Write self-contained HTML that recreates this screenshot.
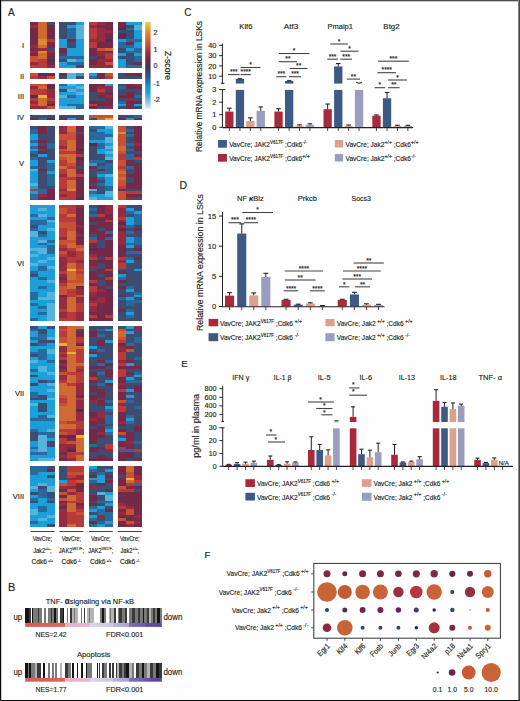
<!DOCTYPE html>
<html><head><meta charset="utf-8"><style>
html,body{margin:0;padding:0;background:#fff;}
body{width:520px;height:701px;overflow:hidden;}
svg{display:block;font-family:"Liberation Sans", sans-serif;}
text{fill:#231f20;stroke:#231f20;stroke-width:0.15px;}
</style></head><body>
<svg width="520" height="701" viewBox="0 0 520 701">
<rect width="520" height="701" fill="#fefefe"/>
<g shape-rendering="crispEdges">
<rect x="30.40" y="21.90" width="8.12" height="2.91" fill="#722a48" />
<rect x="30.40" y="24.76" width="8.12" height="2.91" fill="#962a3e" />
<rect x="30.40" y="27.62" width="8.12" height="2.91" fill="#722a48" />
<rect x="30.40" y="30.49" width="8.12" height="2.91" fill="#722a48" />
<rect x="30.40" y="33.35" width="8.12" height="2.91" fill="#722a48" />
<rect x="30.40" y="36.21" width="8.12" height="2.91" fill="#722a48" />
<rect x="30.40" y="39.08" width="8.12" height="2.91" fill="#722a48" />
<rect x="30.40" y="41.94" width="8.12" height="2.91" fill="#722a48" />
<rect x="30.40" y="44.80" width="8.12" height="2.91" fill="#962a3e" />
<rect x="30.40" y="47.66" width="8.12" height="2.91" fill="#722a48" />
<rect x="30.40" y="50.53" width="8.12" height="2.91" fill="#962a3e" />
<rect x="30.40" y="53.39" width="8.12" height="2.91" fill="#722a48" />
<rect x="30.40" y="56.25" width="8.12" height="2.91" fill="#c95033" />
<rect x="30.40" y="59.11" width="8.12" height="2.91" fill="#c95033" />
<rect x="30.40" y="61.98" width="8.12" height="2.91" fill="#962a3e" />
<rect x="30.40" y="64.84" width="8.12" height="2.91" fill="#b83a3a" />
<rect x="38.47" y="21.90" width="8.12" height="2.91" fill="#cf6a33" />
<rect x="38.47" y="24.76" width="8.12" height="2.91" fill="#cf6a33" />
<rect x="38.47" y="27.62" width="8.12" height="2.91" fill="#cf6a33" />
<rect x="38.47" y="30.49" width="8.12" height="2.91" fill="#cf6a33" />
<rect x="38.47" y="33.35" width="8.12" height="2.91" fill="#cf6a33" />
<rect x="38.47" y="36.21" width="8.12" height="2.91" fill="#cf6a33" />
<rect x="38.47" y="39.08" width="8.12" height="2.91" fill="#dc8a32" />
<rect x="38.47" y="41.94" width="8.12" height="2.91" fill="#dc8a32" />
<rect x="38.47" y="44.80" width="8.12" height="2.91" fill="#cf6a33" />
<rect x="38.47" y="47.66" width="8.12" height="2.91" fill="#962a3e" />
<rect x="38.47" y="50.53" width="8.12" height="2.91" fill="#dc8a32" />
<rect x="38.47" y="53.39" width="8.12" height="2.91" fill="#cf6a33" />
<rect x="38.47" y="56.25" width="8.12" height="2.91" fill="#cf6a33" />
<rect x="38.47" y="59.11" width="8.12" height="2.91" fill="#b83a3a" />
<rect x="38.47" y="61.98" width="8.12" height="2.91" fill="#b83a3a" />
<rect x="38.47" y="64.84" width="8.12" height="2.91" fill="#b83a3a" />
<rect x="46.53" y="21.90" width="8.12" height="2.91" fill="#3f4c72" />
<rect x="46.53" y="24.76" width="8.12" height="2.91" fill="#722a48" />
<rect x="46.53" y="27.62" width="8.12" height="2.91" fill="#722a48" />
<rect x="46.53" y="30.49" width="8.12" height="2.91" fill="#722a48" />
<rect x="46.53" y="33.35" width="8.12" height="2.91" fill="#722a48" />
<rect x="46.53" y="36.21" width="8.12" height="2.91" fill="#722a48" />
<rect x="46.53" y="39.08" width="8.12" height="2.91" fill="#b83a3a" />
<rect x="46.53" y="41.94" width="8.12" height="2.91" fill="#722a48" />
<rect x="46.53" y="44.80" width="8.12" height="2.91" fill="#722a48" />
<rect x="46.53" y="47.66" width="8.12" height="2.91" fill="#3f4c72" />
<rect x="46.53" y="50.53" width="8.12" height="2.91" fill="#962a3e" />
<rect x="46.53" y="53.39" width="8.12" height="2.91" fill="#722a48" />
<rect x="46.53" y="56.25" width="8.12" height="2.91" fill="#722a48" />
<rect x="46.53" y="59.11" width="8.12" height="2.91" fill="#552d50" />
<rect x="46.53" y="61.98" width="8.12" height="2.91" fill="#722a48" />
<rect x="46.53" y="64.84" width="8.12" height="2.91" fill="#962a3e" />
<rect x="59.40" y="21.90" width="8.12" height="2.91" fill="#3f4c72" />
<rect x="59.40" y="24.76" width="8.12" height="2.91" fill="#3f4c72" />
<rect x="59.40" y="27.62" width="8.12" height="2.91" fill="#3f4c72" />
<rect x="59.40" y="30.49" width="8.12" height="2.91" fill="#3f4c72" />
<rect x="59.40" y="33.35" width="8.12" height="2.91" fill="#3f4c72" />
<rect x="59.40" y="36.21" width="8.12" height="2.91" fill="#3f4c72" />
<rect x="59.40" y="39.08" width="8.12" height="2.91" fill="#1c9ed8" />
<rect x="59.40" y="41.94" width="8.12" height="2.91" fill="#1c9ed8" />
<rect x="59.40" y="44.80" width="8.12" height="2.91" fill="#1c9ed8" />
<rect x="59.40" y="47.66" width="8.12" height="2.91" fill="#722a48" />
<rect x="59.40" y="50.53" width="8.12" height="2.91" fill="#722a48" />
<rect x="59.40" y="53.39" width="8.12" height="2.91" fill="#3f4c72" />
<rect x="59.40" y="56.25" width="8.12" height="2.91" fill="#286a9e" />
<rect x="59.40" y="59.11" width="8.12" height="2.91" fill="#3f4c72" />
<rect x="59.40" y="61.98" width="8.12" height="2.91" fill="#1c9ed8" />
<rect x="59.40" y="64.84" width="8.12" height="2.91" fill="#1c9ed8" />
<rect x="67.47" y="21.90" width="8.12" height="2.91" fill="#3f4c72" />
<rect x="67.47" y="24.76" width="8.12" height="2.91" fill="#1c9ed8" />
<rect x="67.47" y="27.62" width="8.12" height="2.91" fill="#286a9e" />
<rect x="67.47" y="30.49" width="8.12" height="2.91" fill="#286a9e" />
<rect x="67.47" y="33.35" width="8.12" height="2.91" fill="#286a9e" />
<rect x="67.47" y="36.21" width="8.12" height="2.91" fill="#286a9e" />
<rect x="67.47" y="39.08" width="8.12" height="2.91" fill="#722a48" />
<rect x="67.47" y="41.94" width="8.12" height="2.91" fill="#3f4c72" />
<rect x="67.47" y="44.80" width="8.12" height="2.91" fill="#3f4c72" />
<rect x="67.47" y="47.66" width="8.12" height="2.91" fill="#1c9ed8" />
<rect x="67.47" y="50.53" width="8.12" height="2.91" fill="#1c9ed8" />
<rect x="67.47" y="53.39" width="8.12" height="2.91" fill="#1c9ed8" />
<rect x="67.47" y="56.25" width="8.12" height="2.91" fill="#286a9e" />
<rect x="67.47" y="59.11" width="8.12" height="2.91" fill="#58b3dc" />
<rect x="67.47" y="61.98" width="8.12" height="2.91" fill="#286a9e" />
<rect x="67.47" y="64.84" width="8.12" height="2.91" fill="#1c9ed8" />
<rect x="75.53" y="21.90" width="8.12" height="2.91" fill="#1c9ed8" />
<rect x="75.53" y="24.76" width="8.12" height="2.91" fill="#58b3dc" />
<rect x="75.53" y="27.62" width="8.12" height="2.91" fill="#58b3dc" />
<rect x="75.53" y="30.49" width="8.12" height="2.91" fill="#58b3dc" />
<rect x="75.53" y="33.35" width="8.12" height="2.91" fill="#58b3dc" />
<rect x="75.53" y="36.21" width="8.12" height="2.91" fill="#58b3dc" />
<rect x="75.53" y="39.08" width="8.12" height="2.91" fill="#1c9ed8" />
<rect x="75.53" y="41.94" width="8.12" height="2.91" fill="#1c9ed8" />
<rect x="75.53" y="44.80" width="8.12" height="2.91" fill="#1c9ed8" />
<rect x="75.53" y="47.66" width="8.12" height="2.91" fill="#1c9ed8" />
<rect x="75.53" y="50.53" width="8.12" height="2.91" fill="#1c9ed8" />
<rect x="75.53" y="53.39" width="8.12" height="2.91" fill="#1c9ed8" />
<rect x="75.53" y="56.25" width="8.12" height="2.91" fill="#286a9e" />
<rect x="75.53" y="59.11" width="8.12" height="2.91" fill="#1c9ed8" />
<rect x="75.53" y="61.98" width="8.12" height="2.91" fill="#286a9e" />
<rect x="75.53" y="64.84" width="8.12" height="2.91" fill="#3f4c72" />
<rect x="88.80" y="21.90" width="8.12" height="2.91" fill="#b83a3a" />
<rect x="88.80" y="24.76" width="8.12" height="2.91" fill="#962a3e" />
<rect x="88.80" y="27.62" width="8.12" height="2.91" fill="#b83a3a" />
<rect x="88.80" y="30.49" width="8.12" height="2.91" fill="#b83a3a" />
<rect x="88.80" y="33.35" width="8.12" height="2.91" fill="#b83a3a" />
<rect x="88.80" y="36.21" width="8.12" height="2.91" fill="#b83a3a" />
<rect x="88.80" y="39.08" width="8.12" height="2.91" fill="#962a3e" />
<rect x="88.80" y="41.94" width="8.12" height="2.91" fill="#b83a3a" />
<rect x="88.80" y="44.80" width="8.12" height="2.91" fill="#b83a3a" />
<rect x="88.80" y="47.66" width="8.12" height="2.91" fill="#722a48" />
<rect x="88.80" y="50.53" width="8.12" height="2.91" fill="#722a48" />
<rect x="88.80" y="53.39" width="8.12" height="2.91" fill="#722a48" />
<rect x="88.80" y="56.25" width="8.12" height="2.91" fill="#3f4c72" />
<rect x="88.80" y="59.11" width="8.12" height="2.91" fill="#722a48" />
<rect x="88.80" y="61.98" width="8.12" height="2.91" fill="#722a48" />
<rect x="88.80" y="64.84" width="8.12" height="2.91" fill="#962a3e" />
<rect x="96.87" y="21.90" width="8.12" height="2.91" fill="#962a3e" />
<rect x="96.87" y="24.76" width="8.12" height="2.91" fill="#722a48" />
<rect x="96.87" y="27.62" width="8.12" height="2.91" fill="#962a3e" />
<rect x="96.87" y="30.49" width="8.12" height="2.91" fill="#962a3e" />
<rect x="96.87" y="33.35" width="8.12" height="2.91" fill="#962a3e" />
<rect x="96.87" y="36.21" width="8.12" height="2.91" fill="#962a3e" />
<rect x="96.87" y="39.08" width="8.12" height="2.91" fill="#962a3e" />
<rect x="96.87" y="41.94" width="8.12" height="2.91" fill="#722a48" />
<rect x="96.87" y="44.80" width="8.12" height="2.91" fill="#722a48" />
<rect x="96.87" y="47.66" width="8.12" height="2.91" fill="#c95033" />
<rect x="96.87" y="50.53" width="8.12" height="2.91" fill="#962a3e" />
<rect x="96.87" y="53.39" width="8.12" height="2.91" fill="#962a3e" />
<rect x="96.87" y="56.25" width="8.12" height="2.91" fill="#722a48" />
<rect x="96.87" y="59.11" width="8.12" height="2.91" fill="#962a3e" />
<rect x="96.87" y="61.98" width="8.12" height="2.91" fill="#962a3e" />
<rect x="96.87" y="64.84" width="8.12" height="2.91" fill="#962a3e" />
<rect x="104.93" y="21.90" width="8.12" height="2.91" fill="#722a48" />
<rect x="104.93" y="24.76" width="8.12" height="2.91" fill="#722a48" />
<rect x="104.93" y="27.62" width="8.12" height="2.91" fill="#722a48" />
<rect x="104.93" y="30.49" width="8.12" height="2.91" fill="#962a3e" />
<rect x="104.93" y="33.35" width="8.12" height="2.91" fill="#722a48" />
<rect x="104.93" y="36.21" width="8.12" height="2.91" fill="#722a48" />
<rect x="104.93" y="39.08" width="8.12" height="2.91" fill="#552d50" />
<rect x="104.93" y="41.94" width="8.12" height="2.91" fill="#722a48" />
<rect x="104.93" y="44.80" width="8.12" height="2.91" fill="#722a48" />
<rect x="104.93" y="47.66" width="8.12" height="2.91" fill="#cf6a33" />
<rect x="104.93" y="50.53" width="8.12" height="2.91" fill="#722a48" />
<rect x="104.93" y="53.39" width="8.12" height="2.91" fill="#b83a3a" />
<rect x="104.93" y="56.25" width="8.12" height="2.91" fill="#b83a3a" />
<rect x="104.93" y="59.11" width="8.12" height="2.91" fill="#962a3e" />
<rect x="104.93" y="61.98" width="8.12" height="2.91" fill="#c95033" />
<rect x="104.93" y="64.84" width="8.12" height="2.91" fill="#962a3e" />
<rect x="117.80" y="21.90" width="8.12" height="2.91" fill="#722a48" />
<rect x="117.80" y="24.76" width="8.12" height="2.91" fill="#722a48" />
<rect x="117.80" y="27.62" width="8.12" height="2.91" fill="#552d50" />
<rect x="117.80" y="30.49" width="8.12" height="2.91" fill="#3f4c72" />
<rect x="117.80" y="33.35" width="8.12" height="2.91" fill="#552d50" />
<rect x="117.80" y="36.21" width="8.12" height="2.91" fill="#552d50" />
<rect x="117.80" y="39.08" width="8.12" height="2.91" fill="#1c9ed8" />
<rect x="117.80" y="41.94" width="8.12" height="2.91" fill="#286a9e" />
<rect x="117.80" y="44.80" width="8.12" height="2.91" fill="#286a9e" />
<rect x="117.80" y="47.66" width="8.12" height="2.91" fill="#3f4c72" />
<rect x="117.80" y="50.53" width="8.12" height="2.91" fill="#3f4c72" />
<rect x="117.80" y="53.39" width="8.12" height="2.91" fill="#1c9ed8" />
<rect x="117.80" y="56.25" width="8.12" height="2.91" fill="#3f4c72" />
<rect x="117.80" y="59.11" width="8.12" height="2.91" fill="#1c9ed8" />
<rect x="117.80" y="61.98" width="8.12" height="2.91" fill="#1c9ed8" />
<rect x="117.80" y="64.84" width="8.12" height="2.91" fill="#1c9ed8" />
<rect x="125.87" y="21.90" width="8.12" height="2.91" fill="#1c9ed8" />
<rect x="125.87" y="24.76" width="8.12" height="2.91" fill="#3f4c72" />
<rect x="125.87" y="27.62" width="8.12" height="2.91" fill="#286a9e" />
<rect x="125.87" y="30.49" width="8.12" height="2.91" fill="#3f4c72" />
<rect x="125.87" y="33.35" width="8.12" height="2.91" fill="#3f4c72" />
<rect x="125.87" y="36.21" width="8.12" height="2.91" fill="#3f4c72" />
<rect x="125.87" y="39.08" width="8.12" height="2.91" fill="#286a9e" />
<rect x="125.87" y="41.94" width="8.12" height="2.91" fill="#722a48" />
<rect x="125.87" y="44.80" width="8.12" height="2.91" fill="#286a9e" />
<rect x="125.87" y="47.66" width="8.12" height="2.91" fill="#1c9ed8" />
<rect x="125.87" y="50.53" width="8.12" height="2.91" fill="#286a9e" />
<rect x="125.87" y="53.39" width="8.12" height="2.91" fill="#3f4c72" />
<rect x="125.87" y="56.25" width="8.12" height="2.91" fill="#3f4c72" />
<rect x="125.87" y="59.11" width="8.12" height="2.91" fill="#3f4c72" />
<rect x="125.87" y="61.98" width="8.12" height="2.91" fill="#3f4c72" />
<rect x="125.87" y="64.84" width="8.12" height="2.91" fill="#286a9e" />
<rect x="133.93" y="21.90" width="8.12" height="2.91" fill="#1c9ed8" />
<rect x="133.93" y="24.76" width="8.12" height="2.91" fill="#58b3dc" />
<rect x="133.93" y="27.62" width="8.12" height="2.91" fill="#58b3dc" />
<rect x="133.93" y="30.49" width="8.12" height="2.91" fill="#1c9ed8" />
<rect x="133.93" y="33.35" width="8.12" height="2.91" fill="#1c9ed8" />
<rect x="133.93" y="36.21" width="8.12" height="2.91" fill="#1c9ed8" />
<rect x="133.93" y="39.08" width="8.12" height="2.91" fill="#286a9e" />
<rect x="133.93" y="41.94" width="8.12" height="2.91" fill="#1c9ed8" />
<rect x="133.93" y="44.80" width="8.12" height="2.91" fill="#1c9ed8" />
<rect x="133.93" y="47.66" width="8.12" height="2.91" fill="#286a9e" />
<rect x="133.93" y="50.53" width="8.12" height="2.91" fill="#286a9e" />
<rect x="133.93" y="53.39" width="8.12" height="2.91" fill="#1c9ed8" />
<rect x="133.93" y="56.25" width="8.12" height="2.91" fill="#286a9e" />
<rect x="133.93" y="59.11" width="8.12" height="2.91" fill="#286a9e" />
<rect x="133.93" y="61.98" width="8.12" height="2.91" fill="#722a48" />
<rect x="133.93" y="64.84" width="8.12" height="2.91" fill="#286a9e" />
<rect x="30.40" y="73.20" width="8.12" height="2.70" fill="#c95033" />
<rect x="30.40" y="75.85" width="8.12" height="2.70" fill="#b83a3a" />
<rect x="38.47" y="73.20" width="8.12" height="2.70" fill="#552d50" />
<rect x="38.47" y="75.85" width="8.12" height="2.70" fill="#962a3e" />
<rect x="46.53" y="73.20" width="8.12" height="2.70" fill="#722a48" />
<rect x="46.53" y="75.85" width="8.12" height="2.70" fill="#c95033" />
<rect x="59.40" y="73.20" width="8.12" height="2.70" fill="#722a48" />
<rect x="59.40" y="75.85" width="8.12" height="2.70" fill="#3f4c72" />
<rect x="67.47" y="73.20" width="8.12" height="2.70" fill="#58b3dc" />
<rect x="67.47" y="75.85" width="8.12" height="2.70" fill="#58b3dc" />
<rect x="75.53" y="73.20" width="8.12" height="2.70" fill="#1c9ed8" />
<rect x="75.53" y="75.85" width="8.12" height="2.70" fill="#3f4c72" />
<rect x="88.80" y="73.20" width="8.12" height="2.70" fill="#1c9ed8" />
<rect x="88.80" y="75.85" width="8.12" height="2.70" fill="#286a9e" />
<rect x="96.87" y="73.20" width="8.12" height="2.70" fill="#722a48" />
<rect x="96.87" y="75.85" width="8.12" height="2.70" fill="#722a48" />
<rect x="104.93" y="73.20" width="8.12" height="2.70" fill="#c95033" />
<rect x="104.93" y="75.85" width="8.12" height="2.70" fill="#b83a3a" />
<rect x="117.80" y="73.20" width="8.12" height="2.70" fill="#3f4c72" />
<rect x="117.80" y="75.85" width="8.12" height="2.70" fill="#3f4c72" />
<rect x="125.87" y="73.20" width="8.12" height="2.70" fill="#722a48" />
<rect x="125.87" y="75.85" width="8.12" height="2.70" fill="#3f4c72" />
<rect x="133.93" y="73.20" width="8.12" height="2.70" fill="#722a48" />
<rect x="133.93" y="75.85" width="8.12" height="2.70" fill="#3f4c72" />
<rect x="30.40" y="83.60" width="8.12" height="2.91" fill="#c95033" />
<rect x="30.40" y="86.46" width="8.12" height="2.91" fill="#962a3e" />
<rect x="30.40" y="89.31" width="8.12" height="2.91" fill="#b83a3a" />
<rect x="30.40" y="92.17" width="8.12" height="2.91" fill="#b83a3a" />
<rect x="30.40" y="95.02" width="8.12" height="2.91" fill="#552d50" />
<rect x="30.40" y="97.88" width="8.12" height="2.91" fill="#b83a3a" />
<rect x="30.40" y="100.73" width="8.12" height="2.91" fill="#962a3e" />
<rect x="30.40" y="103.59" width="8.12" height="2.91" fill="#b83a3a" />
<rect x="30.40" y="106.44" width="8.12" height="2.91" fill="#962a3e" />
<rect x="38.47" y="83.60" width="8.12" height="2.91" fill="#c95033" />
<rect x="38.47" y="86.46" width="8.12" height="2.91" fill="#cf6a33" />
<rect x="38.47" y="89.31" width="8.12" height="2.91" fill="#b83a3a" />
<rect x="38.47" y="92.17" width="8.12" height="2.91" fill="#b83a3a" />
<rect x="38.47" y="95.02" width="8.12" height="2.91" fill="#e9b034" />
<rect x="38.47" y="97.88" width="8.12" height="2.91" fill="#cf6a33" />
<rect x="38.47" y="100.73" width="8.12" height="2.91" fill="#cf6a33" />
<rect x="38.47" y="103.59" width="8.12" height="2.91" fill="#cf6a33" />
<rect x="38.47" y="106.44" width="8.12" height="2.91" fill="#962a3e" />
<rect x="46.53" y="83.60" width="8.12" height="2.91" fill="#722a48" />
<rect x="46.53" y="86.46" width="8.12" height="2.91" fill="#552d50" />
<rect x="46.53" y="89.31" width="8.12" height="2.91" fill="#962a3e" />
<rect x="46.53" y="92.17" width="8.12" height="2.91" fill="#962a3e" />
<rect x="46.53" y="95.02" width="8.12" height="2.91" fill="#962a3e" />
<rect x="46.53" y="97.88" width="8.12" height="2.91" fill="#b83a3a" />
<rect x="46.53" y="100.73" width="8.12" height="2.91" fill="#962a3e" />
<rect x="46.53" y="103.59" width="8.12" height="2.91" fill="#552d50" />
<rect x="46.53" y="106.44" width="8.12" height="2.91" fill="#c95033" />
<rect x="59.40" y="83.60" width="8.12" height="2.91" fill="#286a9e" />
<rect x="59.40" y="86.46" width="8.12" height="2.91" fill="#1c9ed8" />
<rect x="59.40" y="89.31" width="8.12" height="2.91" fill="#3f4c72" />
<rect x="59.40" y="92.17" width="8.12" height="2.91" fill="#1c9ed8" />
<rect x="59.40" y="95.02" width="8.12" height="2.91" fill="#58b3dc" />
<rect x="59.40" y="97.88" width="8.12" height="2.91" fill="#1c9ed8" />
<rect x="59.40" y="100.73" width="8.12" height="2.91" fill="#1c9ed8" />
<rect x="59.40" y="103.59" width="8.12" height="2.91" fill="#1c9ed8" />
<rect x="59.40" y="106.44" width="8.12" height="2.91" fill="#58b3dc" />
<rect x="67.47" y="83.60" width="8.12" height="2.91" fill="#58b3dc" />
<rect x="67.47" y="86.46" width="8.12" height="2.91" fill="#1c9ed8" />
<rect x="67.47" y="89.31" width="8.12" height="2.91" fill="#58b3dc" />
<rect x="67.47" y="92.17" width="8.12" height="2.91" fill="#1c9ed8" />
<rect x="67.47" y="95.02" width="8.12" height="2.91" fill="#286a9e" />
<rect x="67.47" y="97.88" width="8.12" height="2.91" fill="#1c9ed8" />
<rect x="67.47" y="100.73" width="8.12" height="2.91" fill="#1c9ed8" />
<rect x="67.47" y="103.59" width="8.12" height="2.91" fill="#286a9e" />
<rect x="67.47" y="106.44" width="8.12" height="2.91" fill="#58b3dc" />
<rect x="75.53" y="83.60" width="8.12" height="2.91" fill="#1c9ed8" />
<rect x="75.53" y="86.46" width="8.12" height="2.91" fill="#58b3dc" />
<rect x="75.53" y="89.31" width="8.12" height="2.91" fill="#1c9ed8" />
<rect x="75.53" y="92.17" width="8.12" height="2.91" fill="#58b3dc" />
<rect x="75.53" y="95.02" width="8.12" height="2.91" fill="#1c9ed8" />
<rect x="75.53" y="97.88" width="8.12" height="2.91" fill="#1c9ed8" />
<rect x="75.53" y="100.73" width="8.12" height="2.91" fill="#1c9ed8" />
<rect x="75.53" y="103.59" width="8.12" height="2.91" fill="#286a9e" />
<rect x="75.53" y="106.44" width="8.12" height="2.91" fill="#286a9e" />
<rect x="88.80" y="83.60" width="8.12" height="2.91" fill="#722a48" />
<rect x="88.80" y="86.46" width="8.12" height="2.91" fill="#722a48" />
<rect x="88.80" y="89.31" width="8.12" height="2.91" fill="#722a48" />
<rect x="88.80" y="92.17" width="8.12" height="2.91" fill="#3f4c72" />
<rect x="88.80" y="95.02" width="8.12" height="2.91" fill="#3f4c72" />
<rect x="88.80" y="97.88" width="8.12" height="2.91" fill="#3f4c72" />
<rect x="88.80" y="100.73" width="8.12" height="2.91" fill="#722a48" />
<rect x="88.80" y="103.59" width="8.12" height="2.91" fill="#b83a3a" />
<rect x="88.80" y="106.44" width="8.12" height="2.91" fill="#722a48" />
<rect x="96.87" y="83.60" width="8.12" height="2.91" fill="#722a48" />
<rect x="96.87" y="86.46" width="8.12" height="2.91" fill="#962a3e" />
<rect x="96.87" y="89.31" width="8.12" height="2.91" fill="#b83a3a" />
<rect x="96.87" y="92.17" width="8.12" height="2.91" fill="#962a3e" />
<rect x="96.87" y="95.02" width="8.12" height="2.91" fill="#722a48" />
<rect x="96.87" y="97.88" width="8.12" height="2.91" fill="#3f4c72" />
<rect x="96.87" y="100.73" width="8.12" height="2.91" fill="#722a48" />
<rect x="96.87" y="103.59" width="8.12" height="2.91" fill="#722a48" />
<rect x="96.87" y="106.44" width="8.12" height="2.91" fill="#3f4c72" />
<rect x="104.93" y="83.60" width="8.12" height="2.91" fill="#1c9ed8" />
<rect x="104.93" y="86.46" width="8.12" height="2.91" fill="#962a3e" />
<rect x="104.93" y="89.31" width="8.12" height="2.91" fill="#3f4c72" />
<rect x="104.93" y="92.17" width="8.12" height="2.91" fill="#722a48" />
<rect x="104.93" y="95.02" width="8.12" height="2.91" fill="#962a3e" />
<rect x="104.93" y="97.88" width="8.12" height="2.91" fill="#722a48" />
<rect x="104.93" y="100.73" width="8.12" height="2.91" fill="#722a48" />
<rect x="104.93" y="103.59" width="8.12" height="2.91" fill="#722a48" />
<rect x="104.93" y="106.44" width="8.12" height="2.91" fill="#962a3e" />
<rect x="117.80" y="83.60" width="8.12" height="2.91" fill="#3f4c72" />
<rect x="117.80" y="86.46" width="8.12" height="2.91" fill="#286a9e" />
<rect x="117.80" y="89.31" width="8.12" height="2.91" fill="#3f4c72" />
<rect x="117.80" y="92.17" width="8.12" height="2.91" fill="#3f4c72" />
<rect x="117.80" y="95.02" width="8.12" height="2.91" fill="#722a48" />
<rect x="117.80" y="97.88" width="8.12" height="2.91" fill="#3f4c72" />
<rect x="117.80" y="100.73" width="8.12" height="2.91" fill="#286a9e" />
<rect x="117.80" y="103.59" width="8.12" height="2.91" fill="#1c9ed8" />
<rect x="117.80" y="106.44" width="8.12" height="2.91" fill="#3f4c72" />
<rect x="125.87" y="83.60" width="8.12" height="2.91" fill="#722a48" />
<rect x="125.87" y="86.46" width="8.12" height="2.91" fill="#722a48" />
<rect x="125.87" y="89.31" width="8.12" height="2.91" fill="#3f4c72" />
<rect x="125.87" y="92.17" width="8.12" height="2.91" fill="#722a48" />
<rect x="125.87" y="95.02" width="8.12" height="2.91" fill="#722a48" />
<rect x="125.87" y="97.88" width="8.12" height="2.91" fill="#962a3e" />
<rect x="125.87" y="100.73" width="8.12" height="2.91" fill="#722a48" />
<rect x="125.87" y="103.59" width="8.12" height="2.91" fill="#722a48" />
<rect x="125.87" y="106.44" width="8.12" height="2.91" fill="#722a48" />
<rect x="133.93" y="83.60" width="8.12" height="2.91" fill="#962a3e" />
<rect x="133.93" y="86.46" width="8.12" height="2.91" fill="#722a48" />
<rect x="133.93" y="89.31" width="8.12" height="2.91" fill="#3f4c72" />
<rect x="133.93" y="92.17" width="8.12" height="2.91" fill="#3f4c72" />
<rect x="133.93" y="95.02" width="8.12" height="2.91" fill="#286a9e" />
<rect x="133.93" y="97.88" width="8.12" height="2.91" fill="#3f4c72" />
<rect x="133.93" y="100.73" width="8.12" height="2.91" fill="#722a48" />
<rect x="133.93" y="103.59" width="8.12" height="2.91" fill="#1c9ed8" />
<rect x="133.93" y="106.44" width="8.12" height="2.91" fill="#3f4c72" />
<rect x="30.40" y="114.80" width="8.12" height="2.85" fill="#3f4c72" />
<rect x="30.40" y="117.60" width="8.12" height="2.85" fill="#722a48" />
<rect x="38.47" y="114.80" width="8.12" height="2.85" fill="#3f4c72" />
<rect x="38.47" y="117.60" width="8.12" height="2.85" fill="#286a9e" />
<rect x="46.53" y="114.80" width="8.12" height="2.85" fill="#3f4c72" />
<rect x="46.53" y="117.60" width="8.12" height="2.85" fill="#552d50" />
<rect x="59.40" y="114.80" width="8.12" height="2.85" fill="#3f4c72" />
<rect x="59.40" y="117.60" width="8.12" height="2.85" fill="#722a48" />
<rect x="67.47" y="114.80" width="8.12" height="2.85" fill="#3f4c72" />
<rect x="67.47" y="117.60" width="8.12" height="2.85" fill="#1c9ed8" />
<rect x="75.53" y="114.80" width="8.12" height="2.85" fill="#3f4c72" />
<rect x="75.53" y="117.60" width="8.12" height="2.85" fill="#3f4c72" />
<rect x="88.80" y="114.80" width="8.12" height="2.85" fill="#c95033" />
<rect x="88.80" y="117.60" width="8.12" height="2.85" fill="#3f4c72" />
<rect x="96.87" y="114.80" width="8.12" height="2.85" fill="#c95033" />
<rect x="96.87" y="117.60" width="8.12" height="2.85" fill="#cf6a33" />
<rect x="104.93" y="114.80" width="8.12" height="2.85" fill="#c95033" />
<rect x="104.93" y="117.60" width="8.12" height="2.85" fill="#e9b034" />
<rect x="117.80" y="114.80" width="8.12" height="2.85" fill="#3f4c72" />
<rect x="117.80" y="117.60" width="8.12" height="2.85" fill="#722a48" />
<rect x="125.87" y="114.80" width="8.12" height="2.85" fill="#3f4c72" />
<rect x="125.87" y="117.60" width="8.12" height="2.85" fill="#1c9ed8" />
<rect x="133.93" y="114.80" width="8.12" height="2.85" fill="#286a9e" />
<rect x="133.93" y="117.60" width="8.12" height="2.85" fill="#722a48" />
<rect x="30.40" y="125.80" width="8.12" height="2.90" fill="#3f4c72" />
<rect x="30.40" y="128.65" width="8.12" height="2.90" fill="#286a9e" />
<rect x="30.40" y="131.50" width="8.12" height="2.90" fill="#286a9e" />
<rect x="30.40" y="134.35" width="8.12" height="2.90" fill="#1c9ed8" />
<rect x="30.40" y="137.20" width="8.12" height="2.90" fill="#1c9ed8" />
<rect x="30.40" y="140.05" width="8.12" height="2.90" fill="#286a9e" />
<rect x="30.40" y="142.90" width="8.12" height="2.90" fill="#1c9ed8" />
<rect x="30.40" y="145.75" width="8.12" height="2.90" fill="#286a9e" />
<rect x="30.40" y="148.60" width="8.12" height="2.90" fill="#1c9ed8" />
<rect x="30.40" y="151.45" width="8.12" height="2.90" fill="#286a9e" />
<rect x="30.40" y="154.30" width="8.12" height="2.90" fill="#3f4c72" />
<rect x="30.40" y="157.15" width="8.12" height="2.90" fill="#286a9e" />
<rect x="30.40" y="160.00" width="8.12" height="2.90" fill="#1c9ed8" />
<rect x="30.40" y="162.85" width="8.12" height="2.90" fill="#1c9ed8" />
<rect x="30.40" y="165.70" width="8.12" height="2.90" fill="#286a9e" />
<rect x="30.40" y="168.55" width="8.12" height="2.90" fill="#58b3dc" />
<rect x="30.40" y="171.40" width="8.12" height="2.90" fill="#1c9ed8" />
<rect x="30.40" y="174.25" width="8.12" height="2.90" fill="#1c9ed8" />
<rect x="30.40" y="177.10" width="8.12" height="2.90" fill="#1c9ed8" />
<rect x="30.40" y="179.95" width="8.12" height="2.90" fill="#1c9ed8" />
<rect x="30.40" y="182.80" width="8.12" height="2.90" fill="#58b3dc" />
<rect x="30.40" y="185.65" width="8.12" height="2.90" fill="#1c9ed8" />
<rect x="30.40" y="188.50" width="8.12" height="2.90" fill="#b83a3a" />
<rect x="30.40" y="191.35" width="8.12" height="2.90" fill="#1c9ed8" />
<rect x="30.40" y="194.20" width="8.12" height="2.90" fill="#286a9e" />
<rect x="30.40" y="197.05" width="8.12" height="2.90" fill="#286a9e" />
<rect x="38.47" y="125.80" width="8.12" height="2.90" fill="#722a48" />
<rect x="38.47" y="128.65" width="8.12" height="2.90" fill="#722a48" />
<rect x="38.47" y="131.50" width="8.12" height="2.90" fill="#722a48" />
<rect x="38.47" y="134.35" width="8.12" height="2.90" fill="#3f4c72" />
<rect x="38.47" y="137.20" width="8.12" height="2.90" fill="#3f4c72" />
<rect x="38.47" y="140.05" width="8.12" height="2.90" fill="#722a48" />
<rect x="38.47" y="142.90" width="8.12" height="2.90" fill="#3f4c72" />
<rect x="38.47" y="145.75" width="8.12" height="2.90" fill="#722a48" />
<rect x="38.47" y="148.60" width="8.12" height="2.90" fill="#3f4c72" />
<rect x="38.47" y="151.45" width="8.12" height="2.90" fill="#722a48" />
<rect x="38.47" y="154.30" width="8.12" height="2.90" fill="#1c9ed8" />
<rect x="38.47" y="157.15" width="8.12" height="2.90" fill="#3f4c72" />
<rect x="38.47" y="160.00" width="8.12" height="2.90" fill="#3f4c72" />
<rect x="38.47" y="162.85" width="8.12" height="2.90" fill="#3f4c72" />
<rect x="38.47" y="165.70" width="8.12" height="2.90" fill="#3f4c72" />
<rect x="38.47" y="168.55" width="8.12" height="2.90" fill="#722a48" />
<rect x="38.47" y="171.40" width="8.12" height="2.90" fill="#3f4c72" />
<rect x="38.47" y="174.25" width="8.12" height="2.90" fill="#3f4c72" />
<rect x="38.47" y="177.10" width="8.12" height="2.90" fill="#3f4c72" />
<rect x="38.47" y="179.95" width="8.12" height="2.90" fill="#3f4c72" />
<rect x="38.47" y="182.80" width="8.12" height="2.90" fill="#3f4c72" />
<rect x="38.47" y="185.65" width="8.12" height="2.90" fill="#3f4c72" />
<rect x="38.47" y="188.50" width="8.12" height="2.90" fill="#286a9e" />
<rect x="38.47" y="191.35" width="8.12" height="2.90" fill="#286a9e" />
<rect x="38.47" y="194.20" width="8.12" height="2.90" fill="#962a3e" />
<rect x="38.47" y="197.05" width="8.12" height="2.90" fill="#722a48" />
<rect x="46.53" y="125.80" width="8.12" height="2.90" fill="#3f4c72" />
<rect x="46.53" y="128.65" width="8.12" height="2.90" fill="#3f4c72" />
<rect x="46.53" y="131.50" width="8.12" height="2.90" fill="#3f4c72" />
<rect x="46.53" y="134.35" width="8.12" height="2.90" fill="#3f4c72" />
<rect x="46.53" y="137.20" width="8.12" height="2.90" fill="#3f4c72" />
<rect x="46.53" y="140.05" width="8.12" height="2.90" fill="#3f4c72" />
<rect x="46.53" y="142.90" width="8.12" height="2.90" fill="#286a9e" />
<rect x="46.53" y="145.75" width="8.12" height="2.90" fill="#286a9e" />
<rect x="46.53" y="148.60" width="8.12" height="2.90" fill="#3f4c72" />
<rect x="46.53" y="151.45" width="8.12" height="2.90" fill="#3f4c72" />
<rect x="46.53" y="154.30" width="8.12" height="2.90" fill="#3f4c72" />
<rect x="46.53" y="157.15" width="8.12" height="2.90" fill="#3f4c72" />
<rect x="46.53" y="160.00" width="8.12" height="2.90" fill="#1c9ed8" />
<rect x="46.53" y="162.85" width="8.12" height="2.90" fill="#286a9e" />
<rect x="46.53" y="165.70" width="8.12" height="2.90" fill="#286a9e" />
<rect x="46.53" y="168.55" width="8.12" height="2.90" fill="#286a9e" />
<rect x="46.53" y="171.40" width="8.12" height="2.90" fill="#1c9ed8" />
<rect x="46.53" y="174.25" width="8.12" height="2.90" fill="#286a9e" />
<rect x="46.53" y="177.10" width="8.12" height="2.90" fill="#286a9e" />
<rect x="46.53" y="179.95" width="8.12" height="2.90" fill="#286a9e" />
<rect x="46.53" y="182.80" width="8.12" height="2.90" fill="#286a9e" />
<rect x="46.53" y="185.65" width="8.12" height="2.90" fill="#3f4c72" />
<rect x="46.53" y="188.50" width="8.12" height="2.90" fill="#722a48" />
<rect x="46.53" y="191.35" width="8.12" height="2.90" fill="#722a48" />
<rect x="46.53" y="194.20" width="8.12" height="2.90" fill="#722a48" />
<rect x="46.53" y="197.05" width="8.12" height="2.90" fill="#722a48" />
<rect x="59.40" y="125.80" width="8.12" height="2.90" fill="#962a3e" />
<rect x="59.40" y="128.65" width="8.12" height="2.90" fill="#962a3e" />
<rect x="59.40" y="131.50" width="8.12" height="2.90" fill="#962a3e" />
<rect x="59.40" y="134.35" width="8.12" height="2.90" fill="#c95033" />
<rect x="59.40" y="137.20" width="8.12" height="2.90" fill="#c95033" />
<rect x="59.40" y="140.05" width="8.12" height="2.90" fill="#b83a3a" />
<rect x="59.40" y="142.90" width="8.12" height="2.90" fill="#b83a3a" />
<rect x="59.40" y="145.75" width="8.12" height="2.90" fill="#962a3e" />
<rect x="59.40" y="148.60" width="8.12" height="2.90" fill="#c95033" />
<rect x="59.40" y="151.45" width="8.12" height="2.90" fill="#b83a3a" />
<rect x="59.40" y="154.30" width="8.12" height="2.90" fill="#cf6a33" />
<rect x="59.40" y="157.15" width="8.12" height="2.90" fill="#c95033" />
<rect x="59.40" y="160.00" width="8.12" height="2.90" fill="#b83a3a" />
<rect x="59.40" y="162.85" width="8.12" height="2.90" fill="#b83a3a" />
<rect x="59.40" y="165.70" width="8.12" height="2.90" fill="#cf6a33" />
<rect x="59.40" y="168.55" width="8.12" height="2.90" fill="#b83a3a" />
<rect x="59.40" y="171.40" width="8.12" height="2.90" fill="#b83a3a" />
<rect x="59.40" y="174.25" width="8.12" height="2.90" fill="#962a3e" />
<rect x="59.40" y="177.10" width="8.12" height="2.90" fill="#b83a3a" />
<rect x="59.40" y="179.95" width="8.12" height="2.90" fill="#b83a3a" />
<rect x="59.40" y="182.80" width="8.12" height="2.90" fill="#b83a3a" />
<rect x="59.40" y="185.65" width="8.12" height="2.90" fill="#b83a3a" />
<rect x="59.40" y="188.50" width="8.12" height="2.90" fill="#962a3e" />
<rect x="59.40" y="191.35" width="8.12" height="2.90" fill="#b83a3a" />
<rect x="59.40" y="194.20" width="8.12" height="2.90" fill="#962a3e" />
<rect x="59.40" y="197.05" width="8.12" height="2.90" fill="#b83a3a" />
<rect x="67.47" y="125.80" width="8.12" height="2.90" fill="#cf6a33" />
<rect x="67.47" y="128.65" width="8.12" height="2.90" fill="#cf6a33" />
<rect x="67.47" y="131.50" width="8.12" height="2.90" fill="#c95033" />
<rect x="67.47" y="134.35" width="8.12" height="2.90" fill="#c95033" />
<rect x="67.47" y="137.20" width="8.12" height="2.90" fill="#c95033" />
<rect x="67.47" y="140.05" width="8.12" height="2.90" fill="#cf6a33" />
<rect x="67.47" y="142.90" width="8.12" height="2.90" fill="#cf6a33" />
<rect x="67.47" y="145.75" width="8.12" height="2.90" fill="#cf6a33" />
<rect x="67.47" y="148.60" width="8.12" height="2.90" fill="#cf6a33" />
<rect x="67.47" y="151.45" width="8.12" height="2.90" fill="#b83a3a" />
<rect x="67.47" y="154.30" width="8.12" height="2.90" fill="#cf6a33" />
<rect x="67.47" y="157.15" width="8.12" height="2.90" fill="#cf6a33" />
<rect x="67.47" y="160.00" width="8.12" height="2.90" fill="#cf6a33" />
<rect x="67.47" y="162.85" width="8.12" height="2.90" fill="#c95033" />
<rect x="67.47" y="165.70" width="8.12" height="2.90" fill="#b83a3a" />
<rect x="67.47" y="168.55" width="8.12" height="2.90" fill="#cf6a33" />
<rect x="67.47" y="171.40" width="8.12" height="2.90" fill="#cf6a33" />
<rect x="67.47" y="174.25" width="8.12" height="2.90" fill="#cf6a33" />
<rect x="67.47" y="177.10" width="8.12" height="2.90" fill="#b83a3a" />
<rect x="67.47" y="179.95" width="8.12" height="2.90" fill="#cf6a33" />
<rect x="67.47" y="182.80" width="8.12" height="2.90" fill="#cf6a33" />
<rect x="67.47" y="185.65" width="8.12" height="2.90" fill="#cf6a33" />
<rect x="67.47" y="188.50" width="8.12" height="2.90" fill="#dc8a32" />
<rect x="67.47" y="191.35" width="8.12" height="2.90" fill="#b83a3a" />
<rect x="67.47" y="194.20" width="8.12" height="2.90" fill="#b83a3a" />
<rect x="67.47" y="197.05" width="8.12" height="2.90" fill="#b83a3a" />
<rect x="75.53" y="125.80" width="8.12" height="2.90" fill="#722a48" />
<rect x="75.53" y="128.65" width="8.12" height="2.90" fill="#722a48" />
<rect x="75.53" y="131.50" width="8.12" height="2.90" fill="#3f4c72" />
<rect x="75.53" y="134.35" width="8.12" height="2.90" fill="#722a48" />
<rect x="75.53" y="137.20" width="8.12" height="2.90" fill="#722a48" />
<rect x="75.53" y="140.05" width="8.12" height="2.90" fill="#722a48" />
<rect x="75.53" y="142.90" width="8.12" height="2.90" fill="#722a48" />
<rect x="75.53" y="145.75" width="8.12" height="2.90" fill="#722a48" />
<rect x="75.53" y="148.60" width="8.12" height="2.90" fill="#552d50" />
<rect x="75.53" y="151.45" width="8.12" height="2.90" fill="#722a48" />
<rect x="75.53" y="154.30" width="8.12" height="2.90" fill="#b83a3a" />
<rect x="75.53" y="157.15" width="8.12" height="2.90" fill="#552d50" />
<rect x="75.53" y="160.00" width="8.12" height="2.90" fill="#722a48" />
<rect x="75.53" y="162.85" width="8.12" height="2.90" fill="#722a48" />
<rect x="75.53" y="165.70" width="8.12" height="2.90" fill="#3f4c72" />
<rect x="75.53" y="168.55" width="8.12" height="2.90" fill="#722a48" />
<rect x="75.53" y="171.40" width="8.12" height="2.90" fill="#722a48" />
<rect x="75.53" y="174.25" width="8.12" height="2.90" fill="#b83a3a" />
<rect x="75.53" y="177.10" width="8.12" height="2.90" fill="#722a48" />
<rect x="75.53" y="179.95" width="8.12" height="2.90" fill="#722a48" />
<rect x="75.53" y="182.80" width="8.12" height="2.90" fill="#722a48" />
<rect x="75.53" y="185.65" width="8.12" height="2.90" fill="#722a48" />
<rect x="75.53" y="188.50" width="8.12" height="2.90" fill="#722a48" />
<rect x="75.53" y="191.35" width="8.12" height="2.90" fill="#722a48" />
<rect x="75.53" y="194.20" width="8.12" height="2.90" fill="#722a48" />
<rect x="75.53" y="197.05" width="8.12" height="2.90" fill="#552d50" />
<rect x="88.80" y="125.80" width="8.12" height="2.90" fill="#286a9e" />
<rect x="88.80" y="128.65" width="8.12" height="2.90" fill="#3f4c72" />
<rect x="88.80" y="131.50" width="8.12" height="2.90" fill="#286a9e" />
<rect x="88.80" y="134.35" width="8.12" height="2.90" fill="#286a9e" />
<rect x="88.80" y="137.20" width="8.12" height="2.90" fill="#286a9e" />
<rect x="88.80" y="140.05" width="8.12" height="2.90" fill="#1c9ed8" />
<rect x="88.80" y="142.90" width="8.12" height="2.90" fill="#552d50" />
<rect x="88.80" y="145.75" width="8.12" height="2.90" fill="#3f4c72" />
<rect x="88.80" y="148.60" width="8.12" height="2.90" fill="#3f4c72" />
<rect x="88.80" y="151.45" width="8.12" height="2.90" fill="#3f4c72" />
<rect x="88.80" y="154.30" width="8.12" height="2.90" fill="#3f4c72" />
<rect x="88.80" y="157.15" width="8.12" height="2.90" fill="#3f4c72" />
<rect x="88.80" y="160.00" width="8.12" height="2.90" fill="#286a9e" />
<rect x="88.80" y="162.85" width="8.12" height="2.90" fill="#1c9ed8" />
<rect x="88.80" y="165.70" width="8.12" height="2.90" fill="#722a48" />
<rect x="88.80" y="168.55" width="8.12" height="2.90" fill="#3f4c72" />
<rect x="88.80" y="171.40" width="8.12" height="2.90" fill="#3f4c72" />
<rect x="88.80" y="174.25" width="8.12" height="2.90" fill="#3f4c72" />
<rect x="88.80" y="177.10" width="8.12" height="2.90" fill="#722a48" />
<rect x="88.80" y="179.95" width="8.12" height="2.90" fill="#722a48" />
<rect x="88.80" y="182.80" width="8.12" height="2.90" fill="#3f4c72" />
<rect x="88.80" y="185.65" width="8.12" height="2.90" fill="#722a48" />
<rect x="88.80" y="188.50" width="8.12" height="2.90" fill="#58b3dc" />
<rect x="88.80" y="191.35" width="8.12" height="2.90" fill="#286a9e" />
<rect x="88.80" y="194.20" width="8.12" height="2.90" fill="#1c9ed8" />
<rect x="88.80" y="197.05" width="8.12" height="2.90" fill="#58b3dc" />
<rect x="96.87" y="125.80" width="8.12" height="2.90" fill="#286a9e" />
<rect x="96.87" y="128.65" width="8.12" height="2.90" fill="#1c9ed8" />
<rect x="96.87" y="131.50" width="8.12" height="2.90" fill="#286a9e" />
<rect x="96.87" y="134.35" width="8.12" height="2.90" fill="#286a9e" />
<rect x="96.87" y="137.20" width="8.12" height="2.90" fill="#286a9e" />
<rect x="96.87" y="140.05" width="8.12" height="2.90" fill="#1c9ed8" />
<rect x="96.87" y="142.90" width="8.12" height="2.90" fill="#286a9e" />
<rect x="96.87" y="145.75" width="8.12" height="2.90" fill="#286a9e" />
<rect x="96.87" y="148.60" width="8.12" height="2.90" fill="#1c9ed8" />
<rect x="96.87" y="151.45" width="8.12" height="2.90" fill="#1c9ed8" />
<rect x="96.87" y="154.30" width="8.12" height="2.90" fill="#3f4c72" />
<rect x="96.87" y="157.15" width="8.12" height="2.90" fill="#3f4c72" />
<rect x="96.87" y="160.00" width="8.12" height="2.90" fill="#286a9e" />
<rect x="96.87" y="162.85" width="8.12" height="2.90" fill="#3f4c72" />
<rect x="96.87" y="165.70" width="8.12" height="2.90" fill="#286a9e" />
<rect x="96.87" y="168.55" width="8.12" height="2.90" fill="#722a48" />
<rect x="96.87" y="171.40" width="8.12" height="2.90" fill="#286a9e" />
<rect x="96.87" y="174.25" width="8.12" height="2.90" fill="#1c9ed8" />
<rect x="96.87" y="177.10" width="8.12" height="2.90" fill="#286a9e" />
<rect x="96.87" y="179.95" width="8.12" height="2.90" fill="#3f4c72" />
<rect x="96.87" y="182.80" width="8.12" height="2.90" fill="#286a9e" />
<rect x="96.87" y="185.65" width="8.12" height="2.90" fill="#3f4c72" />
<rect x="96.87" y="188.50" width="8.12" height="2.90" fill="#3f4c72" />
<rect x="96.87" y="191.35" width="8.12" height="2.90" fill="#3f4c72" />
<rect x="96.87" y="194.20" width="8.12" height="2.90" fill="#1c9ed8" />
<rect x="96.87" y="197.05" width="8.12" height="2.90" fill="#1c9ed8" />
<rect x="104.93" y="125.80" width="8.12" height="2.90" fill="#58b3dc" />
<rect x="104.93" y="128.65" width="8.12" height="2.90" fill="#1c9ed8" />
<rect x="104.93" y="131.50" width="8.12" height="2.90" fill="#1c9ed8" />
<rect x="104.93" y="134.35" width="8.12" height="2.90" fill="#286a9e" />
<rect x="104.93" y="137.20" width="8.12" height="2.90" fill="#58b3dc" />
<rect x="104.93" y="140.05" width="8.12" height="2.90" fill="#58b3dc" />
<rect x="104.93" y="142.90" width="8.12" height="2.90" fill="#1c9ed8" />
<rect x="104.93" y="145.75" width="8.12" height="2.90" fill="#58b3dc" />
<rect x="104.93" y="148.60" width="8.12" height="2.90" fill="#1c9ed8" />
<rect x="104.93" y="151.45" width="8.12" height="2.90" fill="#58b3dc" />
<rect x="104.93" y="154.30" width="8.12" height="2.90" fill="#1c9ed8" />
<rect x="104.93" y="157.15" width="8.12" height="2.90" fill="#58b3dc" />
<rect x="104.93" y="160.00" width="8.12" height="2.90" fill="#3f4c72" />
<rect x="104.93" y="162.85" width="8.12" height="2.90" fill="#286a9e" />
<rect x="104.93" y="165.70" width="8.12" height="2.90" fill="#286a9e" />
<rect x="104.93" y="168.55" width="8.12" height="2.90" fill="#286a9e" />
<rect x="104.93" y="171.40" width="8.12" height="2.90" fill="#286a9e" />
<rect x="104.93" y="174.25" width="8.12" height="2.90" fill="#58b3dc" />
<rect x="104.93" y="177.10" width="8.12" height="2.90" fill="#1c9ed8" />
<rect x="104.93" y="179.95" width="8.12" height="2.90" fill="#1c9ed8" />
<rect x="104.93" y="182.80" width="8.12" height="2.90" fill="#1c9ed8" />
<rect x="104.93" y="185.65" width="8.12" height="2.90" fill="#286a9e" />
<rect x="104.93" y="188.50" width="8.12" height="2.90" fill="#286a9e" />
<rect x="104.93" y="191.35" width="8.12" height="2.90" fill="#58b3dc" />
<rect x="104.93" y="194.20" width="8.12" height="2.90" fill="#58b3dc" />
<rect x="104.93" y="197.05" width="8.12" height="2.90" fill="#1c9ed8" />
<rect x="117.80" y="125.80" width="8.12" height="2.90" fill="#c95033" />
<rect x="117.80" y="128.65" width="8.12" height="2.90" fill="#c95033" />
<rect x="117.80" y="131.50" width="8.12" height="2.90" fill="#dc8a32" />
<rect x="117.80" y="134.35" width="8.12" height="2.90" fill="#c95033" />
<rect x="117.80" y="137.20" width="8.12" height="2.90" fill="#c95033" />
<rect x="117.80" y="140.05" width="8.12" height="2.90" fill="#c95033" />
<rect x="117.80" y="142.90" width="8.12" height="2.90" fill="#c95033" />
<rect x="117.80" y="145.75" width="8.12" height="2.90" fill="#cf6a33" />
<rect x="117.80" y="148.60" width="8.12" height="2.90" fill="#cf6a33" />
<rect x="117.80" y="151.45" width="8.12" height="2.90" fill="#c95033" />
<rect x="117.80" y="154.30" width="8.12" height="2.90" fill="#b83a3a" />
<rect x="117.80" y="157.15" width="8.12" height="2.90" fill="#b83a3a" />
<rect x="117.80" y="160.00" width="8.12" height="2.90" fill="#c95033" />
<rect x="117.80" y="162.85" width="8.12" height="2.90" fill="#c95033" />
<rect x="117.80" y="165.70" width="8.12" height="2.90" fill="#b83a3a" />
<rect x="117.80" y="168.55" width="8.12" height="2.90" fill="#c95033" />
<rect x="117.80" y="171.40" width="8.12" height="2.90" fill="#cf6a33" />
<rect x="117.80" y="174.25" width="8.12" height="2.90" fill="#c95033" />
<rect x="117.80" y="177.10" width="8.12" height="2.90" fill="#cf6a33" />
<rect x="117.80" y="179.95" width="8.12" height="2.90" fill="#c95033" />
<rect x="117.80" y="182.80" width="8.12" height="2.90" fill="#c95033" />
<rect x="117.80" y="185.65" width="8.12" height="2.90" fill="#b83a3a" />
<rect x="117.80" y="188.50" width="8.12" height="2.90" fill="#722a48" />
<rect x="117.80" y="191.35" width="8.12" height="2.90" fill="#c95033" />
<rect x="117.80" y="194.20" width="8.12" height="2.90" fill="#c95033" />
<rect x="117.80" y="197.05" width="8.12" height="2.90" fill="#c95033" />
<rect x="125.87" y="125.80" width="8.12" height="2.90" fill="#3f4c72" />
<rect x="125.87" y="128.65" width="8.12" height="2.90" fill="#286a9e" />
<rect x="125.87" y="131.50" width="8.12" height="2.90" fill="#3f4c72" />
<rect x="125.87" y="134.35" width="8.12" height="2.90" fill="#286a9e" />
<rect x="125.87" y="137.20" width="8.12" height="2.90" fill="#3f4c72" />
<rect x="125.87" y="140.05" width="8.12" height="2.90" fill="#3f4c72" />
<rect x="125.87" y="142.90" width="8.12" height="2.90" fill="#286a9e" />
<rect x="125.87" y="145.75" width="8.12" height="2.90" fill="#3f4c72" />
<rect x="125.87" y="148.60" width="8.12" height="2.90" fill="#286a9e" />
<rect x="125.87" y="151.45" width="8.12" height="2.90" fill="#3f4c72" />
<rect x="125.87" y="154.30" width="8.12" height="2.90" fill="#286a9e" />
<rect x="125.87" y="157.15" width="8.12" height="2.90" fill="#286a9e" />
<rect x="125.87" y="160.00" width="8.12" height="2.90" fill="#722a48" />
<rect x="125.87" y="162.85" width="8.12" height="2.90" fill="#722a48" />
<rect x="125.87" y="165.70" width="8.12" height="2.90" fill="#286a9e" />
<rect x="125.87" y="168.55" width="8.12" height="2.90" fill="#3f4c72" />
<rect x="125.87" y="171.40" width="8.12" height="2.90" fill="#3f4c72" />
<rect x="125.87" y="174.25" width="8.12" height="2.90" fill="#722a48" />
<rect x="125.87" y="177.10" width="8.12" height="2.90" fill="#3f4c72" />
<rect x="125.87" y="179.95" width="8.12" height="2.90" fill="#3f4c72" />
<rect x="125.87" y="182.80" width="8.12" height="2.90" fill="#722a48" />
<rect x="125.87" y="185.65" width="8.12" height="2.90" fill="#722a48" />
<rect x="125.87" y="188.50" width="8.12" height="2.90" fill="#3f4c72" />
<rect x="125.87" y="191.35" width="8.12" height="2.90" fill="#b83a3a" />
<rect x="125.87" y="194.20" width="8.12" height="2.90" fill="#722a48" />
<rect x="125.87" y="197.05" width="8.12" height="2.90" fill="#962a3e" />
<rect x="133.93" y="125.80" width="8.12" height="2.90" fill="#722a48" />
<rect x="133.93" y="128.65" width="8.12" height="2.90" fill="#722a48" />
<rect x="133.93" y="131.50" width="8.12" height="2.90" fill="#722a48" />
<rect x="133.93" y="134.35" width="8.12" height="2.90" fill="#722a48" />
<rect x="133.93" y="137.20" width="8.12" height="2.90" fill="#722a48" />
<rect x="133.93" y="140.05" width="8.12" height="2.90" fill="#722a48" />
<rect x="133.93" y="142.90" width="8.12" height="2.90" fill="#962a3e" />
<rect x="133.93" y="145.75" width="8.12" height="2.90" fill="#722a48" />
<rect x="133.93" y="148.60" width="8.12" height="2.90" fill="#722a48" />
<rect x="133.93" y="151.45" width="8.12" height="2.90" fill="#3f4c72" />
<rect x="133.93" y="154.30" width="8.12" height="2.90" fill="#722a48" />
<rect x="133.93" y="157.15" width="8.12" height="2.90" fill="#b83a3a" />
<rect x="133.93" y="160.00" width="8.12" height="2.90" fill="#3f4c72" />
<rect x="133.93" y="162.85" width="8.12" height="2.90" fill="#722a48" />
<rect x="133.93" y="165.70" width="8.12" height="2.90" fill="#722a48" />
<rect x="133.93" y="168.55" width="8.12" height="2.90" fill="#722a48" />
<rect x="133.93" y="171.40" width="8.12" height="2.90" fill="#722a48" />
<rect x="133.93" y="174.25" width="8.12" height="2.90" fill="#722a48" />
<rect x="133.93" y="177.10" width="8.12" height="2.90" fill="#722a48" />
<rect x="133.93" y="179.95" width="8.12" height="2.90" fill="#722a48" />
<rect x="133.93" y="182.80" width="8.12" height="2.90" fill="#722a48" />
<rect x="133.93" y="185.65" width="8.12" height="2.90" fill="#722a48" />
<rect x="133.93" y="188.50" width="8.12" height="2.90" fill="#3f4c72" />
<rect x="133.93" y="191.35" width="8.12" height="2.90" fill="#b83a3a" />
<rect x="133.93" y="194.20" width="8.12" height="2.90" fill="#722a48" />
<rect x="133.93" y="197.05" width="8.12" height="2.90" fill="#3f4c72" />
<rect x="30.40" y="205.10" width="8.12" height="2.94" fill="#1c9ed8" />
<rect x="30.40" y="207.98" width="8.12" height="2.94" fill="#1c9ed8" />
<rect x="30.40" y="210.87" width="8.12" height="2.94" fill="#1c9ed8" />
<rect x="30.40" y="213.75" width="8.12" height="2.94" fill="#286a9e" />
<rect x="30.40" y="216.64" width="8.12" height="2.94" fill="#1c9ed8" />
<rect x="30.40" y="219.53" width="8.12" height="2.94" fill="#286a9e" />
<rect x="30.40" y="222.41" width="8.12" height="2.94" fill="#286a9e" />
<rect x="30.40" y="225.29" width="8.12" height="2.94" fill="#3f4c72" />
<rect x="30.40" y="228.18" width="8.12" height="2.94" fill="#286a9e" />
<rect x="30.40" y="231.06" width="8.12" height="2.94" fill="#58b3dc" />
<rect x="30.40" y="233.95" width="8.12" height="2.94" fill="#58b3dc" />
<rect x="30.40" y="236.84" width="8.12" height="2.94" fill="#1c9ed8" />
<rect x="30.40" y="239.72" width="8.12" height="2.94" fill="#1c9ed8" />
<rect x="30.40" y="242.60" width="8.12" height="2.94" fill="#1c9ed8" />
<rect x="30.40" y="245.49" width="8.12" height="2.94" fill="#1c9ed8" />
<rect x="30.40" y="248.38" width="8.12" height="2.94" fill="#58b3dc" />
<rect x="30.40" y="251.26" width="8.12" height="2.94" fill="#1c9ed8" />
<rect x="30.40" y="254.14" width="8.12" height="2.94" fill="#58b3dc" />
<rect x="30.40" y="257.03" width="8.12" height="2.94" fill="#1c9ed8" />
<rect x="30.40" y="259.92" width="8.12" height="2.94" fill="#1c9ed8" />
<rect x="30.40" y="262.80" width="8.12" height="2.94" fill="#58b3dc" />
<rect x="30.40" y="265.69" width="8.12" height="2.94" fill="#1c9ed8" />
<rect x="30.40" y="268.57" width="8.12" height="2.94" fill="#1c9ed8" />
<rect x="30.40" y="271.45" width="8.12" height="2.94" fill="#286a9e" />
<rect x="30.40" y="274.34" width="8.12" height="2.94" fill="#3f4c72" />
<rect x="30.40" y="277.23" width="8.12" height="2.94" fill="#1c9ed8" />
<rect x="30.40" y="280.11" width="8.12" height="2.94" fill="#1c9ed8" />
<rect x="30.40" y="283.00" width="8.12" height="2.94" fill="#1c9ed8" />
<rect x="30.40" y="285.88" width="8.12" height="2.94" fill="#1c9ed8" />
<rect x="30.40" y="288.76" width="8.12" height="2.94" fill="#1c9ed8" />
<rect x="30.40" y="291.65" width="8.12" height="2.94" fill="#286a9e" />
<rect x="30.40" y="294.53" width="8.12" height="2.94" fill="#286a9e" />
<rect x="30.40" y="297.42" width="8.12" height="2.94" fill="#286a9e" />
<rect x="30.40" y="300.31" width="8.12" height="2.94" fill="#1c9ed8" />
<rect x="30.40" y="303.19" width="8.12" height="2.94" fill="#286a9e" />
<rect x="30.40" y="306.07" width="8.12" height="2.94" fill="#1c9ed8" />
<rect x="30.40" y="308.96" width="8.12" height="2.94" fill="#1c9ed8" />
<rect x="30.40" y="311.85" width="8.12" height="2.94" fill="#1c9ed8" />
<rect x="30.40" y="314.73" width="8.12" height="2.94" fill="#1c9ed8" />
<rect x="30.40" y="317.62" width="8.12" height="2.94" fill="#286a9e" />
<rect x="38.47" y="205.10" width="8.12" height="2.94" fill="#1c9ed8" />
<rect x="38.47" y="207.98" width="8.12" height="2.94" fill="#58b3dc" />
<rect x="38.47" y="210.87" width="8.12" height="2.94" fill="#1c9ed8" />
<rect x="38.47" y="213.75" width="8.12" height="2.94" fill="#58b3dc" />
<rect x="38.47" y="216.64" width="8.12" height="2.94" fill="#1c9ed8" />
<rect x="38.47" y="219.53" width="8.12" height="2.94" fill="#286a9e" />
<rect x="38.47" y="222.41" width="8.12" height="2.94" fill="#286a9e" />
<rect x="38.47" y="225.29" width="8.12" height="2.94" fill="#1c9ed8" />
<rect x="38.47" y="228.18" width="8.12" height="2.94" fill="#1c9ed8" />
<rect x="38.47" y="231.06" width="8.12" height="2.94" fill="#3f4c72" />
<rect x="38.47" y="233.95" width="8.12" height="2.94" fill="#286a9e" />
<rect x="38.47" y="236.84" width="8.12" height="2.94" fill="#1c9ed8" />
<rect x="38.47" y="239.72" width="8.12" height="2.94" fill="#58b3dc" />
<rect x="38.47" y="242.60" width="8.12" height="2.94" fill="#286a9e" />
<rect x="38.47" y="245.49" width="8.12" height="2.94" fill="#1c9ed8" />
<rect x="38.47" y="248.38" width="8.12" height="2.94" fill="#58b3dc" />
<rect x="38.47" y="251.26" width="8.12" height="2.94" fill="#58b3dc" />
<rect x="38.47" y="254.14" width="8.12" height="2.94" fill="#1c9ed8" />
<rect x="38.47" y="257.03" width="8.12" height="2.94" fill="#1c9ed8" />
<rect x="38.47" y="259.92" width="8.12" height="2.94" fill="#58b3dc" />
<rect x="38.47" y="262.80" width="8.12" height="2.94" fill="#1c9ed8" />
<rect x="38.47" y="265.69" width="8.12" height="2.94" fill="#286a9e" />
<rect x="38.47" y="268.57" width="8.12" height="2.94" fill="#286a9e" />
<rect x="38.47" y="271.45" width="8.12" height="2.94" fill="#1c9ed8" />
<rect x="38.47" y="274.34" width="8.12" height="2.94" fill="#1c9ed8" />
<rect x="38.47" y="277.23" width="8.12" height="2.94" fill="#286a9e" />
<rect x="38.47" y="280.11" width="8.12" height="2.94" fill="#1c9ed8" />
<rect x="38.47" y="283.00" width="8.12" height="2.94" fill="#1c9ed8" />
<rect x="38.47" y="285.88" width="8.12" height="2.94" fill="#286a9e" />
<rect x="38.47" y="288.76" width="8.12" height="2.94" fill="#1c9ed8" />
<rect x="38.47" y="291.65" width="8.12" height="2.94" fill="#1c9ed8" />
<rect x="38.47" y="294.53" width="8.12" height="2.94" fill="#1c9ed8" />
<rect x="38.47" y="297.42" width="8.12" height="2.94" fill="#58b3dc" />
<rect x="38.47" y="300.31" width="8.12" height="2.94" fill="#1c9ed8" />
<rect x="38.47" y="303.19" width="8.12" height="2.94" fill="#1c9ed8" />
<rect x="38.47" y="306.07" width="8.12" height="2.94" fill="#286a9e" />
<rect x="38.47" y="308.96" width="8.12" height="2.94" fill="#1c9ed8" />
<rect x="38.47" y="311.85" width="8.12" height="2.94" fill="#286a9e" />
<rect x="38.47" y="314.73" width="8.12" height="2.94" fill="#1c9ed8" />
<rect x="38.47" y="317.62" width="8.12" height="2.94" fill="#1c9ed8" />
<rect x="46.53" y="205.10" width="8.12" height="2.94" fill="#1c9ed8" />
<rect x="46.53" y="207.98" width="8.12" height="2.94" fill="#1c9ed8" />
<rect x="46.53" y="210.87" width="8.12" height="2.94" fill="#1c9ed8" />
<rect x="46.53" y="213.75" width="8.12" height="2.94" fill="#1c9ed8" />
<rect x="46.53" y="216.64" width="8.12" height="2.94" fill="#286a9e" />
<rect x="46.53" y="219.53" width="8.12" height="2.94" fill="#58b3dc" />
<rect x="46.53" y="222.41" width="8.12" height="2.94" fill="#1c9ed8" />
<rect x="46.53" y="225.29" width="8.12" height="2.94" fill="#1c9ed8" />
<rect x="46.53" y="228.18" width="8.12" height="2.94" fill="#58b3dc" />
<rect x="46.53" y="231.06" width="8.12" height="2.94" fill="#1c9ed8" />
<rect x="46.53" y="233.95" width="8.12" height="2.94" fill="#1c9ed8" />
<rect x="46.53" y="236.84" width="8.12" height="2.94" fill="#1c9ed8" />
<rect x="46.53" y="239.72" width="8.12" height="2.94" fill="#286a9e" />
<rect x="46.53" y="242.60" width="8.12" height="2.94" fill="#1c9ed8" />
<rect x="46.53" y="245.49" width="8.12" height="2.94" fill="#286a9e" />
<rect x="46.53" y="248.38" width="8.12" height="2.94" fill="#286a9e" />
<rect x="46.53" y="251.26" width="8.12" height="2.94" fill="#286a9e" />
<rect x="46.53" y="254.14" width="8.12" height="2.94" fill="#1c9ed8" />
<rect x="46.53" y="257.03" width="8.12" height="2.94" fill="#58b3dc" />
<rect x="46.53" y="259.92" width="8.12" height="2.94" fill="#1c9ed8" />
<rect x="46.53" y="262.80" width="8.12" height="2.94" fill="#1c9ed8" />
<rect x="46.53" y="265.69" width="8.12" height="2.94" fill="#58b3dc" />
<rect x="46.53" y="268.57" width="8.12" height="2.94" fill="#1c9ed8" />
<rect x="46.53" y="271.45" width="8.12" height="2.94" fill="#1c9ed8" />
<rect x="46.53" y="274.34" width="8.12" height="2.94" fill="#1c9ed8" />
<rect x="46.53" y="277.23" width="8.12" height="2.94" fill="#1c9ed8" />
<rect x="46.53" y="280.11" width="8.12" height="2.94" fill="#58b3dc" />
<rect x="46.53" y="283.00" width="8.12" height="2.94" fill="#1c9ed8" />
<rect x="46.53" y="285.88" width="8.12" height="2.94" fill="#1c9ed8" />
<rect x="46.53" y="288.76" width="8.12" height="2.94" fill="#1c9ed8" />
<rect x="46.53" y="291.65" width="8.12" height="2.94" fill="#58b3dc" />
<rect x="46.53" y="294.53" width="8.12" height="2.94" fill="#58b3dc" />
<rect x="46.53" y="297.42" width="8.12" height="2.94" fill="#58b3dc" />
<rect x="46.53" y="300.31" width="8.12" height="2.94" fill="#1c9ed8" />
<rect x="46.53" y="303.19" width="8.12" height="2.94" fill="#58b3dc" />
<rect x="46.53" y="306.07" width="8.12" height="2.94" fill="#58b3dc" />
<rect x="46.53" y="308.96" width="8.12" height="2.94" fill="#58b3dc" />
<rect x="46.53" y="311.85" width="8.12" height="2.94" fill="#58b3dc" />
<rect x="46.53" y="314.73" width="8.12" height="2.94" fill="#58b3dc" />
<rect x="46.53" y="317.62" width="8.12" height="2.94" fill="#58b3dc" />
<rect x="59.40" y="205.10" width="8.12" height="2.94" fill="#b83a3a" />
<rect x="59.40" y="207.98" width="8.12" height="2.94" fill="#c95033" />
<rect x="59.40" y="210.87" width="8.12" height="2.94" fill="#c95033" />
<rect x="59.40" y="213.75" width="8.12" height="2.94" fill="#b83a3a" />
<rect x="59.40" y="216.64" width="8.12" height="2.94" fill="#b83a3a" />
<rect x="59.40" y="219.53" width="8.12" height="2.94" fill="#b83a3a" />
<rect x="59.40" y="222.41" width="8.12" height="2.94" fill="#c95033" />
<rect x="59.40" y="225.29" width="8.12" height="2.94" fill="#c95033" />
<rect x="59.40" y="228.18" width="8.12" height="2.94" fill="#b83a3a" />
<rect x="59.40" y="231.06" width="8.12" height="2.94" fill="#b83a3a" />
<rect x="59.40" y="233.95" width="8.12" height="2.94" fill="#b83a3a" />
<rect x="59.40" y="236.84" width="8.12" height="2.94" fill="#962a3e" />
<rect x="59.40" y="239.72" width="8.12" height="2.94" fill="#c95033" />
<rect x="59.40" y="242.60" width="8.12" height="2.94" fill="#c95033" />
<rect x="59.40" y="245.49" width="8.12" height="2.94" fill="#b83a3a" />
<rect x="59.40" y="248.38" width="8.12" height="2.94" fill="#962a3e" />
<rect x="59.40" y="251.26" width="8.12" height="2.94" fill="#c95033" />
<rect x="59.40" y="254.14" width="8.12" height="2.94" fill="#b83a3a" />
<rect x="59.40" y="257.03" width="8.12" height="2.94" fill="#962a3e" />
<rect x="59.40" y="259.92" width="8.12" height="2.94" fill="#962a3e" />
<rect x="59.40" y="262.80" width="8.12" height="2.94" fill="#962a3e" />
<rect x="59.40" y="265.69" width="8.12" height="2.94" fill="#962a3e" />
<rect x="59.40" y="268.57" width="8.12" height="2.94" fill="#962a3e" />
<rect x="59.40" y="271.45" width="8.12" height="2.94" fill="#b83a3a" />
<rect x="59.40" y="274.34" width="8.12" height="2.94" fill="#962a3e" />
<rect x="59.40" y="277.23" width="8.12" height="2.94" fill="#722a48" />
<rect x="59.40" y="280.11" width="8.12" height="2.94" fill="#962a3e" />
<rect x="59.40" y="283.00" width="8.12" height="2.94" fill="#b83a3a" />
<rect x="59.40" y="285.88" width="8.12" height="2.94" fill="#c95033" />
<rect x="59.40" y="288.76" width="8.12" height="2.94" fill="#c95033" />
<rect x="59.40" y="291.65" width="8.12" height="2.94" fill="#c95033" />
<rect x="59.40" y="294.53" width="8.12" height="2.94" fill="#722a48" />
<rect x="59.40" y="297.42" width="8.12" height="2.94" fill="#962a3e" />
<rect x="59.40" y="300.31" width="8.12" height="2.94" fill="#962a3e" />
<rect x="59.40" y="303.19" width="8.12" height="2.94" fill="#962a3e" />
<rect x="59.40" y="306.07" width="8.12" height="2.94" fill="#962a3e" />
<rect x="59.40" y="308.96" width="8.12" height="2.94" fill="#b83a3a" />
<rect x="59.40" y="311.85" width="8.12" height="2.94" fill="#962a3e" />
<rect x="59.40" y="314.73" width="8.12" height="2.94" fill="#962a3e" />
<rect x="59.40" y="317.62" width="8.12" height="2.94" fill="#b83a3a" />
<rect x="67.47" y="205.10" width="8.12" height="2.94" fill="#b83a3a" />
<rect x="67.47" y="207.98" width="8.12" height="2.94" fill="#b83a3a" />
<rect x="67.47" y="210.87" width="8.12" height="2.94" fill="#b83a3a" />
<rect x="67.47" y="213.75" width="8.12" height="2.94" fill="#cf6a33" />
<rect x="67.47" y="216.64" width="8.12" height="2.94" fill="#b83a3a" />
<rect x="67.47" y="219.53" width="8.12" height="2.94" fill="#b83a3a" />
<rect x="67.47" y="222.41" width="8.12" height="2.94" fill="#c95033" />
<rect x="67.47" y="225.29" width="8.12" height="2.94" fill="#c95033" />
<rect x="67.47" y="228.18" width="8.12" height="2.94" fill="#c95033" />
<rect x="67.47" y="231.06" width="8.12" height="2.94" fill="#cf6a33" />
<rect x="67.47" y="233.95" width="8.12" height="2.94" fill="#cf6a33" />
<rect x="67.47" y="236.84" width="8.12" height="2.94" fill="#cf6a33" />
<rect x="67.47" y="239.72" width="8.12" height="2.94" fill="#c95033" />
<rect x="67.47" y="242.60" width="8.12" height="2.94" fill="#cf6a33" />
<rect x="67.47" y="245.49" width="8.12" height="2.94" fill="#cf6a33" />
<rect x="67.47" y="248.38" width="8.12" height="2.94" fill="#b83a3a" />
<rect x="67.47" y="251.26" width="8.12" height="2.94" fill="#962a3e" />
<rect x="67.47" y="254.14" width="8.12" height="2.94" fill="#962a3e" />
<rect x="67.47" y="257.03" width="8.12" height="2.94" fill="#b83a3a" />
<rect x="67.47" y="259.92" width="8.12" height="2.94" fill="#b83a3a" />
<rect x="67.47" y="262.80" width="8.12" height="2.94" fill="#cf6a33" />
<rect x="67.47" y="265.69" width="8.12" height="2.94" fill="#cf6a33" />
<rect x="67.47" y="268.57" width="8.12" height="2.94" fill="#e9b034" />
<rect x="67.47" y="271.45" width="8.12" height="2.94" fill="#cf6a33" />
<rect x="67.47" y="274.34" width="8.12" height="2.94" fill="#cf6a33" />
<rect x="67.47" y="277.23" width="8.12" height="2.94" fill="#cf6a33" />
<rect x="67.47" y="280.11" width="8.12" height="2.94" fill="#c95033" />
<rect x="67.47" y="283.00" width="8.12" height="2.94" fill="#cf6a33" />
<rect x="67.47" y="285.88" width="8.12" height="2.94" fill="#cf6a33" />
<rect x="67.47" y="288.76" width="8.12" height="2.94" fill="#b83a3a" />
<rect x="67.47" y="291.65" width="8.12" height="2.94" fill="#b83a3a" />
<rect x="67.47" y="294.53" width="8.12" height="2.94" fill="#b83a3a" />
<rect x="67.47" y="297.42" width="8.12" height="2.94" fill="#cf6a33" />
<rect x="67.47" y="300.31" width="8.12" height="2.94" fill="#cf6a33" />
<rect x="67.47" y="303.19" width="8.12" height="2.94" fill="#cf6a33" />
<rect x="67.47" y="306.07" width="8.12" height="2.94" fill="#cf6a33" />
<rect x="67.47" y="308.96" width="8.12" height="2.94" fill="#cf6a33" />
<rect x="67.47" y="311.85" width="8.12" height="2.94" fill="#b83a3a" />
<rect x="67.47" y="314.73" width="8.12" height="2.94" fill="#b83a3a" />
<rect x="67.47" y="317.62" width="8.12" height="2.94" fill="#b83a3a" />
<rect x="75.53" y="205.10" width="8.12" height="2.94" fill="#962a3e" />
<rect x="75.53" y="207.98" width="8.12" height="2.94" fill="#722a48" />
<rect x="75.53" y="210.87" width="8.12" height="2.94" fill="#722a48" />
<rect x="75.53" y="213.75" width="8.12" height="2.94" fill="#722a48" />
<rect x="75.53" y="216.64" width="8.12" height="2.94" fill="#722a48" />
<rect x="75.53" y="219.53" width="8.12" height="2.94" fill="#722a48" />
<rect x="75.53" y="222.41" width="8.12" height="2.94" fill="#722a48" />
<rect x="75.53" y="225.29" width="8.12" height="2.94" fill="#962a3e" />
<rect x="75.53" y="228.18" width="8.12" height="2.94" fill="#722a48" />
<rect x="75.53" y="231.06" width="8.12" height="2.94" fill="#722a48" />
<rect x="75.53" y="233.95" width="8.12" height="2.94" fill="#962a3e" />
<rect x="75.53" y="236.84" width="8.12" height="2.94" fill="#722a48" />
<rect x="75.53" y="239.72" width="8.12" height="2.94" fill="#722a48" />
<rect x="75.53" y="242.60" width="8.12" height="2.94" fill="#722a48" />
<rect x="75.53" y="245.49" width="8.12" height="2.94" fill="#c95033" />
<rect x="75.53" y="248.38" width="8.12" height="2.94" fill="#cf6a33" />
<rect x="75.53" y="251.26" width="8.12" height="2.94" fill="#b83a3a" />
<rect x="75.53" y="254.14" width="8.12" height="2.94" fill="#b83a3a" />
<rect x="75.53" y="257.03" width="8.12" height="2.94" fill="#b83a3a" />
<rect x="75.53" y="259.92" width="8.12" height="2.94" fill="#962a3e" />
<rect x="75.53" y="262.80" width="8.12" height="2.94" fill="#b83a3a" />
<rect x="75.53" y="265.69" width="8.12" height="2.94" fill="#b83a3a" />
<rect x="75.53" y="268.57" width="8.12" height="2.94" fill="#c95033" />
<rect x="75.53" y="271.45" width="8.12" height="2.94" fill="#b83a3a" />
<rect x="75.53" y="274.34" width="8.12" height="2.94" fill="#c95033" />
<rect x="75.53" y="277.23" width="8.12" height="2.94" fill="#c95033" />
<rect x="75.53" y="280.11" width="8.12" height="2.94" fill="#c95033" />
<rect x="75.53" y="283.00" width="8.12" height="2.94" fill="#cf6a33" />
<rect x="75.53" y="285.88" width="8.12" height="2.94" fill="#722a48" />
<rect x="75.53" y="288.76" width="8.12" height="2.94" fill="#962a3e" />
<rect x="75.53" y="291.65" width="8.12" height="2.94" fill="#962a3e" />
<rect x="75.53" y="294.53" width="8.12" height="2.94" fill="#c95033" />
<rect x="75.53" y="297.42" width="8.12" height="2.94" fill="#962a3e" />
<rect x="75.53" y="300.31" width="8.12" height="2.94" fill="#962a3e" />
<rect x="75.53" y="303.19" width="8.12" height="2.94" fill="#b83a3a" />
<rect x="75.53" y="306.07" width="8.12" height="2.94" fill="#b83a3a" />
<rect x="75.53" y="308.96" width="8.12" height="2.94" fill="#b83a3a" />
<rect x="75.53" y="311.85" width="8.12" height="2.94" fill="#962a3e" />
<rect x="75.53" y="314.73" width="8.12" height="2.94" fill="#962a3e" />
<rect x="75.53" y="317.62" width="8.12" height="2.94" fill="#962a3e" />
<rect x="88.80" y="205.10" width="8.12" height="2.94" fill="#3f4c72" />
<rect x="88.80" y="207.98" width="8.12" height="2.94" fill="#286a9e" />
<rect x="88.80" y="210.87" width="8.12" height="2.94" fill="#3f4c72" />
<rect x="88.80" y="213.75" width="8.12" height="2.94" fill="#286a9e" />
<rect x="88.80" y="216.64" width="8.12" height="2.94" fill="#722a48" />
<rect x="88.80" y="219.53" width="8.12" height="2.94" fill="#722a48" />
<rect x="88.80" y="222.41" width="8.12" height="2.94" fill="#3f4c72" />
<rect x="88.80" y="225.29" width="8.12" height="2.94" fill="#722a48" />
<rect x="88.80" y="228.18" width="8.12" height="2.94" fill="#722a48" />
<rect x="88.80" y="231.06" width="8.12" height="2.94" fill="#722a48" />
<rect x="88.80" y="233.95" width="8.12" height="2.94" fill="#3f4c72" />
<rect x="88.80" y="236.84" width="8.12" height="2.94" fill="#286a9e" />
<rect x="88.80" y="239.72" width="8.12" height="2.94" fill="#b83a3a" />
<rect x="88.80" y="242.60" width="8.12" height="2.94" fill="#722a48" />
<rect x="88.80" y="245.49" width="8.12" height="2.94" fill="#722a48" />
<rect x="88.80" y="248.38" width="8.12" height="2.94" fill="#552d50" />
<rect x="88.80" y="251.26" width="8.12" height="2.94" fill="#722a48" />
<rect x="88.80" y="254.14" width="8.12" height="2.94" fill="#962a3e" />
<rect x="88.80" y="257.03" width="8.12" height="2.94" fill="#b83a3a" />
<rect x="88.80" y="259.92" width="8.12" height="2.94" fill="#722a48" />
<rect x="88.80" y="262.80" width="8.12" height="2.94" fill="#722a48" />
<rect x="88.80" y="265.69" width="8.12" height="2.94" fill="#962a3e" />
<rect x="88.80" y="268.57" width="8.12" height="2.94" fill="#3f4c72" />
<rect x="88.80" y="271.45" width="8.12" height="2.94" fill="#722a48" />
<rect x="88.80" y="274.34" width="8.12" height="2.94" fill="#722a48" />
<rect x="88.80" y="277.23" width="8.12" height="2.94" fill="#722a48" />
<rect x="88.80" y="280.11" width="8.12" height="2.94" fill="#b83a3a" />
<rect x="88.80" y="283.00" width="8.12" height="2.94" fill="#722a48" />
<rect x="88.80" y="285.88" width="8.12" height="2.94" fill="#b83a3a" />
<rect x="88.80" y="288.76" width="8.12" height="2.94" fill="#b83a3a" />
<rect x="88.80" y="291.65" width="8.12" height="2.94" fill="#962a3e" />
<rect x="88.80" y="294.53" width="8.12" height="2.94" fill="#962a3e" />
<rect x="88.80" y="297.42" width="8.12" height="2.94" fill="#722a48" />
<rect x="88.80" y="300.31" width="8.12" height="2.94" fill="#962a3e" />
<rect x="88.80" y="303.19" width="8.12" height="2.94" fill="#b83a3a" />
<rect x="88.80" y="306.07" width="8.12" height="2.94" fill="#962a3e" />
<rect x="88.80" y="308.96" width="8.12" height="2.94" fill="#962a3e" />
<rect x="88.80" y="311.85" width="8.12" height="2.94" fill="#722a48" />
<rect x="88.80" y="314.73" width="8.12" height="2.94" fill="#b83a3a" />
<rect x="88.80" y="317.62" width="8.12" height="2.94" fill="#722a48" />
<rect x="96.87" y="205.10" width="8.12" height="2.94" fill="#722a48" />
<rect x="96.87" y="207.98" width="8.12" height="2.94" fill="#722a48" />
<rect x="96.87" y="210.87" width="8.12" height="2.94" fill="#722a48" />
<rect x="96.87" y="213.75" width="8.12" height="2.94" fill="#b83a3a" />
<rect x="96.87" y="216.64" width="8.12" height="2.94" fill="#722a48" />
<rect x="96.87" y="219.53" width="8.12" height="2.94" fill="#722a48" />
<rect x="96.87" y="222.41" width="8.12" height="2.94" fill="#722a48" />
<rect x="96.87" y="225.29" width="8.12" height="2.94" fill="#722a48" />
<rect x="96.87" y="228.18" width="8.12" height="2.94" fill="#3f4c72" />
<rect x="96.87" y="231.06" width="8.12" height="2.94" fill="#722a48" />
<rect x="96.87" y="233.95" width="8.12" height="2.94" fill="#722a48" />
<rect x="96.87" y="236.84" width="8.12" height="2.94" fill="#722a48" />
<rect x="96.87" y="239.72" width="8.12" height="2.94" fill="#3f4c72" />
<rect x="96.87" y="242.60" width="8.12" height="2.94" fill="#3f4c72" />
<rect x="96.87" y="245.49" width="8.12" height="2.94" fill="#3f4c72" />
<rect x="96.87" y="248.38" width="8.12" height="2.94" fill="#722a48" />
<rect x="96.87" y="251.26" width="8.12" height="2.94" fill="#722a48" />
<rect x="96.87" y="254.14" width="8.12" height="2.94" fill="#722a48" />
<rect x="96.87" y="257.03" width="8.12" height="2.94" fill="#3f4c72" />
<rect x="96.87" y="259.92" width="8.12" height="2.94" fill="#722a48" />
<rect x="96.87" y="262.80" width="8.12" height="2.94" fill="#3f4c72" />
<rect x="96.87" y="265.69" width="8.12" height="2.94" fill="#3f4c72" />
<rect x="96.87" y="268.57" width="8.12" height="2.94" fill="#722a48" />
<rect x="96.87" y="271.45" width="8.12" height="2.94" fill="#722a48" />
<rect x="96.87" y="274.34" width="8.12" height="2.94" fill="#3f4c72" />
<rect x="96.87" y="277.23" width="8.12" height="2.94" fill="#722a48" />
<rect x="96.87" y="280.11" width="8.12" height="2.94" fill="#3f4c72" />
<rect x="96.87" y="283.00" width="8.12" height="2.94" fill="#3f4c72" />
<rect x="96.87" y="285.88" width="8.12" height="2.94" fill="#722a48" />
<rect x="96.87" y="288.76" width="8.12" height="2.94" fill="#962a3e" />
<rect x="96.87" y="291.65" width="8.12" height="2.94" fill="#722a48" />
<rect x="96.87" y="294.53" width="8.12" height="2.94" fill="#722a48" />
<rect x="96.87" y="297.42" width="8.12" height="2.94" fill="#962a3e" />
<rect x="96.87" y="300.31" width="8.12" height="2.94" fill="#962a3e" />
<rect x="96.87" y="303.19" width="8.12" height="2.94" fill="#722a48" />
<rect x="96.87" y="306.07" width="8.12" height="2.94" fill="#722a48" />
<rect x="96.87" y="308.96" width="8.12" height="2.94" fill="#722a48" />
<rect x="96.87" y="311.85" width="8.12" height="2.94" fill="#722a48" />
<rect x="96.87" y="314.73" width="8.12" height="2.94" fill="#722a48" />
<rect x="96.87" y="317.62" width="8.12" height="2.94" fill="#722a48" />
<rect x="104.93" y="205.10" width="8.12" height="2.94" fill="#962a3e" />
<rect x="104.93" y="207.98" width="8.12" height="2.94" fill="#962a3e" />
<rect x="104.93" y="210.87" width="8.12" height="2.94" fill="#962a3e" />
<rect x="104.93" y="213.75" width="8.12" height="2.94" fill="#722a48" />
<rect x="104.93" y="216.64" width="8.12" height="2.94" fill="#722a48" />
<rect x="104.93" y="219.53" width="8.12" height="2.94" fill="#b83a3a" />
<rect x="104.93" y="222.41" width="8.12" height="2.94" fill="#722a48" />
<rect x="104.93" y="225.29" width="8.12" height="2.94" fill="#722a48" />
<rect x="104.93" y="228.18" width="8.12" height="2.94" fill="#722a48" />
<rect x="104.93" y="231.06" width="8.12" height="2.94" fill="#286a9e" />
<rect x="104.93" y="233.95" width="8.12" height="2.94" fill="#722a48" />
<rect x="104.93" y="236.84" width="8.12" height="2.94" fill="#286a9e" />
<rect x="104.93" y="239.72" width="8.12" height="2.94" fill="#722a48" />
<rect x="104.93" y="242.60" width="8.12" height="2.94" fill="#722a48" />
<rect x="104.93" y="245.49" width="8.12" height="2.94" fill="#722a48" />
<rect x="104.93" y="248.38" width="8.12" height="2.94" fill="#722a48" />
<rect x="104.93" y="251.26" width="8.12" height="2.94" fill="#722a48" />
<rect x="104.93" y="254.14" width="8.12" height="2.94" fill="#722a48" />
<rect x="104.93" y="257.03" width="8.12" height="2.94" fill="#b83a3a" />
<rect x="104.93" y="259.92" width="8.12" height="2.94" fill="#722a48" />
<rect x="104.93" y="262.80" width="8.12" height="2.94" fill="#722a48" />
<rect x="104.93" y="265.69" width="8.12" height="2.94" fill="#722a48" />
<rect x="104.93" y="268.57" width="8.12" height="2.94" fill="#b83a3a" />
<rect x="104.93" y="271.45" width="8.12" height="2.94" fill="#722a48" />
<rect x="104.93" y="274.34" width="8.12" height="2.94" fill="#722a48" />
<rect x="104.93" y="277.23" width="8.12" height="2.94" fill="#b83a3a" />
<rect x="104.93" y="280.11" width="8.12" height="2.94" fill="#722a48" />
<rect x="104.93" y="283.00" width="8.12" height="2.94" fill="#722a48" />
<rect x="104.93" y="285.88" width="8.12" height="2.94" fill="#3f4c72" />
<rect x="104.93" y="288.76" width="8.12" height="2.94" fill="#722a48" />
<rect x="104.93" y="291.65" width="8.12" height="2.94" fill="#722a48" />
<rect x="104.93" y="294.53" width="8.12" height="2.94" fill="#722a48" />
<rect x="104.93" y="297.42" width="8.12" height="2.94" fill="#722a48" />
<rect x="104.93" y="300.31" width="8.12" height="2.94" fill="#722a48" />
<rect x="104.93" y="303.19" width="8.12" height="2.94" fill="#722a48" />
<rect x="104.93" y="306.07" width="8.12" height="2.94" fill="#722a48" />
<rect x="104.93" y="308.96" width="8.12" height="2.94" fill="#722a48" />
<rect x="104.93" y="311.85" width="8.12" height="2.94" fill="#722a48" />
<rect x="104.93" y="314.73" width="8.12" height="2.94" fill="#b83a3a" />
<rect x="104.93" y="317.62" width="8.12" height="2.94" fill="#722a48" />
<rect x="117.80" y="205.10" width="8.12" height="2.94" fill="#b83a3a" />
<rect x="117.80" y="207.98" width="8.12" height="2.94" fill="#962a3e" />
<rect x="117.80" y="210.87" width="8.12" height="2.94" fill="#962a3e" />
<rect x="117.80" y="213.75" width="8.12" height="2.94" fill="#962a3e" />
<rect x="117.80" y="216.64" width="8.12" height="2.94" fill="#b83a3a" />
<rect x="117.80" y="219.53" width="8.12" height="2.94" fill="#962a3e" />
<rect x="117.80" y="222.41" width="8.12" height="2.94" fill="#552d50" />
<rect x="117.80" y="225.29" width="8.12" height="2.94" fill="#962a3e" />
<rect x="117.80" y="228.18" width="8.12" height="2.94" fill="#552d50" />
<rect x="117.80" y="231.06" width="8.12" height="2.94" fill="#962a3e" />
<rect x="117.80" y="233.95" width="8.12" height="2.94" fill="#962a3e" />
<rect x="117.80" y="236.84" width="8.12" height="2.94" fill="#962a3e" />
<rect x="117.80" y="239.72" width="8.12" height="2.94" fill="#962a3e" />
<rect x="117.80" y="242.60" width="8.12" height="2.94" fill="#962a3e" />
<rect x="117.80" y="245.49" width="8.12" height="2.94" fill="#722a48" />
<rect x="117.80" y="248.38" width="8.12" height="2.94" fill="#722a48" />
<rect x="117.80" y="251.26" width="8.12" height="2.94" fill="#722a48" />
<rect x="117.80" y="254.14" width="8.12" height="2.94" fill="#722a48" />
<rect x="117.80" y="257.03" width="8.12" height="2.94" fill="#b83a3a" />
<rect x="117.80" y="259.92" width="8.12" height="2.94" fill="#962a3e" />
<rect x="117.80" y="262.80" width="8.12" height="2.94" fill="#b83a3a" />
<rect x="117.80" y="265.69" width="8.12" height="2.94" fill="#b83a3a" />
<rect x="117.80" y="268.57" width="8.12" height="2.94" fill="#3f4c72" />
<rect x="117.80" y="271.45" width="8.12" height="2.94" fill="#722a48" />
<rect x="117.80" y="274.34" width="8.12" height="2.94" fill="#1c9ed8" />
<rect x="117.80" y="277.23" width="8.12" height="2.94" fill="#286a9e" />
<rect x="117.80" y="280.11" width="8.12" height="2.94" fill="#722a48" />
<rect x="117.80" y="283.00" width="8.12" height="2.94" fill="#3f4c72" />
<rect x="117.80" y="285.88" width="8.12" height="2.94" fill="#722a48" />
<rect x="117.80" y="288.76" width="8.12" height="2.94" fill="#3f4c72" />
<rect x="117.80" y="291.65" width="8.12" height="2.94" fill="#3f4c72" />
<rect x="117.80" y="294.53" width="8.12" height="2.94" fill="#722a48" />
<rect x="117.80" y="297.42" width="8.12" height="2.94" fill="#286a9e" />
<rect x="117.80" y="300.31" width="8.12" height="2.94" fill="#3f4c72" />
<rect x="117.80" y="303.19" width="8.12" height="2.94" fill="#3f4c72" />
<rect x="117.80" y="306.07" width="8.12" height="2.94" fill="#3f4c72" />
<rect x="117.80" y="308.96" width="8.12" height="2.94" fill="#722a48" />
<rect x="117.80" y="311.85" width="8.12" height="2.94" fill="#3f4c72" />
<rect x="117.80" y="314.73" width="8.12" height="2.94" fill="#3f4c72" />
<rect x="117.80" y="317.62" width="8.12" height="2.94" fill="#3f4c72" />
<rect x="125.87" y="205.10" width="8.12" height="2.94" fill="#3f4c72" />
<rect x="125.87" y="207.98" width="8.12" height="2.94" fill="#1c9ed8" />
<rect x="125.87" y="210.87" width="8.12" height="2.94" fill="#286a9e" />
<rect x="125.87" y="213.75" width="8.12" height="2.94" fill="#3f4c72" />
<rect x="125.87" y="216.64" width="8.12" height="2.94" fill="#1c9ed8" />
<rect x="125.87" y="219.53" width="8.12" height="2.94" fill="#1c9ed8" />
<rect x="125.87" y="222.41" width="8.12" height="2.94" fill="#1c9ed8" />
<rect x="125.87" y="225.29" width="8.12" height="2.94" fill="#286a9e" />
<rect x="125.87" y="228.18" width="8.12" height="2.94" fill="#3f4c72" />
<rect x="125.87" y="231.06" width="8.12" height="2.94" fill="#286a9e" />
<rect x="125.87" y="233.95" width="8.12" height="2.94" fill="#3f4c72" />
<rect x="125.87" y="236.84" width="8.12" height="2.94" fill="#1c9ed8" />
<rect x="125.87" y="239.72" width="8.12" height="2.94" fill="#1c9ed8" />
<rect x="125.87" y="242.60" width="8.12" height="2.94" fill="#286a9e" />
<rect x="125.87" y="245.49" width="8.12" height="2.94" fill="#1c9ed8" />
<rect x="125.87" y="248.38" width="8.12" height="2.94" fill="#3f4c72" />
<rect x="125.87" y="251.26" width="8.12" height="2.94" fill="#286a9e" />
<rect x="125.87" y="254.14" width="8.12" height="2.94" fill="#3f4c72" />
<rect x="125.87" y="257.03" width="8.12" height="2.94" fill="#286a9e" />
<rect x="125.87" y="259.92" width="8.12" height="2.94" fill="#1c9ed8" />
<rect x="125.87" y="262.80" width="8.12" height="2.94" fill="#3f4c72" />
<rect x="125.87" y="265.69" width="8.12" height="2.94" fill="#3f4c72" />
<rect x="125.87" y="268.57" width="8.12" height="2.94" fill="#3f4c72" />
<rect x="125.87" y="271.45" width="8.12" height="2.94" fill="#3f4c72" />
<rect x="125.87" y="274.34" width="8.12" height="2.94" fill="#3f4c72" />
<rect x="125.87" y="277.23" width="8.12" height="2.94" fill="#3f4c72" />
<rect x="125.87" y="280.11" width="8.12" height="2.94" fill="#3f4c72" />
<rect x="125.87" y="283.00" width="8.12" height="2.94" fill="#3f4c72" />
<rect x="125.87" y="285.88" width="8.12" height="2.94" fill="#286a9e" />
<rect x="125.87" y="288.76" width="8.12" height="2.94" fill="#1c9ed8" />
<rect x="125.87" y="291.65" width="8.12" height="2.94" fill="#3f4c72" />
<rect x="125.87" y="294.53" width="8.12" height="2.94" fill="#3f4c72" />
<rect x="125.87" y="297.42" width="8.12" height="2.94" fill="#1c9ed8" />
<rect x="125.87" y="300.31" width="8.12" height="2.94" fill="#286a9e" />
<rect x="125.87" y="303.19" width="8.12" height="2.94" fill="#286a9e" />
<rect x="125.87" y="306.07" width="8.12" height="2.94" fill="#3f4c72" />
<rect x="125.87" y="308.96" width="8.12" height="2.94" fill="#286a9e" />
<rect x="125.87" y="311.85" width="8.12" height="2.94" fill="#1c9ed8" />
<rect x="125.87" y="314.73" width="8.12" height="2.94" fill="#286a9e" />
<rect x="125.87" y="317.62" width="8.12" height="2.94" fill="#3f4c72" />
<rect x="133.93" y="205.10" width="8.12" height="2.94" fill="#3f4c72" />
<rect x="133.93" y="207.98" width="8.12" height="2.94" fill="#3f4c72" />
<rect x="133.93" y="210.87" width="8.12" height="2.94" fill="#1c9ed8" />
<rect x="133.93" y="213.75" width="8.12" height="2.94" fill="#286a9e" />
<rect x="133.93" y="216.64" width="8.12" height="2.94" fill="#286a9e" />
<rect x="133.93" y="219.53" width="8.12" height="2.94" fill="#286a9e" />
<rect x="133.93" y="222.41" width="8.12" height="2.94" fill="#286a9e" />
<rect x="133.93" y="225.29" width="8.12" height="2.94" fill="#3f4c72" />
<rect x="133.93" y="228.18" width="8.12" height="2.94" fill="#722a48" />
<rect x="133.93" y="231.06" width="8.12" height="2.94" fill="#3f4c72" />
<rect x="133.93" y="233.95" width="8.12" height="2.94" fill="#3f4c72" />
<rect x="133.93" y="236.84" width="8.12" height="2.94" fill="#286a9e" />
<rect x="133.93" y="239.72" width="8.12" height="2.94" fill="#286a9e" />
<rect x="133.93" y="242.60" width="8.12" height="2.94" fill="#286a9e" />
<rect x="133.93" y="245.49" width="8.12" height="2.94" fill="#3f4c72" />
<rect x="133.93" y="248.38" width="8.12" height="2.94" fill="#722a48" />
<rect x="133.93" y="251.26" width="8.12" height="2.94" fill="#286a9e" />
<rect x="133.93" y="254.14" width="8.12" height="2.94" fill="#3f4c72" />
<rect x="133.93" y="257.03" width="8.12" height="2.94" fill="#722a48" />
<rect x="133.93" y="259.92" width="8.12" height="2.94" fill="#3f4c72" />
<rect x="133.93" y="262.80" width="8.12" height="2.94" fill="#3f4c72" />
<rect x="133.93" y="265.69" width="8.12" height="2.94" fill="#3f4c72" />
<rect x="133.93" y="268.57" width="8.12" height="2.94" fill="#1c9ed8" />
<rect x="133.93" y="271.45" width="8.12" height="2.94" fill="#3f4c72" />
<rect x="133.93" y="274.34" width="8.12" height="2.94" fill="#3f4c72" />
<rect x="133.93" y="277.23" width="8.12" height="2.94" fill="#3f4c72" />
<rect x="133.93" y="280.11" width="8.12" height="2.94" fill="#3f4c72" />
<rect x="133.93" y="283.00" width="8.12" height="2.94" fill="#3f4c72" />
<rect x="133.93" y="285.88" width="8.12" height="2.94" fill="#3f4c72" />
<rect x="133.93" y="288.76" width="8.12" height="2.94" fill="#3f4c72" />
<rect x="133.93" y="291.65" width="8.12" height="2.94" fill="#286a9e" />
<rect x="133.93" y="294.53" width="8.12" height="2.94" fill="#1c9ed8" />
<rect x="133.93" y="297.42" width="8.12" height="2.94" fill="#3f4c72" />
<rect x="133.93" y="300.31" width="8.12" height="2.94" fill="#286a9e" />
<rect x="133.93" y="303.19" width="8.12" height="2.94" fill="#3f4c72" />
<rect x="133.93" y="306.07" width="8.12" height="2.94" fill="#3f4c72" />
<rect x="133.93" y="308.96" width="8.12" height="2.94" fill="#3f4c72" />
<rect x="133.93" y="311.85" width="8.12" height="2.94" fill="#3f4c72" />
<rect x="133.93" y="314.73" width="8.12" height="2.94" fill="#3f4c72" />
<rect x="133.93" y="317.62" width="8.12" height="2.94" fill="#3f4c72" />
<rect x="30.40" y="325.70" width="8.12" height="2.93" fill="#3f4c72" />
<rect x="30.40" y="328.58" width="8.12" height="2.93" fill="#286a9e" />
<rect x="30.40" y="331.45" width="8.12" height="2.93" fill="#1c9ed8" />
<rect x="30.40" y="334.33" width="8.12" height="2.93" fill="#1c9ed8" />
<rect x="30.40" y="337.21" width="8.12" height="2.93" fill="#286a9e" />
<rect x="30.40" y="340.08" width="8.12" height="2.93" fill="#1c9ed8" />
<rect x="30.40" y="342.96" width="8.12" height="2.93" fill="#3f4c72" />
<rect x="30.40" y="345.84" width="8.12" height="2.93" fill="#1c9ed8" />
<rect x="30.40" y="348.71" width="8.12" height="2.93" fill="#1c9ed8" />
<rect x="30.40" y="351.59" width="8.12" height="2.93" fill="#286a9e" />
<rect x="30.40" y="354.47" width="8.12" height="2.93" fill="#3f4c72" />
<rect x="30.40" y="357.34" width="8.12" height="2.93" fill="#1c9ed8" />
<rect x="30.40" y="360.22" width="8.12" height="2.93" fill="#58b3dc" />
<rect x="30.40" y="363.10" width="8.12" height="2.93" fill="#1c9ed8" />
<rect x="30.40" y="365.97" width="8.12" height="2.93" fill="#1c9ed8" />
<rect x="30.40" y="368.85" width="8.12" height="2.93" fill="#286a9e" />
<rect x="30.40" y="371.73" width="8.12" height="2.93" fill="#1c9ed8" />
<rect x="30.40" y="374.60" width="8.12" height="2.93" fill="#3f4c72" />
<rect x="30.40" y="377.48" width="8.12" height="2.93" fill="#1c9ed8" />
<rect x="30.40" y="380.36" width="8.12" height="2.93" fill="#1c9ed8" />
<rect x="30.40" y="383.23" width="8.12" height="2.93" fill="#3f4c72" />
<rect x="30.40" y="386.11" width="8.12" height="2.93" fill="#1c9ed8" />
<rect x="30.40" y="388.99" width="8.12" height="2.93" fill="#1c9ed8" />
<rect x="30.40" y="391.86" width="8.12" height="2.93" fill="#286a9e" />
<rect x="30.40" y="394.74" width="8.12" height="2.93" fill="#286a9e" />
<rect x="30.40" y="397.61" width="8.12" height="2.93" fill="#3f4c72" />
<rect x="30.40" y="400.49" width="8.12" height="2.93" fill="#1c9ed8" />
<rect x="30.40" y="403.37" width="8.12" height="2.93" fill="#58b3dc" />
<rect x="30.40" y="406.24" width="8.12" height="2.93" fill="#1c9ed8" />
<rect x="30.40" y="409.12" width="8.12" height="2.93" fill="#1c9ed8" />
<rect x="30.40" y="412.00" width="8.12" height="2.93" fill="#1c9ed8" />
<rect x="30.40" y="414.87" width="8.12" height="2.93" fill="#1c9ed8" />
<rect x="30.40" y="417.75" width="8.12" height="2.93" fill="#286a9e" />
<rect x="30.40" y="420.63" width="8.12" height="2.93" fill="#1c9ed8" />
<rect x="30.40" y="423.50" width="8.12" height="2.93" fill="#1c9ed8" />
<rect x="30.40" y="426.38" width="8.12" height="2.93" fill="#1c9ed8" />
<rect x="30.40" y="429.26" width="8.12" height="2.93" fill="#286a9e" />
<rect x="30.40" y="432.13" width="8.12" height="2.93" fill="#3f4c72" />
<rect x="30.40" y="435.01" width="8.12" height="2.93" fill="#3f4c72" />
<rect x="30.40" y="437.89" width="8.12" height="2.93" fill="#3f4c72" />
<rect x="30.40" y="440.76" width="8.12" height="2.93" fill="#1c9ed8" />
<rect x="30.40" y="443.64" width="8.12" height="2.93" fill="#1c9ed8" />
<rect x="30.40" y="446.52" width="8.12" height="2.93" fill="#286a9e" />
<rect x="30.40" y="449.39" width="8.12" height="2.93" fill="#1c9ed8" />
<rect x="30.40" y="452.27" width="8.12" height="2.93" fill="#286a9e" />
<rect x="30.40" y="455.15" width="8.12" height="2.93" fill="#1c9ed8" />
<rect x="30.40" y="458.02" width="8.12" height="2.93" fill="#1c9ed8" />
<rect x="38.47" y="325.70" width="8.12" height="2.93" fill="#1c9ed8" />
<rect x="38.47" y="328.58" width="8.12" height="2.93" fill="#3f4c72" />
<rect x="38.47" y="331.45" width="8.12" height="2.93" fill="#3f4c72" />
<rect x="38.47" y="334.33" width="8.12" height="2.93" fill="#286a9e" />
<rect x="38.47" y="337.21" width="8.12" height="2.93" fill="#286a9e" />
<rect x="38.47" y="340.08" width="8.12" height="2.93" fill="#3f4c72" />
<rect x="38.47" y="342.96" width="8.12" height="2.93" fill="#286a9e" />
<rect x="38.47" y="345.84" width="8.12" height="2.93" fill="#1c9ed8" />
<rect x="38.47" y="348.71" width="8.12" height="2.93" fill="#286a9e" />
<rect x="38.47" y="351.59" width="8.12" height="2.93" fill="#286a9e" />
<rect x="38.47" y="354.47" width="8.12" height="2.93" fill="#286a9e" />
<rect x="38.47" y="357.34" width="8.12" height="2.93" fill="#286a9e" />
<rect x="38.47" y="360.22" width="8.12" height="2.93" fill="#1c9ed8" />
<rect x="38.47" y="363.10" width="8.12" height="2.93" fill="#1c9ed8" />
<rect x="38.47" y="365.97" width="8.12" height="2.93" fill="#58b3dc" />
<rect x="38.47" y="368.85" width="8.12" height="2.93" fill="#58b3dc" />
<rect x="38.47" y="371.73" width="8.12" height="2.93" fill="#1c9ed8" />
<rect x="38.47" y="374.60" width="8.12" height="2.93" fill="#1c9ed8" />
<rect x="38.47" y="377.48" width="8.12" height="2.93" fill="#1c9ed8" />
<rect x="38.47" y="380.36" width="8.12" height="2.93" fill="#3f4c72" />
<rect x="38.47" y="383.23" width="8.12" height="2.93" fill="#1c9ed8" />
<rect x="38.47" y="386.11" width="8.12" height="2.93" fill="#1c9ed8" />
<rect x="38.47" y="388.99" width="8.12" height="2.93" fill="#1c9ed8" />
<rect x="38.47" y="391.86" width="8.12" height="2.93" fill="#1c9ed8" />
<rect x="38.47" y="394.74" width="8.12" height="2.93" fill="#3f4c72" />
<rect x="38.47" y="397.61" width="8.12" height="2.93" fill="#3f4c72" />
<rect x="38.47" y="400.49" width="8.12" height="2.93" fill="#1c9ed8" />
<rect x="38.47" y="403.37" width="8.12" height="2.93" fill="#3f4c72" />
<rect x="38.47" y="406.24" width="8.12" height="2.93" fill="#3f4c72" />
<rect x="38.47" y="409.12" width="8.12" height="2.93" fill="#3f4c72" />
<rect x="38.47" y="412.00" width="8.12" height="2.93" fill="#1c9ed8" />
<rect x="38.47" y="414.87" width="8.12" height="2.93" fill="#286a9e" />
<rect x="38.47" y="417.75" width="8.12" height="2.93" fill="#286a9e" />
<rect x="38.47" y="420.63" width="8.12" height="2.93" fill="#1c9ed8" />
<rect x="38.47" y="423.50" width="8.12" height="2.93" fill="#1c9ed8" />
<rect x="38.47" y="426.38" width="8.12" height="2.93" fill="#1c9ed8" />
<rect x="38.47" y="429.26" width="8.12" height="2.93" fill="#1c9ed8" />
<rect x="38.47" y="432.13" width="8.12" height="2.93" fill="#286a9e" />
<rect x="38.47" y="435.01" width="8.12" height="2.93" fill="#58b3dc" />
<rect x="38.47" y="437.89" width="8.12" height="2.93" fill="#58b3dc" />
<rect x="38.47" y="440.76" width="8.12" height="2.93" fill="#58b3dc" />
<rect x="38.47" y="443.64" width="8.12" height="2.93" fill="#58b3dc" />
<rect x="38.47" y="446.52" width="8.12" height="2.93" fill="#58b3dc" />
<rect x="38.47" y="449.39" width="8.12" height="2.93" fill="#58b3dc" />
<rect x="38.47" y="452.27" width="8.12" height="2.93" fill="#286a9e" />
<rect x="38.47" y="455.15" width="8.12" height="2.93" fill="#1c9ed8" />
<rect x="38.47" y="458.02" width="8.12" height="2.93" fill="#58b3dc" />
<rect x="46.53" y="325.70" width="8.12" height="2.93" fill="#3f4c72" />
<rect x="46.53" y="328.58" width="8.12" height="2.93" fill="#1c9ed8" />
<rect x="46.53" y="331.45" width="8.12" height="2.93" fill="#1c9ed8" />
<rect x="46.53" y="334.33" width="8.12" height="2.93" fill="#1c9ed8" />
<rect x="46.53" y="337.21" width="8.12" height="2.93" fill="#58b3dc" />
<rect x="46.53" y="340.08" width="8.12" height="2.93" fill="#3f4c72" />
<rect x="46.53" y="342.96" width="8.12" height="2.93" fill="#1c9ed8" />
<rect x="46.53" y="345.84" width="8.12" height="2.93" fill="#1c9ed8" />
<rect x="46.53" y="348.71" width="8.12" height="2.93" fill="#58b3dc" />
<rect x="46.53" y="351.59" width="8.12" height="2.93" fill="#58b3dc" />
<rect x="46.53" y="354.47" width="8.12" height="2.93" fill="#1c9ed8" />
<rect x="46.53" y="357.34" width="8.12" height="2.93" fill="#1c9ed8" />
<rect x="46.53" y="360.22" width="8.12" height="2.93" fill="#286a9e" />
<rect x="46.53" y="363.10" width="8.12" height="2.93" fill="#1c9ed8" />
<rect x="46.53" y="365.97" width="8.12" height="2.93" fill="#1c9ed8" />
<rect x="46.53" y="368.85" width="8.12" height="2.93" fill="#1c9ed8" />
<rect x="46.53" y="371.73" width="8.12" height="2.93" fill="#58b3dc" />
<rect x="46.53" y="374.60" width="8.12" height="2.93" fill="#1c9ed8" />
<rect x="46.53" y="377.48" width="8.12" height="2.93" fill="#1c9ed8" />
<rect x="46.53" y="380.36" width="8.12" height="2.93" fill="#286a9e" />
<rect x="46.53" y="383.23" width="8.12" height="2.93" fill="#58b3dc" />
<rect x="46.53" y="386.11" width="8.12" height="2.93" fill="#1c9ed8" />
<rect x="46.53" y="388.99" width="8.12" height="2.93" fill="#58b3dc" />
<rect x="46.53" y="391.86" width="8.12" height="2.93" fill="#1c9ed8" />
<rect x="46.53" y="394.74" width="8.12" height="2.93" fill="#1c9ed8" />
<rect x="46.53" y="397.61" width="8.12" height="2.93" fill="#58b3dc" />
<rect x="46.53" y="400.49" width="8.12" height="2.93" fill="#1c9ed8" />
<rect x="46.53" y="403.37" width="8.12" height="2.93" fill="#1c9ed8" />
<rect x="46.53" y="406.24" width="8.12" height="2.93" fill="#1c9ed8" />
<rect x="46.53" y="409.12" width="8.12" height="2.93" fill="#1c9ed8" />
<rect x="46.53" y="412.00" width="8.12" height="2.93" fill="#1c9ed8" />
<rect x="46.53" y="414.87" width="8.12" height="2.93" fill="#58b3dc" />
<rect x="46.53" y="417.75" width="8.12" height="2.93" fill="#286a9e" />
<rect x="46.53" y="420.63" width="8.12" height="2.93" fill="#1c9ed8" />
<rect x="46.53" y="423.50" width="8.12" height="2.93" fill="#1c9ed8" />
<rect x="46.53" y="426.38" width="8.12" height="2.93" fill="#1c9ed8" />
<rect x="46.53" y="429.26" width="8.12" height="2.93" fill="#58b3dc" />
<rect x="46.53" y="432.13" width="8.12" height="2.93" fill="#286a9e" />
<rect x="46.53" y="435.01" width="8.12" height="2.93" fill="#286a9e" />
<rect x="46.53" y="437.89" width="8.12" height="2.93" fill="#1c9ed8" />
<rect x="46.53" y="440.76" width="8.12" height="2.93" fill="#3f4c72" />
<rect x="46.53" y="443.64" width="8.12" height="2.93" fill="#3f4c72" />
<rect x="46.53" y="446.52" width="8.12" height="2.93" fill="#1c9ed8" />
<rect x="46.53" y="449.39" width="8.12" height="2.93" fill="#1c9ed8" />
<rect x="46.53" y="452.27" width="8.12" height="2.93" fill="#1c9ed8" />
<rect x="46.53" y="455.15" width="8.12" height="2.93" fill="#1c9ed8" />
<rect x="46.53" y="458.02" width="8.12" height="2.93" fill="#58b3dc" />
<rect x="59.40" y="325.70" width="8.12" height="2.93" fill="#b83a3a" />
<rect x="59.40" y="328.58" width="8.12" height="2.93" fill="#c95033" />
<rect x="59.40" y="331.45" width="8.12" height="2.93" fill="#b83a3a" />
<rect x="59.40" y="334.33" width="8.12" height="2.93" fill="#b83a3a" />
<rect x="59.40" y="337.21" width="8.12" height="2.93" fill="#c95033" />
<rect x="59.40" y="340.08" width="8.12" height="2.93" fill="#c95033" />
<rect x="59.40" y="342.96" width="8.12" height="2.93" fill="#e9b034" />
<rect x="59.40" y="345.84" width="8.12" height="2.93" fill="#962a3e" />
<rect x="59.40" y="348.71" width="8.12" height="2.93" fill="#962a3e" />
<rect x="59.40" y="351.59" width="8.12" height="2.93" fill="#b83a3a" />
<rect x="59.40" y="354.47" width="8.12" height="2.93" fill="#962a3e" />
<rect x="59.40" y="357.34" width="8.12" height="2.93" fill="#b83a3a" />
<rect x="59.40" y="360.22" width="8.12" height="2.93" fill="#722a48" />
<rect x="59.40" y="363.10" width="8.12" height="2.93" fill="#962a3e" />
<rect x="59.40" y="365.97" width="8.12" height="2.93" fill="#722a48" />
<rect x="59.40" y="368.85" width="8.12" height="2.93" fill="#962a3e" />
<rect x="59.40" y="371.73" width="8.12" height="2.93" fill="#c95033" />
<rect x="59.40" y="374.60" width="8.12" height="2.93" fill="#962a3e" />
<rect x="59.40" y="377.48" width="8.12" height="2.93" fill="#962a3e" />
<rect x="59.40" y="380.36" width="8.12" height="2.93" fill="#b83a3a" />
<rect x="59.40" y="383.23" width="8.12" height="2.93" fill="#cf6a33" />
<rect x="59.40" y="386.11" width="8.12" height="2.93" fill="#cf6a33" />
<rect x="59.40" y="388.99" width="8.12" height="2.93" fill="#cf6a33" />
<rect x="59.40" y="391.86" width="8.12" height="2.93" fill="#cf6a33" />
<rect x="59.40" y="394.74" width="8.12" height="2.93" fill="#c95033" />
<rect x="59.40" y="397.61" width="8.12" height="2.93" fill="#b83a3a" />
<rect x="59.40" y="400.49" width="8.12" height="2.93" fill="#b83a3a" />
<rect x="59.40" y="403.37" width="8.12" height="2.93" fill="#c95033" />
<rect x="59.40" y="406.24" width="8.12" height="2.93" fill="#cf6a33" />
<rect x="59.40" y="409.12" width="8.12" height="2.93" fill="#cf6a33" />
<rect x="59.40" y="412.00" width="8.12" height="2.93" fill="#cf6a33" />
<rect x="59.40" y="414.87" width="8.12" height="2.93" fill="#cf6a33" />
<rect x="59.40" y="417.75" width="8.12" height="2.93" fill="#cf6a33" />
<rect x="59.40" y="420.63" width="8.12" height="2.93" fill="#c95033" />
<rect x="59.40" y="423.50" width="8.12" height="2.93" fill="#cf6a33" />
<rect x="59.40" y="426.38" width="8.12" height="2.93" fill="#cf6a33" />
<rect x="59.40" y="429.26" width="8.12" height="2.93" fill="#b83a3a" />
<rect x="59.40" y="432.13" width="8.12" height="2.93" fill="#c95033" />
<rect x="59.40" y="435.01" width="8.12" height="2.93" fill="#722a48" />
<rect x="59.40" y="437.89" width="8.12" height="2.93" fill="#b83a3a" />
<rect x="59.40" y="440.76" width="8.12" height="2.93" fill="#b83a3a" />
<rect x="59.40" y="443.64" width="8.12" height="2.93" fill="#962a3e" />
<rect x="59.40" y="446.52" width="8.12" height="2.93" fill="#962a3e" />
<rect x="59.40" y="449.39" width="8.12" height="2.93" fill="#962a3e" />
<rect x="59.40" y="452.27" width="8.12" height="2.93" fill="#722a48" />
<rect x="59.40" y="455.15" width="8.12" height="2.93" fill="#962a3e" />
<rect x="59.40" y="458.02" width="8.12" height="2.93" fill="#722a48" />
<rect x="67.47" y="325.70" width="8.12" height="2.93" fill="#cf6a33" />
<rect x="67.47" y="328.58" width="8.12" height="2.93" fill="#cf6a33" />
<rect x="67.47" y="331.45" width="8.12" height="2.93" fill="#cf6a33" />
<rect x="67.47" y="334.33" width="8.12" height="2.93" fill="#cf6a33" />
<rect x="67.47" y="337.21" width="8.12" height="2.93" fill="#cf6a33" />
<rect x="67.47" y="340.08" width="8.12" height="2.93" fill="#cf6a33" />
<rect x="67.47" y="342.96" width="8.12" height="2.93" fill="#cf6a33" />
<rect x="67.47" y="345.84" width="8.12" height="2.93" fill="#cf6a33" />
<rect x="67.47" y="348.71" width="8.12" height="2.93" fill="#cf6a33" />
<rect x="67.47" y="351.59" width="8.12" height="2.93" fill="#e9b034" />
<rect x="67.47" y="354.47" width="8.12" height="2.93" fill="#cf6a33" />
<rect x="67.47" y="357.34" width="8.12" height="2.93" fill="#cf6a33" />
<rect x="67.47" y="360.22" width="8.12" height="2.93" fill="#cf6a33" />
<rect x="67.47" y="363.10" width="8.12" height="2.93" fill="#cf6a33" />
<rect x="67.47" y="365.97" width="8.12" height="2.93" fill="#cf6a33" />
<rect x="67.47" y="368.85" width="8.12" height="2.93" fill="#cf6a33" />
<rect x="67.47" y="371.73" width="8.12" height="2.93" fill="#b83a3a" />
<rect x="67.47" y="374.60" width="8.12" height="2.93" fill="#cf6a33" />
<rect x="67.47" y="377.48" width="8.12" height="2.93" fill="#cf6a33" />
<rect x="67.47" y="380.36" width="8.12" height="2.93" fill="#cf6a33" />
<rect x="67.47" y="383.23" width="8.12" height="2.93" fill="#b83a3a" />
<rect x="67.47" y="386.11" width="8.12" height="2.93" fill="#cf6a33" />
<rect x="67.47" y="388.99" width="8.12" height="2.93" fill="#cf6a33" />
<rect x="67.47" y="391.86" width="8.12" height="2.93" fill="#cf6a33" />
<rect x="67.47" y="394.74" width="8.12" height="2.93" fill="#cf6a33" />
<rect x="67.47" y="397.61" width="8.12" height="2.93" fill="#cf6a33" />
<rect x="67.47" y="400.49" width="8.12" height="2.93" fill="#cf6a33" />
<rect x="67.47" y="403.37" width="8.12" height="2.93" fill="#cf6a33" />
<rect x="67.47" y="406.24" width="8.12" height="2.93" fill="#cf6a33" />
<rect x="67.47" y="409.12" width="8.12" height="2.93" fill="#cf6a33" />
<rect x="67.47" y="412.00" width="8.12" height="2.93" fill="#cf6a33" />
<rect x="67.47" y="414.87" width="8.12" height="2.93" fill="#cf6a33" />
<rect x="67.47" y="417.75" width="8.12" height="2.93" fill="#cf6a33" />
<rect x="67.47" y="420.63" width="8.12" height="2.93" fill="#b83a3a" />
<rect x="67.47" y="423.50" width="8.12" height="2.93" fill="#cf6a33" />
<rect x="67.47" y="426.38" width="8.12" height="2.93" fill="#cf6a33" />
<rect x="67.47" y="429.26" width="8.12" height="2.93" fill="#b83a3a" />
<rect x="67.47" y="432.13" width="8.12" height="2.93" fill="#b83a3a" />
<rect x="67.47" y="435.01" width="8.12" height="2.93" fill="#552d50" />
<rect x="67.47" y="437.89" width="8.12" height="2.93" fill="#722a48" />
<rect x="67.47" y="440.76" width="8.12" height="2.93" fill="#c95033" />
<rect x="67.47" y="443.64" width="8.12" height="2.93" fill="#962a3e" />
<rect x="67.47" y="446.52" width="8.12" height="2.93" fill="#722a48" />
<rect x="67.47" y="449.39" width="8.12" height="2.93" fill="#552d50" />
<rect x="67.47" y="452.27" width="8.12" height="2.93" fill="#b83a3a" />
<rect x="67.47" y="455.15" width="8.12" height="2.93" fill="#b83a3a" />
<rect x="67.47" y="458.02" width="8.12" height="2.93" fill="#962a3e" />
<rect x="75.53" y="325.70" width="8.12" height="2.93" fill="#cf6a33" />
<rect x="75.53" y="328.58" width="8.12" height="2.93" fill="#3f4c72" />
<rect x="75.53" y="331.45" width="8.12" height="2.93" fill="#722a48" />
<rect x="75.53" y="334.33" width="8.12" height="2.93" fill="#722a48" />
<rect x="75.53" y="337.21" width="8.12" height="2.93" fill="#b83a3a" />
<rect x="75.53" y="340.08" width="8.12" height="2.93" fill="#b83a3a" />
<rect x="75.53" y="342.96" width="8.12" height="2.93" fill="#722a48" />
<rect x="75.53" y="345.84" width="8.12" height="2.93" fill="#cf6a33" />
<rect x="75.53" y="348.71" width="8.12" height="2.93" fill="#b83a3a" />
<rect x="75.53" y="351.59" width="8.12" height="2.93" fill="#b83a3a" />
<rect x="75.53" y="354.47" width="8.12" height="2.93" fill="#b83a3a" />
<rect x="75.53" y="357.34" width="8.12" height="2.93" fill="#b83a3a" />
<rect x="75.53" y="360.22" width="8.12" height="2.93" fill="#b83a3a" />
<rect x="75.53" y="363.10" width="8.12" height="2.93" fill="#cf6a33" />
<rect x="75.53" y="365.97" width="8.12" height="2.93" fill="#b83a3a" />
<rect x="75.53" y="368.85" width="8.12" height="2.93" fill="#962a3e" />
<rect x="75.53" y="371.73" width="8.12" height="2.93" fill="#b83a3a" />
<rect x="75.53" y="374.60" width="8.12" height="2.93" fill="#b83a3a" />
<rect x="75.53" y="377.48" width="8.12" height="2.93" fill="#b83a3a" />
<rect x="75.53" y="380.36" width="8.12" height="2.93" fill="#b83a3a" />
<rect x="75.53" y="383.23" width="8.12" height="2.93" fill="#962a3e" />
<rect x="75.53" y="386.11" width="8.12" height="2.93" fill="#962a3e" />
<rect x="75.53" y="388.99" width="8.12" height="2.93" fill="#962a3e" />
<rect x="75.53" y="391.86" width="8.12" height="2.93" fill="#962a3e" />
<rect x="75.53" y="394.74" width="8.12" height="2.93" fill="#722a48" />
<rect x="75.53" y="397.61" width="8.12" height="2.93" fill="#b83a3a" />
<rect x="75.53" y="400.49" width="8.12" height="2.93" fill="#962a3e" />
<rect x="75.53" y="403.37" width="8.12" height="2.93" fill="#962a3e" />
<rect x="75.53" y="406.24" width="8.12" height="2.93" fill="#962a3e" />
<rect x="75.53" y="409.12" width="8.12" height="2.93" fill="#552d50" />
<rect x="75.53" y="412.00" width="8.12" height="2.93" fill="#962a3e" />
<rect x="75.53" y="414.87" width="8.12" height="2.93" fill="#962a3e" />
<rect x="75.53" y="417.75" width="8.12" height="2.93" fill="#962a3e" />
<rect x="75.53" y="420.63" width="8.12" height="2.93" fill="#b83a3a" />
<rect x="75.53" y="423.50" width="8.12" height="2.93" fill="#b83a3a" />
<rect x="75.53" y="426.38" width="8.12" height="2.93" fill="#b83a3a" />
<rect x="75.53" y="429.26" width="8.12" height="2.93" fill="#962a3e" />
<rect x="75.53" y="432.13" width="8.12" height="2.93" fill="#962a3e" />
<rect x="75.53" y="435.01" width="8.12" height="2.93" fill="#e9b034" />
<rect x="75.53" y="437.89" width="8.12" height="2.93" fill="#cf6a33" />
<rect x="75.53" y="440.76" width="8.12" height="2.93" fill="#cf6a33" />
<rect x="75.53" y="443.64" width="8.12" height="2.93" fill="#cf6a33" />
<rect x="75.53" y="446.52" width="8.12" height="2.93" fill="#cf6a33" />
<rect x="75.53" y="449.39" width="8.12" height="2.93" fill="#cf6a33" />
<rect x="75.53" y="452.27" width="8.12" height="2.93" fill="#b83a3a" />
<rect x="75.53" y="455.15" width="8.12" height="2.93" fill="#cf6a33" />
<rect x="75.53" y="458.02" width="8.12" height="2.93" fill="#cf6a33" />
<rect x="88.80" y="325.70" width="8.12" height="2.93" fill="#3f4c72" />
<rect x="88.80" y="328.58" width="8.12" height="2.93" fill="#3f4c72" />
<rect x="88.80" y="331.45" width="8.12" height="2.93" fill="#722a48" />
<rect x="88.80" y="334.33" width="8.12" height="2.93" fill="#722a48" />
<rect x="88.80" y="337.21" width="8.12" height="2.93" fill="#3f4c72" />
<rect x="88.80" y="340.08" width="8.12" height="2.93" fill="#3f4c72" />
<rect x="88.80" y="342.96" width="8.12" height="2.93" fill="#3f4c72" />
<rect x="88.80" y="345.84" width="8.12" height="2.93" fill="#1c9ed8" />
<rect x="88.80" y="348.71" width="8.12" height="2.93" fill="#3f4c72" />
<rect x="88.80" y="351.59" width="8.12" height="2.93" fill="#722a48" />
<rect x="88.80" y="354.47" width="8.12" height="2.93" fill="#1c9ed8" />
<rect x="88.80" y="357.34" width="8.12" height="2.93" fill="#3f4c72" />
<rect x="88.80" y="360.22" width="8.12" height="2.93" fill="#3f4c72" />
<rect x="88.80" y="363.10" width="8.12" height="2.93" fill="#3f4c72" />
<rect x="88.80" y="365.97" width="8.12" height="2.93" fill="#722a48" />
<rect x="88.80" y="368.85" width="8.12" height="2.93" fill="#3f4c72" />
<rect x="88.80" y="371.73" width="8.12" height="2.93" fill="#722a48" />
<rect x="88.80" y="374.60" width="8.12" height="2.93" fill="#722a48" />
<rect x="88.80" y="377.48" width="8.12" height="2.93" fill="#b83a3a" />
<rect x="88.80" y="380.36" width="8.12" height="2.93" fill="#722a48" />
<rect x="88.80" y="383.23" width="8.12" height="2.93" fill="#3f4c72" />
<rect x="88.80" y="386.11" width="8.12" height="2.93" fill="#722a48" />
<rect x="88.80" y="388.99" width="8.12" height="2.93" fill="#722a48" />
<rect x="88.80" y="391.86" width="8.12" height="2.93" fill="#3f4c72" />
<rect x="88.80" y="394.74" width="8.12" height="2.93" fill="#722a48" />
<rect x="88.80" y="397.61" width="8.12" height="2.93" fill="#722a48" />
<rect x="88.80" y="400.49" width="8.12" height="2.93" fill="#962a3e" />
<rect x="88.80" y="403.37" width="8.12" height="2.93" fill="#3f4c72" />
<rect x="88.80" y="406.24" width="8.12" height="2.93" fill="#3f4c72" />
<rect x="88.80" y="409.12" width="8.12" height="2.93" fill="#3f4c72" />
<rect x="88.80" y="412.00" width="8.12" height="2.93" fill="#722a48" />
<rect x="88.80" y="414.87" width="8.12" height="2.93" fill="#722a48" />
<rect x="88.80" y="417.75" width="8.12" height="2.93" fill="#962a3e" />
<rect x="88.80" y="420.63" width="8.12" height="2.93" fill="#722a48" />
<rect x="88.80" y="423.50" width="8.12" height="2.93" fill="#722a48" />
<rect x="88.80" y="426.38" width="8.12" height="2.93" fill="#3f4c72" />
<rect x="88.80" y="429.26" width="8.12" height="2.93" fill="#722a48" />
<rect x="88.80" y="432.13" width="8.12" height="2.93" fill="#722a48" />
<rect x="88.80" y="435.01" width="8.12" height="2.93" fill="#722a48" />
<rect x="88.80" y="437.89" width="8.12" height="2.93" fill="#722a48" />
<rect x="88.80" y="440.76" width="8.12" height="2.93" fill="#722a48" />
<rect x="88.80" y="443.64" width="8.12" height="2.93" fill="#286a9e" />
<rect x="88.80" y="446.52" width="8.12" height="2.93" fill="#722a48" />
<rect x="88.80" y="449.39" width="8.12" height="2.93" fill="#722a48" />
<rect x="88.80" y="452.27" width="8.12" height="2.93" fill="#3f4c72" />
<rect x="88.80" y="455.15" width="8.12" height="2.93" fill="#3f4c72" />
<rect x="88.80" y="458.02" width="8.12" height="2.93" fill="#722a48" />
<rect x="96.87" y="325.70" width="8.12" height="2.93" fill="#3f4c72" />
<rect x="96.87" y="328.58" width="8.12" height="2.93" fill="#286a9e" />
<rect x="96.87" y="331.45" width="8.12" height="2.93" fill="#3f4c72" />
<rect x="96.87" y="334.33" width="8.12" height="2.93" fill="#286a9e" />
<rect x="96.87" y="337.21" width="8.12" height="2.93" fill="#3f4c72" />
<rect x="96.87" y="340.08" width="8.12" height="2.93" fill="#722a48" />
<rect x="96.87" y="342.96" width="8.12" height="2.93" fill="#722a48" />
<rect x="96.87" y="345.84" width="8.12" height="2.93" fill="#3f4c72" />
<rect x="96.87" y="348.71" width="8.12" height="2.93" fill="#286a9e" />
<rect x="96.87" y="351.59" width="8.12" height="2.93" fill="#3f4c72" />
<rect x="96.87" y="354.47" width="8.12" height="2.93" fill="#3f4c72" />
<rect x="96.87" y="357.34" width="8.12" height="2.93" fill="#3f4c72" />
<rect x="96.87" y="360.22" width="8.12" height="2.93" fill="#722a48" />
<rect x="96.87" y="363.10" width="8.12" height="2.93" fill="#286a9e" />
<rect x="96.87" y="365.97" width="8.12" height="2.93" fill="#722a48" />
<rect x="96.87" y="368.85" width="8.12" height="2.93" fill="#3f4c72" />
<rect x="96.87" y="371.73" width="8.12" height="2.93" fill="#286a9e" />
<rect x="96.87" y="374.60" width="8.12" height="2.93" fill="#3f4c72" />
<rect x="96.87" y="377.48" width="8.12" height="2.93" fill="#3f4c72" />
<rect x="96.87" y="380.36" width="8.12" height="2.93" fill="#3f4c72" />
<rect x="96.87" y="383.23" width="8.12" height="2.93" fill="#286a9e" />
<rect x="96.87" y="386.11" width="8.12" height="2.93" fill="#3f4c72" />
<rect x="96.87" y="388.99" width="8.12" height="2.93" fill="#722a48" />
<rect x="96.87" y="391.86" width="8.12" height="2.93" fill="#722a48" />
<rect x="96.87" y="394.74" width="8.12" height="2.93" fill="#722a48" />
<rect x="96.87" y="397.61" width="8.12" height="2.93" fill="#3f4c72" />
<rect x="96.87" y="400.49" width="8.12" height="2.93" fill="#722a48" />
<rect x="96.87" y="403.37" width="8.12" height="2.93" fill="#722a48" />
<rect x="96.87" y="406.24" width="8.12" height="2.93" fill="#3f4c72" />
<rect x="96.87" y="409.12" width="8.12" height="2.93" fill="#3f4c72" />
<rect x="96.87" y="412.00" width="8.12" height="2.93" fill="#962a3e" />
<rect x="96.87" y="414.87" width="8.12" height="2.93" fill="#962a3e" />
<rect x="96.87" y="417.75" width="8.12" height="2.93" fill="#722a48" />
<rect x="96.87" y="420.63" width="8.12" height="2.93" fill="#722a48" />
<rect x="96.87" y="423.50" width="8.12" height="2.93" fill="#3f4c72" />
<rect x="96.87" y="426.38" width="8.12" height="2.93" fill="#722a48" />
<rect x="96.87" y="429.26" width="8.12" height="2.93" fill="#722a48" />
<rect x="96.87" y="432.13" width="8.12" height="2.93" fill="#962a3e" />
<rect x="96.87" y="435.01" width="8.12" height="2.93" fill="#722a48" />
<rect x="96.87" y="437.89" width="8.12" height="2.93" fill="#3f4c72" />
<rect x="96.87" y="440.76" width="8.12" height="2.93" fill="#3f4c72" />
<rect x="96.87" y="443.64" width="8.12" height="2.93" fill="#3f4c72" />
<rect x="96.87" y="446.52" width="8.12" height="2.93" fill="#722a48" />
<rect x="96.87" y="449.39" width="8.12" height="2.93" fill="#3f4c72" />
<rect x="96.87" y="452.27" width="8.12" height="2.93" fill="#3f4c72" />
<rect x="96.87" y="455.15" width="8.12" height="2.93" fill="#722a48" />
<rect x="96.87" y="458.02" width="8.12" height="2.93" fill="#722a48" />
<rect x="104.93" y="325.70" width="8.12" height="2.93" fill="#3f4c72" />
<rect x="104.93" y="328.58" width="8.12" height="2.93" fill="#1c9ed8" />
<rect x="104.93" y="331.45" width="8.12" height="2.93" fill="#3f4c72" />
<rect x="104.93" y="334.33" width="8.12" height="2.93" fill="#3f4c72" />
<rect x="104.93" y="337.21" width="8.12" height="2.93" fill="#3f4c72" />
<rect x="104.93" y="340.08" width="8.12" height="2.93" fill="#1c9ed8" />
<rect x="104.93" y="342.96" width="8.12" height="2.93" fill="#3f4c72" />
<rect x="104.93" y="345.84" width="8.12" height="2.93" fill="#3f4c72" />
<rect x="104.93" y="348.71" width="8.12" height="2.93" fill="#3f4c72" />
<rect x="104.93" y="351.59" width="8.12" height="2.93" fill="#3f4c72" />
<rect x="104.93" y="354.47" width="8.12" height="2.93" fill="#3f4c72" />
<rect x="104.93" y="357.34" width="8.12" height="2.93" fill="#3f4c72" />
<rect x="104.93" y="360.22" width="8.12" height="2.93" fill="#286a9e" />
<rect x="104.93" y="363.10" width="8.12" height="2.93" fill="#722a48" />
<rect x="104.93" y="365.97" width="8.12" height="2.93" fill="#3f4c72" />
<rect x="104.93" y="368.85" width="8.12" height="2.93" fill="#722a48" />
<rect x="104.93" y="371.73" width="8.12" height="2.93" fill="#722a48" />
<rect x="104.93" y="374.60" width="8.12" height="2.93" fill="#722a48" />
<rect x="104.93" y="377.48" width="8.12" height="2.93" fill="#3f4c72" />
<rect x="104.93" y="380.36" width="8.12" height="2.93" fill="#1c9ed8" />
<rect x="104.93" y="383.23" width="8.12" height="2.93" fill="#722a48" />
<rect x="104.93" y="386.11" width="8.12" height="2.93" fill="#3f4c72" />
<rect x="104.93" y="388.99" width="8.12" height="2.93" fill="#3f4c72" />
<rect x="104.93" y="391.86" width="8.12" height="2.93" fill="#3f4c72" />
<rect x="104.93" y="394.74" width="8.12" height="2.93" fill="#3f4c72" />
<rect x="104.93" y="397.61" width="8.12" height="2.93" fill="#3f4c72" />
<rect x="104.93" y="400.49" width="8.12" height="2.93" fill="#286a9e" />
<rect x="104.93" y="403.37" width="8.12" height="2.93" fill="#3f4c72" />
<rect x="104.93" y="406.24" width="8.12" height="2.93" fill="#1c9ed8" />
<rect x="104.93" y="409.12" width="8.12" height="2.93" fill="#286a9e" />
<rect x="104.93" y="412.00" width="8.12" height="2.93" fill="#3f4c72" />
<rect x="104.93" y="414.87" width="8.12" height="2.93" fill="#286a9e" />
<rect x="104.93" y="417.75" width="8.12" height="2.93" fill="#286a9e" />
<rect x="104.93" y="420.63" width="8.12" height="2.93" fill="#286a9e" />
<rect x="104.93" y="423.50" width="8.12" height="2.93" fill="#3f4c72" />
<rect x="104.93" y="426.38" width="8.12" height="2.93" fill="#286a9e" />
<rect x="104.93" y="429.26" width="8.12" height="2.93" fill="#1c9ed8" />
<rect x="104.93" y="432.13" width="8.12" height="2.93" fill="#286a9e" />
<rect x="104.93" y="435.01" width="8.12" height="2.93" fill="#3f4c72" />
<rect x="104.93" y="437.89" width="8.12" height="2.93" fill="#3f4c72" />
<rect x="104.93" y="440.76" width="8.12" height="2.93" fill="#3f4c72" />
<rect x="104.93" y="443.64" width="8.12" height="2.93" fill="#b83a3a" />
<rect x="104.93" y="446.52" width="8.12" height="2.93" fill="#b83a3a" />
<rect x="104.93" y="449.39" width="8.12" height="2.93" fill="#962a3e" />
<rect x="104.93" y="452.27" width="8.12" height="2.93" fill="#3f4c72" />
<rect x="104.93" y="455.15" width="8.12" height="2.93" fill="#3f4c72" />
<rect x="104.93" y="458.02" width="8.12" height="2.93" fill="#722a48" />
<rect x="117.80" y="325.70" width="8.12" height="2.93" fill="#3f4c72" />
<rect x="117.80" y="328.58" width="8.12" height="2.93" fill="#c95033" />
<rect x="117.80" y="331.45" width="8.12" height="2.93" fill="#cf6a33" />
<rect x="117.80" y="334.33" width="8.12" height="2.93" fill="#cf6a33" />
<rect x="117.80" y="337.21" width="8.12" height="2.93" fill="#c95033" />
<rect x="117.80" y="340.08" width="8.12" height="2.93" fill="#b83a3a" />
<rect x="117.80" y="342.96" width="8.12" height="2.93" fill="#722a48" />
<rect x="117.80" y="345.84" width="8.12" height="2.93" fill="#962a3e" />
<rect x="117.80" y="348.71" width="8.12" height="2.93" fill="#962a3e" />
<rect x="117.80" y="351.59" width="8.12" height="2.93" fill="#b83a3a" />
<rect x="117.80" y="354.47" width="8.12" height="2.93" fill="#b83a3a" />
<rect x="117.80" y="357.34" width="8.12" height="2.93" fill="#b83a3a" />
<rect x="117.80" y="360.22" width="8.12" height="2.93" fill="#962a3e" />
<rect x="117.80" y="363.10" width="8.12" height="2.93" fill="#b83a3a" />
<rect x="117.80" y="365.97" width="8.12" height="2.93" fill="#722a48" />
<rect x="117.80" y="368.85" width="8.12" height="2.93" fill="#b83a3a" />
<rect x="117.80" y="371.73" width="8.12" height="2.93" fill="#b83a3a" />
<rect x="117.80" y="374.60" width="8.12" height="2.93" fill="#b83a3a" />
<rect x="117.80" y="377.48" width="8.12" height="2.93" fill="#722a48" />
<rect x="117.80" y="380.36" width="8.12" height="2.93" fill="#722a48" />
<rect x="117.80" y="383.23" width="8.12" height="2.93" fill="#962a3e" />
<rect x="117.80" y="386.11" width="8.12" height="2.93" fill="#722a48" />
<rect x="117.80" y="388.99" width="8.12" height="2.93" fill="#b83a3a" />
<rect x="117.80" y="391.86" width="8.12" height="2.93" fill="#722a48" />
<rect x="117.80" y="394.74" width="8.12" height="2.93" fill="#722a48" />
<rect x="117.80" y="397.61" width="8.12" height="2.93" fill="#722a48" />
<rect x="117.80" y="400.49" width="8.12" height="2.93" fill="#c95033" />
<rect x="117.80" y="403.37" width="8.12" height="2.93" fill="#962a3e" />
<rect x="117.80" y="406.24" width="8.12" height="2.93" fill="#b83a3a" />
<rect x="117.80" y="409.12" width="8.12" height="2.93" fill="#b83a3a" />
<rect x="117.80" y="412.00" width="8.12" height="2.93" fill="#722a48" />
<rect x="117.80" y="414.87" width="8.12" height="2.93" fill="#722a48" />
<rect x="117.80" y="417.75" width="8.12" height="2.93" fill="#722a48" />
<rect x="117.80" y="420.63" width="8.12" height="2.93" fill="#962a3e" />
<rect x="117.80" y="423.50" width="8.12" height="2.93" fill="#722a48" />
<rect x="117.80" y="426.38" width="8.12" height="2.93" fill="#3f4c72" />
<rect x="117.80" y="429.26" width="8.12" height="2.93" fill="#722a48" />
<rect x="117.80" y="432.13" width="8.12" height="2.93" fill="#c95033" />
<rect x="117.80" y="435.01" width="8.12" height="2.93" fill="#3f4c72" />
<rect x="117.80" y="437.89" width="8.12" height="2.93" fill="#1c9ed8" />
<rect x="117.80" y="440.76" width="8.12" height="2.93" fill="#722a48" />
<rect x="117.80" y="443.64" width="8.12" height="2.93" fill="#722a48" />
<rect x="117.80" y="446.52" width="8.12" height="2.93" fill="#b83a3a" />
<rect x="117.80" y="449.39" width="8.12" height="2.93" fill="#286a9e" />
<rect x="117.80" y="452.27" width="8.12" height="2.93" fill="#722a48" />
<rect x="117.80" y="455.15" width="8.12" height="2.93" fill="#722a48" />
<rect x="117.80" y="458.02" width="8.12" height="2.93" fill="#722a48" />
<rect x="125.87" y="325.70" width="8.12" height="2.93" fill="#1c9ed8" />
<rect x="125.87" y="328.58" width="8.12" height="2.93" fill="#3f4c72" />
<rect x="125.87" y="331.45" width="8.12" height="2.93" fill="#1c9ed8" />
<rect x="125.87" y="334.33" width="8.12" height="2.93" fill="#3f4c72" />
<rect x="125.87" y="337.21" width="8.12" height="2.93" fill="#3f4c72" />
<rect x="125.87" y="340.08" width="8.12" height="2.93" fill="#3f4c72" />
<rect x="125.87" y="342.96" width="8.12" height="2.93" fill="#286a9e" />
<rect x="125.87" y="345.84" width="8.12" height="2.93" fill="#722a48" />
<rect x="125.87" y="348.71" width="8.12" height="2.93" fill="#c95033" />
<rect x="125.87" y="351.59" width="8.12" height="2.93" fill="#3f4c72" />
<rect x="125.87" y="354.47" width="8.12" height="2.93" fill="#3f4c72" />
<rect x="125.87" y="357.34" width="8.12" height="2.93" fill="#3f4c72" />
<rect x="125.87" y="360.22" width="8.12" height="2.93" fill="#722a48" />
<rect x="125.87" y="363.10" width="8.12" height="2.93" fill="#1c9ed8" />
<rect x="125.87" y="365.97" width="8.12" height="2.93" fill="#722a48" />
<rect x="125.87" y="368.85" width="8.12" height="2.93" fill="#3f4c72" />
<rect x="125.87" y="371.73" width="8.12" height="2.93" fill="#722a48" />
<rect x="125.87" y="374.60" width="8.12" height="2.93" fill="#3f4c72" />
<rect x="125.87" y="377.48" width="8.12" height="2.93" fill="#1c9ed8" />
<rect x="125.87" y="380.36" width="8.12" height="2.93" fill="#286a9e" />
<rect x="125.87" y="383.23" width="8.12" height="2.93" fill="#3f4c72" />
<rect x="125.87" y="386.11" width="8.12" height="2.93" fill="#3f4c72" />
<rect x="125.87" y="388.99" width="8.12" height="2.93" fill="#1c9ed8" />
<rect x="125.87" y="391.86" width="8.12" height="2.93" fill="#3f4c72" />
<rect x="125.87" y="394.74" width="8.12" height="2.93" fill="#1c9ed8" />
<rect x="125.87" y="397.61" width="8.12" height="2.93" fill="#3f4c72" />
<rect x="125.87" y="400.49" width="8.12" height="2.93" fill="#286a9e" />
<rect x="125.87" y="403.37" width="8.12" height="2.93" fill="#3f4c72" />
<rect x="125.87" y="406.24" width="8.12" height="2.93" fill="#3f4c72" />
<rect x="125.87" y="409.12" width="8.12" height="2.93" fill="#3f4c72" />
<rect x="125.87" y="412.00" width="8.12" height="2.93" fill="#3f4c72" />
<rect x="125.87" y="414.87" width="8.12" height="2.93" fill="#286a9e" />
<rect x="125.87" y="417.75" width="8.12" height="2.93" fill="#1c9ed8" />
<rect x="125.87" y="420.63" width="8.12" height="2.93" fill="#286a9e" />
<rect x="125.87" y="423.50" width="8.12" height="2.93" fill="#3f4c72" />
<rect x="125.87" y="426.38" width="8.12" height="2.93" fill="#3f4c72" />
<rect x="125.87" y="429.26" width="8.12" height="2.93" fill="#3f4c72" />
<rect x="125.87" y="432.13" width="8.12" height="2.93" fill="#722a48" />
<rect x="125.87" y="435.01" width="8.12" height="2.93" fill="#722a48" />
<rect x="125.87" y="437.89" width="8.12" height="2.93" fill="#722a48" />
<rect x="125.87" y="440.76" width="8.12" height="2.93" fill="#962a3e" />
<rect x="125.87" y="443.64" width="8.12" height="2.93" fill="#722a48" />
<rect x="125.87" y="446.52" width="8.12" height="2.93" fill="#722a48" />
<rect x="125.87" y="449.39" width="8.12" height="2.93" fill="#286a9e" />
<rect x="125.87" y="452.27" width="8.12" height="2.93" fill="#722a48" />
<rect x="125.87" y="455.15" width="8.12" height="2.93" fill="#722a48" />
<rect x="125.87" y="458.02" width="8.12" height="2.93" fill="#3f4c72" />
<rect x="133.93" y="325.70" width="8.12" height="2.93" fill="#962a3e" />
<rect x="133.93" y="328.58" width="8.12" height="2.93" fill="#3f4c72" />
<rect x="133.93" y="331.45" width="8.12" height="2.93" fill="#3f4c72" />
<rect x="133.93" y="334.33" width="8.12" height="2.93" fill="#3f4c72" />
<rect x="133.93" y="337.21" width="8.12" height="2.93" fill="#286a9e" />
<rect x="133.93" y="340.08" width="8.12" height="2.93" fill="#286a9e" />
<rect x="133.93" y="342.96" width="8.12" height="2.93" fill="#3f4c72" />
<rect x="133.93" y="345.84" width="8.12" height="2.93" fill="#3f4c72" />
<rect x="133.93" y="348.71" width="8.12" height="2.93" fill="#3f4c72" />
<rect x="133.93" y="351.59" width="8.12" height="2.93" fill="#3f4c72" />
<rect x="133.93" y="354.47" width="8.12" height="2.93" fill="#3f4c72" />
<rect x="133.93" y="357.34" width="8.12" height="2.93" fill="#286a9e" />
<rect x="133.93" y="360.22" width="8.12" height="2.93" fill="#3f4c72" />
<rect x="133.93" y="363.10" width="8.12" height="2.93" fill="#3f4c72" />
<rect x="133.93" y="365.97" width="8.12" height="2.93" fill="#722a48" />
<rect x="133.93" y="368.85" width="8.12" height="2.93" fill="#3f4c72" />
<rect x="133.93" y="371.73" width="8.12" height="2.93" fill="#286a9e" />
<rect x="133.93" y="374.60" width="8.12" height="2.93" fill="#1c9ed8" />
<rect x="133.93" y="377.48" width="8.12" height="2.93" fill="#3f4c72" />
<rect x="133.93" y="380.36" width="8.12" height="2.93" fill="#286a9e" />
<rect x="133.93" y="383.23" width="8.12" height="2.93" fill="#3f4c72" />
<rect x="133.93" y="386.11" width="8.12" height="2.93" fill="#722a48" />
<rect x="133.93" y="388.99" width="8.12" height="2.93" fill="#722a48" />
<rect x="133.93" y="391.86" width="8.12" height="2.93" fill="#3f4c72" />
<rect x="133.93" y="394.74" width="8.12" height="2.93" fill="#3f4c72" />
<rect x="133.93" y="397.61" width="8.12" height="2.93" fill="#3f4c72" />
<rect x="133.93" y="400.49" width="8.12" height="2.93" fill="#3f4c72" />
<rect x="133.93" y="403.37" width="8.12" height="2.93" fill="#3f4c72" />
<rect x="133.93" y="406.24" width="8.12" height="2.93" fill="#286a9e" />
<rect x="133.93" y="409.12" width="8.12" height="2.93" fill="#3f4c72" />
<rect x="133.93" y="412.00" width="8.12" height="2.93" fill="#3f4c72" />
<rect x="133.93" y="414.87" width="8.12" height="2.93" fill="#3f4c72" />
<rect x="133.93" y="417.75" width="8.12" height="2.93" fill="#3f4c72" />
<rect x="133.93" y="420.63" width="8.12" height="2.93" fill="#3f4c72" />
<rect x="133.93" y="423.50" width="8.12" height="2.93" fill="#3f4c72" />
<rect x="133.93" y="426.38" width="8.12" height="2.93" fill="#722a48" />
<rect x="133.93" y="429.26" width="8.12" height="2.93" fill="#722a48" />
<rect x="133.93" y="432.13" width="8.12" height="2.93" fill="#3f4c72" />
<rect x="133.93" y="435.01" width="8.12" height="2.93" fill="#3f4c72" />
<rect x="133.93" y="437.89" width="8.12" height="2.93" fill="#3f4c72" />
<rect x="133.93" y="440.76" width="8.12" height="2.93" fill="#286a9e" />
<rect x="133.93" y="443.64" width="8.12" height="2.93" fill="#3f4c72" />
<rect x="133.93" y="446.52" width="8.12" height="2.93" fill="#3f4c72" />
<rect x="133.93" y="449.39" width="8.12" height="2.93" fill="#b83a3a" />
<rect x="133.93" y="452.27" width="8.12" height="2.93" fill="#3f4c72" />
<rect x="133.93" y="455.15" width="8.12" height="2.93" fill="#3f4c72" />
<rect x="133.93" y="458.02" width="8.12" height="2.93" fill="#722a48" />
<rect x="30.40" y="466.10" width="8.12" height="2.93" fill="#286a9e" />
<rect x="30.40" y="468.98" width="8.12" height="2.93" fill="#286a9e" />
<rect x="30.40" y="471.85" width="8.12" height="2.93" fill="#286a9e" />
<rect x="30.40" y="474.73" width="8.12" height="2.93" fill="#1c9ed8" />
<rect x="30.40" y="477.60" width="8.12" height="2.93" fill="#1c9ed8" />
<rect x="30.40" y="480.48" width="8.12" height="2.93" fill="#1c9ed8" />
<rect x="30.40" y="483.36" width="8.12" height="2.93" fill="#1c9ed8" />
<rect x="30.40" y="486.23" width="8.12" height="2.93" fill="#58b3dc" />
<rect x="30.40" y="489.11" width="8.12" height="2.93" fill="#1c9ed8" />
<rect x="30.40" y="491.99" width="8.12" height="2.93" fill="#3f4c72" />
<rect x="30.40" y="494.86" width="8.12" height="2.93" fill="#1c9ed8" />
<rect x="30.40" y="497.74" width="8.12" height="2.93" fill="#286a9e" />
<rect x="30.40" y="500.61" width="8.12" height="2.93" fill="#3f4c72" />
<rect x="30.40" y="503.49" width="8.12" height="2.93" fill="#1c9ed8" />
<rect x="30.40" y="506.37" width="8.12" height="2.93" fill="#1c9ed8" />
<rect x="30.40" y="509.24" width="8.12" height="2.93" fill="#58b3dc" />
<rect x="30.40" y="512.12" width="8.12" height="2.93" fill="#58b3dc" />
<rect x="30.40" y="515.00" width="8.12" height="2.93" fill="#1c9ed8" />
<rect x="30.40" y="517.87" width="8.12" height="2.93" fill="#1c9ed8" />
<rect x="30.40" y="520.75" width="8.12" height="2.93" fill="#286a9e" />
<rect x="30.40" y="523.62" width="8.12" height="2.93" fill="#1c9ed8" />
<rect x="38.47" y="466.10" width="8.12" height="2.93" fill="#286a9e" />
<rect x="38.47" y="468.98" width="8.12" height="2.93" fill="#286a9e" />
<rect x="38.47" y="471.85" width="8.12" height="2.93" fill="#1c9ed8" />
<rect x="38.47" y="474.73" width="8.12" height="2.93" fill="#1c9ed8" />
<rect x="38.47" y="477.60" width="8.12" height="2.93" fill="#1c9ed8" />
<rect x="38.47" y="480.48" width="8.12" height="2.93" fill="#1c9ed8" />
<rect x="38.47" y="483.36" width="8.12" height="2.93" fill="#58b3dc" />
<rect x="38.47" y="486.23" width="8.12" height="2.93" fill="#3f4c72" />
<rect x="38.47" y="489.11" width="8.12" height="2.93" fill="#286a9e" />
<rect x="38.47" y="491.99" width="8.12" height="2.93" fill="#286a9e" />
<rect x="38.47" y="494.86" width="8.12" height="2.93" fill="#286a9e" />
<rect x="38.47" y="497.74" width="8.12" height="2.93" fill="#1c9ed8" />
<rect x="38.47" y="500.61" width="8.12" height="2.93" fill="#1c9ed8" />
<rect x="38.47" y="503.49" width="8.12" height="2.93" fill="#1c9ed8" />
<rect x="38.47" y="506.37" width="8.12" height="2.93" fill="#286a9e" />
<rect x="38.47" y="509.24" width="8.12" height="2.93" fill="#286a9e" />
<rect x="38.47" y="512.12" width="8.12" height="2.93" fill="#1c9ed8" />
<rect x="38.47" y="515.00" width="8.12" height="2.93" fill="#1c9ed8" />
<rect x="38.47" y="517.87" width="8.12" height="2.93" fill="#58b3dc" />
<rect x="38.47" y="520.75" width="8.12" height="2.93" fill="#1c9ed8" />
<rect x="38.47" y="523.62" width="8.12" height="2.93" fill="#1c9ed8" />
<rect x="46.53" y="466.10" width="8.12" height="2.93" fill="#3f4c72" />
<rect x="46.53" y="468.98" width="8.12" height="2.93" fill="#722a48" />
<rect x="46.53" y="471.85" width="8.12" height="2.93" fill="#1c9ed8" />
<rect x="46.53" y="474.73" width="8.12" height="2.93" fill="#3f4c72" />
<rect x="46.53" y="477.60" width="8.12" height="2.93" fill="#1c9ed8" />
<rect x="46.53" y="480.48" width="8.12" height="2.93" fill="#1c9ed8" />
<rect x="46.53" y="483.36" width="8.12" height="2.93" fill="#1c9ed8" />
<rect x="46.53" y="486.23" width="8.12" height="2.93" fill="#58b3dc" />
<rect x="46.53" y="489.11" width="8.12" height="2.93" fill="#58b3dc" />
<rect x="46.53" y="491.99" width="8.12" height="2.93" fill="#3f4c72" />
<rect x="46.53" y="494.86" width="8.12" height="2.93" fill="#3f4c72" />
<rect x="46.53" y="497.74" width="8.12" height="2.93" fill="#286a9e" />
<rect x="46.53" y="500.61" width="8.12" height="2.93" fill="#3f4c72" />
<rect x="46.53" y="503.49" width="8.12" height="2.93" fill="#1c9ed8" />
<rect x="46.53" y="506.37" width="8.12" height="2.93" fill="#1c9ed8" />
<rect x="46.53" y="509.24" width="8.12" height="2.93" fill="#1c9ed8" />
<rect x="46.53" y="512.12" width="8.12" height="2.93" fill="#1c9ed8" />
<rect x="46.53" y="515.00" width="8.12" height="2.93" fill="#58b3dc" />
<rect x="46.53" y="517.87" width="8.12" height="2.93" fill="#1c9ed8" />
<rect x="46.53" y="520.75" width="8.12" height="2.93" fill="#1c9ed8" />
<rect x="46.53" y="523.62" width="8.12" height="2.93" fill="#3f4c72" />
<rect x="59.40" y="466.10" width="8.12" height="2.93" fill="#3f4c72" />
<rect x="59.40" y="468.98" width="8.12" height="2.93" fill="#3f4c72" />
<rect x="59.40" y="471.85" width="8.12" height="2.93" fill="#3f4c72" />
<rect x="59.40" y="474.73" width="8.12" height="2.93" fill="#3f4c72" />
<rect x="59.40" y="477.60" width="8.12" height="2.93" fill="#3f4c72" />
<rect x="59.40" y="480.48" width="8.12" height="2.93" fill="#1c9ed8" />
<rect x="59.40" y="483.36" width="8.12" height="2.93" fill="#c95033" />
<rect x="59.40" y="486.23" width="8.12" height="2.93" fill="#962a3e" />
<rect x="59.40" y="489.11" width="8.12" height="2.93" fill="#722a48" />
<rect x="59.40" y="491.99" width="8.12" height="2.93" fill="#c95033" />
<rect x="59.40" y="494.86" width="8.12" height="2.93" fill="#722a48" />
<rect x="59.40" y="497.74" width="8.12" height="2.93" fill="#c95033" />
<rect x="59.40" y="500.61" width="8.12" height="2.93" fill="#722a48" />
<rect x="59.40" y="503.49" width="8.12" height="2.93" fill="#962a3e" />
<rect x="59.40" y="506.37" width="8.12" height="2.93" fill="#722a48" />
<rect x="59.40" y="509.24" width="8.12" height="2.93" fill="#962a3e" />
<rect x="59.40" y="512.12" width="8.12" height="2.93" fill="#962a3e" />
<rect x="59.40" y="515.00" width="8.12" height="2.93" fill="#962a3e" />
<rect x="59.40" y="517.87" width="8.12" height="2.93" fill="#962a3e" />
<rect x="59.40" y="520.75" width="8.12" height="2.93" fill="#962a3e" />
<rect x="59.40" y="523.62" width="8.12" height="2.93" fill="#962a3e" />
<rect x="67.47" y="466.10" width="8.12" height="2.93" fill="#b83a3a" />
<rect x="67.47" y="468.98" width="8.12" height="2.93" fill="#b83a3a" />
<rect x="67.47" y="471.85" width="8.12" height="2.93" fill="#c95033" />
<rect x="67.47" y="474.73" width="8.12" height="2.93" fill="#b83a3a" />
<rect x="67.47" y="477.60" width="8.12" height="2.93" fill="#962a3e" />
<rect x="67.47" y="480.48" width="8.12" height="2.93" fill="#b83a3a" />
<rect x="67.47" y="483.36" width="8.12" height="2.93" fill="#b83a3a" />
<rect x="67.47" y="486.23" width="8.12" height="2.93" fill="#962a3e" />
<rect x="67.47" y="489.11" width="8.12" height="2.93" fill="#c95033" />
<rect x="67.47" y="491.99" width="8.12" height="2.93" fill="#962a3e" />
<rect x="67.47" y="494.86" width="8.12" height="2.93" fill="#cf6a33" />
<rect x="67.47" y="497.74" width="8.12" height="2.93" fill="#cf6a33" />
<rect x="67.47" y="500.61" width="8.12" height="2.93" fill="#b83a3a" />
<rect x="67.47" y="503.49" width="8.12" height="2.93" fill="#cf6a33" />
<rect x="67.47" y="506.37" width="8.12" height="2.93" fill="#cf6a33" />
<rect x="67.47" y="509.24" width="8.12" height="2.93" fill="#cf6a33" />
<rect x="67.47" y="512.12" width="8.12" height="2.93" fill="#b83a3a" />
<rect x="67.47" y="515.00" width="8.12" height="2.93" fill="#b83a3a" />
<rect x="67.47" y="517.87" width="8.12" height="2.93" fill="#b83a3a" />
<rect x="67.47" y="520.75" width="8.12" height="2.93" fill="#b83a3a" />
<rect x="67.47" y="523.62" width="8.12" height="2.93" fill="#cf6a33" />
<rect x="75.53" y="466.10" width="8.12" height="2.93" fill="#b83a3a" />
<rect x="75.53" y="468.98" width="8.12" height="2.93" fill="#b83a3a" />
<rect x="75.53" y="471.85" width="8.12" height="2.93" fill="#c95033" />
<rect x="75.53" y="474.73" width="8.12" height="2.93" fill="#962a3e" />
<rect x="75.53" y="477.60" width="8.12" height="2.93" fill="#962a3e" />
<rect x="75.53" y="480.48" width="8.12" height="2.93" fill="#c95033" />
<rect x="75.53" y="483.36" width="8.12" height="2.93" fill="#722a48" />
<rect x="75.53" y="486.23" width="8.12" height="2.93" fill="#722a48" />
<rect x="75.53" y="489.11" width="8.12" height="2.93" fill="#722a48" />
<rect x="75.53" y="491.99" width="8.12" height="2.93" fill="#b83a3a" />
<rect x="75.53" y="494.86" width="8.12" height="2.93" fill="#b83a3a" />
<rect x="75.53" y="497.74" width="8.12" height="2.93" fill="#b83a3a" />
<rect x="75.53" y="500.61" width="8.12" height="2.93" fill="#b83a3a" />
<rect x="75.53" y="503.49" width="8.12" height="2.93" fill="#722a48" />
<rect x="75.53" y="506.37" width="8.12" height="2.93" fill="#962a3e" />
<rect x="75.53" y="509.24" width="8.12" height="2.93" fill="#b83a3a" />
<rect x="75.53" y="512.12" width="8.12" height="2.93" fill="#c95033" />
<rect x="75.53" y="515.00" width="8.12" height="2.93" fill="#b83a3a" />
<rect x="75.53" y="517.87" width="8.12" height="2.93" fill="#b83a3a" />
<rect x="75.53" y="520.75" width="8.12" height="2.93" fill="#b83a3a" />
<rect x="75.53" y="523.62" width="8.12" height="2.93" fill="#b83a3a" />
<rect x="88.80" y="466.10" width="8.12" height="2.93" fill="#1c9ed8" />
<rect x="88.80" y="468.98" width="8.12" height="2.93" fill="#286a9e" />
<rect x="88.80" y="471.85" width="8.12" height="2.93" fill="#3f4c72" />
<rect x="88.80" y="474.73" width="8.12" height="2.93" fill="#722a48" />
<rect x="88.80" y="477.60" width="8.12" height="2.93" fill="#1c9ed8" />
<rect x="88.80" y="480.48" width="8.12" height="2.93" fill="#286a9e" />
<rect x="88.80" y="483.36" width="8.12" height="2.93" fill="#3f4c72" />
<rect x="88.80" y="486.23" width="8.12" height="2.93" fill="#962a3e" />
<rect x="88.80" y="489.11" width="8.12" height="2.93" fill="#3f4c72" />
<rect x="88.80" y="491.99" width="8.12" height="2.93" fill="#3f4c72" />
<rect x="88.80" y="494.86" width="8.12" height="2.93" fill="#722a48" />
<rect x="88.80" y="497.74" width="8.12" height="2.93" fill="#722a48" />
<rect x="88.80" y="500.61" width="8.12" height="2.93" fill="#3f4c72" />
<rect x="88.80" y="503.49" width="8.12" height="2.93" fill="#722a48" />
<rect x="88.80" y="506.37" width="8.12" height="2.93" fill="#286a9e" />
<rect x="88.80" y="509.24" width="8.12" height="2.93" fill="#1c9ed8" />
<rect x="88.80" y="512.12" width="8.12" height="2.93" fill="#3f4c72" />
<rect x="88.80" y="515.00" width="8.12" height="2.93" fill="#1c9ed8" />
<rect x="88.80" y="517.87" width="8.12" height="2.93" fill="#286a9e" />
<rect x="88.80" y="520.75" width="8.12" height="2.93" fill="#722a48" />
<rect x="88.80" y="523.62" width="8.12" height="2.93" fill="#286a9e" />
<rect x="96.87" y="466.10" width="8.12" height="2.93" fill="#3f4c72" />
<rect x="96.87" y="468.98" width="8.12" height="2.93" fill="#3f4c72" />
<rect x="96.87" y="471.85" width="8.12" height="2.93" fill="#286a9e" />
<rect x="96.87" y="474.73" width="8.12" height="2.93" fill="#1c9ed8" />
<rect x="96.87" y="477.60" width="8.12" height="2.93" fill="#1c9ed8" />
<rect x="96.87" y="480.48" width="8.12" height="2.93" fill="#1c9ed8" />
<rect x="96.87" y="483.36" width="8.12" height="2.93" fill="#722a48" />
<rect x="96.87" y="486.23" width="8.12" height="2.93" fill="#3f4c72" />
<rect x="96.87" y="489.11" width="8.12" height="2.93" fill="#3f4c72" />
<rect x="96.87" y="491.99" width="8.12" height="2.93" fill="#58b3dc" />
<rect x="96.87" y="494.86" width="8.12" height="2.93" fill="#3f4c72" />
<rect x="96.87" y="497.74" width="8.12" height="2.93" fill="#3f4c72" />
<rect x="96.87" y="500.61" width="8.12" height="2.93" fill="#286a9e" />
<rect x="96.87" y="503.49" width="8.12" height="2.93" fill="#3f4c72" />
<rect x="96.87" y="506.37" width="8.12" height="2.93" fill="#1c9ed8" />
<rect x="96.87" y="509.24" width="8.12" height="2.93" fill="#286a9e" />
<rect x="96.87" y="512.12" width="8.12" height="2.93" fill="#286a9e" />
<rect x="96.87" y="515.00" width="8.12" height="2.93" fill="#962a3e" />
<rect x="96.87" y="517.87" width="8.12" height="2.93" fill="#3f4c72" />
<rect x="96.87" y="520.75" width="8.12" height="2.93" fill="#286a9e" />
<rect x="96.87" y="523.62" width="8.12" height="2.93" fill="#1c9ed8" />
<rect x="104.93" y="466.10" width="8.12" height="2.93" fill="#3f4c72" />
<rect x="104.93" y="468.98" width="8.12" height="2.93" fill="#1c9ed8" />
<rect x="104.93" y="471.85" width="8.12" height="2.93" fill="#3f4c72" />
<rect x="104.93" y="474.73" width="8.12" height="2.93" fill="#722a48" />
<rect x="104.93" y="477.60" width="8.12" height="2.93" fill="#3f4c72" />
<rect x="104.93" y="480.48" width="8.12" height="2.93" fill="#722a48" />
<rect x="104.93" y="483.36" width="8.12" height="2.93" fill="#3f4c72" />
<rect x="104.93" y="486.23" width="8.12" height="2.93" fill="#3f4c72" />
<rect x="104.93" y="489.11" width="8.12" height="2.93" fill="#722a48" />
<rect x="104.93" y="491.99" width="8.12" height="2.93" fill="#1c9ed8" />
<rect x="104.93" y="494.86" width="8.12" height="2.93" fill="#58b3dc" />
<rect x="104.93" y="497.74" width="8.12" height="2.93" fill="#58b3dc" />
<rect x="104.93" y="500.61" width="8.12" height="2.93" fill="#286a9e" />
<rect x="104.93" y="503.49" width="8.12" height="2.93" fill="#1c9ed8" />
<rect x="104.93" y="506.37" width="8.12" height="2.93" fill="#3f4c72" />
<rect x="104.93" y="509.24" width="8.12" height="2.93" fill="#722a48" />
<rect x="104.93" y="512.12" width="8.12" height="2.93" fill="#286a9e" />
<rect x="104.93" y="515.00" width="8.12" height="2.93" fill="#286a9e" />
<rect x="104.93" y="517.87" width="8.12" height="2.93" fill="#286a9e" />
<rect x="104.93" y="520.75" width="8.12" height="2.93" fill="#1c9ed8" />
<rect x="104.93" y="523.62" width="8.12" height="2.93" fill="#286a9e" />
<rect x="117.80" y="466.10" width="8.12" height="2.93" fill="#722a48" />
<rect x="117.80" y="468.98" width="8.12" height="2.93" fill="#722a48" />
<rect x="117.80" y="471.85" width="8.12" height="2.93" fill="#722a48" />
<rect x="117.80" y="474.73" width="8.12" height="2.93" fill="#3f4c72" />
<rect x="117.80" y="477.60" width="8.12" height="2.93" fill="#722a48" />
<rect x="117.80" y="480.48" width="8.12" height="2.93" fill="#722a48" />
<rect x="117.80" y="483.36" width="8.12" height="2.93" fill="#722a48" />
<rect x="117.80" y="486.23" width="8.12" height="2.93" fill="#c95033" />
<rect x="117.80" y="489.11" width="8.12" height="2.93" fill="#b83a3a" />
<rect x="117.80" y="491.99" width="8.12" height="2.93" fill="#722a48" />
<rect x="117.80" y="494.86" width="8.12" height="2.93" fill="#722a48" />
<rect x="117.80" y="497.74" width="8.12" height="2.93" fill="#722a48" />
<rect x="117.80" y="500.61" width="8.12" height="2.93" fill="#722a48" />
<rect x="117.80" y="503.49" width="8.12" height="2.93" fill="#962a3e" />
<rect x="117.80" y="506.37" width="8.12" height="2.93" fill="#b83a3a" />
<rect x="117.80" y="509.24" width="8.12" height="2.93" fill="#722a48" />
<rect x="117.80" y="512.12" width="8.12" height="2.93" fill="#962a3e" />
<rect x="117.80" y="515.00" width="8.12" height="2.93" fill="#722a48" />
<rect x="117.80" y="517.87" width="8.12" height="2.93" fill="#c95033" />
<rect x="117.80" y="520.75" width="8.12" height="2.93" fill="#722a48" />
<rect x="117.80" y="523.62" width="8.12" height="2.93" fill="#722a48" />
<rect x="125.87" y="466.10" width="8.12" height="2.93" fill="#cf6a33" />
<rect x="125.87" y="468.98" width="8.12" height="2.93" fill="#cf6a33" />
<rect x="125.87" y="471.85" width="8.12" height="2.93" fill="#c95033" />
<rect x="125.87" y="474.73" width="8.12" height="2.93" fill="#c95033" />
<rect x="125.87" y="477.60" width="8.12" height="2.93" fill="#e9b034" />
<rect x="125.87" y="480.48" width="8.12" height="2.93" fill="#cf6a33" />
<rect x="125.87" y="483.36" width="8.12" height="2.93" fill="#b83a3a" />
<rect x="125.87" y="486.23" width="8.12" height="2.93" fill="#722a48" />
<rect x="125.87" y="489.11" width="8.12" height="2.93" fill="#b83a3a" />
<rect x="125.87" y="491.99" width="8.12" height="2.93" fill="#722a48" />
<rect x="125.87" y="494.86" width="8.12" height="2.93" fill="#722a48" />
<rect x="125.87" y="497.74" width="8.12" height="2.93" fill="#722a48" />
<rect x="125.87" y="500.61" width="8.12" height="2.93" fill="#722a48" />
<rect x="125.87" y="503.49" width="8.12" height="2.93" fill="#722a48" />
<rect x="125.87" y="506.37" width="8.12" height="2.93" fill="#962a3e" />
<rect x="125.87" y="509.24" width="8.12" height="2.93" fill="#c95033" />
<rect x="125.87" y="512.12" width="8.12" height="2.93" fill="#c95033" />
<rect x="125.87" y="515.00" width="8.12" height="2.93" fill="#722a48" />
<rect x="125.87" y="517.87" width="8.12" height="2.93" fill="#722a48" />
<rect x="125.87" y="520.75" width="8.12" height="2.93" fill="#c95033" />
<rect x="125.87" y="523.62" width="8.12" height="2.93" fill="#962a3e" />
<rect x="133.93" y="466.10" width="8.12" height="2.93" fill="#722a48" />
<rect x="133.93" y="468.98" width="8.12" height="2.93" fill="#722a48" />
<rect x="133.93" y="471.85" width="8.12" height="2.93" fill="#722a48" />
<rect x="133.93" y="474.73" width="8.12" height="2.93" fill="#962a3e" />
<rect x="133.93" y="477.60" width="8.12" height="2.93" fill="#962a3e" />
<rect x="133.93" y="480.48" width="8.12" height="2.93" fill="#b83a3a" />
<rect x="133.93" y="483.36" width="8.12" height="2.93" fill="#286a9e" />
<rect x="133.93" y="486.23" width="8.12" height="2.93" fill="#722a48" />
<rect x="133.93" y="489.11" width="8.12" height="2.93" fill="#3f4c72" />
<rect x="133.93" y="491.99" width="8.12" height="2.93" fill="#722a48" />
<rect x="133.93" y="494.86" width="8.12" height="2.93" fill="#722a48" />
<rect x="133.93" y="497.74" width="8.12" height="2.93" fill="#722a48" />
<rect x="133.93" y="500.61" width="8.12" height="2.93" fill="#722a48" />
<rect x="133.93" y="503.49" width="8.12" height="2.93" fill="#722a48" />
<rect x="133.93" y="506.37" width="8.12" height="2.93" fill="#722a48" />
<rect x="133.93" y="509.24" width="8.12" height="2.93" fill="#722a48" />
<rect x="133.93" y="512.12" width="8.12" height="2.93" fill="#722a48" />
<rect x="133.93" y="515.00" width="8.12" height="2.93" fill="#962a3e" />
<rect x="133.93" y="517.87" width="8.12" height="2.93" fill="#722a48" />
<rect x="133.93" y="520.75" width="8.12" height="2.93" fill="#962a3e" />
<rect x="133.93" y="523.62" width="8.12" height="2.93" fill="#722a48" />
</g>
<text x="24.20" y="47.80" font-size="7.6" text-anchor="end" >I</text>
<text x="24.20" y="78.60" font-size="7.6" text-anchor="end" >II</text>
<text x="24.20" y="99.40" font-size="7.6" text-anchor="end" >III</text>
<text x="24.20" y="120.40" font-size="7.6" text-anchor="end" >IV</text>
<text x="24.20" y="165.70" font-size="7.6" text-anchor="end" >V</text>
<text x="24.20" y="265.80" font-size="7.6" text-anchor="end" >VI</text>
<text x="24.20" y="395.70" font-size="7.6" text-anchor="end" >VII</text>
<text x="24.20" y="498.80" font-size="7.6" text-anchor="end" >VIII</text>
<defs><linearGradient id="cb" x1="0" y1="0" x2="0" y2="1"><stop offset="0" stop-color="#f6d23a"/><stop offset="0.12" stop-color="#d98a34"/><stop offset="0.25" stop-color="#c4563a"/><stop offset="0.36" stop-color="#9c2c40"/><stop offset="0.45" stop-color="#6a2746"/><stop offset="0.54" stop-color="#3e3a5c"/><stop offset="0.64" stop-color="#2e5a86"/><stop offset="0.74" stop-color="#1a92cc"/><stop offset="0.83" stop-color="#2aa6dc"/><stop offset="0.92" stop-color="#86c6e0"/><stop offset="1" stop-color="#dce9ef"/></linearGradient></defs>
<rect x="145.20" y="21.90" width="5.40" height="86.70" fill="url(#cb)" />
<text x="153.40" y="35.40" font-size="7.2" >2</text>
<text x="153.40" y="51.80" font-size="7.2" >1</text>
<text x="153.40" y="68.20" font-size="7.2" >0</text>
<text x="153.40" y="85.80" font-size="7.2" >-1</text>
<text x="153.40" y="102.10" font-size="7.2" >-2</text>
<text x="164.50" y="51.00" font-size="8.2" textLength="29.00" lengthAdjust="spacingAndGlyphs" transform="rotate(90 164.50 51.00)" >Z-score</text>
<text x="8.10" y="15.80" font-size="10" >A</text>
<line x1="30.40" y1="531.50" x2="54.40" y2="531.50" stroke="#444" stroke-width="1.0"/>
<text x="42.40" y="540.60" font-size="6.6" text-anchor="middle" textLength="19.50" lengthAdjust="spacingAndGlyphs" >VavCre;</text>
<text transform="translate(42.40 552.6) scale(0.86 1)" font-size="6.6" text-anchor="middle">Jak2<tspan font-size="4.0" dy="-2.6">+/+</tspan><tspan dy="2.6">;</tspan></text>
<text x="42.40" y="564.2" font-size="6.6" text-anchor="middle">Cdk6<tspan font-size="3.6" dy="-2.6"> +/+</tspan></text>
<line x1="59.40" y1="531.50" x2="83.40" y2="531.50" stroke="#444" stroke-width="1.0"/>
<text x="71.40" y="540.60" font-size="6.6" text-anchor="middle" textLength="19.50" lengthAdjust="spacingAndGlyphs" >VavCre;</text>
<text transform="translate(71.40 552.6) scale(0.86 1)" font-size="6.6" text-anchor="middle">JAK2<tspan font-size="4.0" dy="-2.6">V617F</tspan><tspan dy="2.6">;</tspan></text>
<text x="71.40" y="564.2" font-size="6.6" text-anchor="middle">Cdk6<tspan font-size="3.6" dy="-2.6"> -/-</tspan></text>
<line x1="88.80" y1="531.50" x2="112.80" y2="531.50" stroke="#444" stroke-width="1.0"/>
<text x="100.80" y="540.60" font-size="6.6" text-anchor="middle" textLength="19.50" lengthAdjust="spacingAndGlyphs" >VavCre;</text>
<text transform="translate(100.80 552.6) scale(0.86 1)" font-size="6.6" text-anchor="middle">JAK2<tspan font-size="4.0" dy="-2.6">V617F</tspan><tspan dy="2.6">;</tspan></text>
<text x="100.80" y="564.2" font-size="6.6" text-anchor="middle">Cdk6<tspan font-size="3.6" dy="-2.6"> +/+</tspan></text>
<line x1="117.80" y1="531.50" x2="141.80" y2="531.50" stroke="#444" stroke-width="1.0"/>
<text x="129.80" y="540.60" font-size="6.6" text-anchor="middle" textLength="19.50" lengthAdjust="spacingAndGlyphs" >VavCre;</text>
<text transform="translate(129.80 552.6) scale(0.86 1)" font-size="6.6" text-anchor="middle">Jak2<tspan font-size="4.0" dy="-2.6">+/+</tspan><tspan dy="2.6">;</tspan></text>
<text x="129.80" y="564.2" font-size="6.6" text-anchor="middle">Cdk6<tspan font-size="3.6" dy="-2.6"> -/-</tspan></text>
<text x="8.00" y="590.60" font-size="11" >B</text>
<g shape-rendering="crispEdges">
<rect x="25.30" y="607.80" width="4.10" height="15.10" fill="#141414" />
<rect x="29.40" y="607.80" width="2.00" height="15.10" fill="#3a3a3a" />
<rect x="32.30" y="607.80" width="0.90" height="15.10" fill="#141414" />
<rect x="33.20" y="607.80" width="4.30" height="15.10" fill="#7a7a7a" />
<rect x="37.50" y="607.80" width="1.30" height="15.10" fill="#3a3a3a" />
<rect x="38.80" y="607.80" width="2.70" height="15.10" fill="#7a7a7a" />
<rect x="43.50" y="607.80" width="0.70" height="15.10" fill="#3a3a3a" />
<rect x="44.20" y="607.80" width="2.00" height="15.10" fill="#7a7a7a" />
<rect x="48.20" y="607.80" width="5.40" height="15.10" fill="#7a7a7a" />
<rect x="50.50" y="607.80" width="1.00" height="15.10" fill="#3a3a3a" />
<rect x="53.60" y="607.80" width="2.00" height="15.10" fill="#141414" />
<rect x="55.60" y="607.80" width="2.70" height="15.10" fill="#7a7a7a" />
<rect x="59.70" y="607.80" width="3.30" height="15.10" fill="#3a3a3a" />
<rect x="63.00" y="607.80" width="1.40" height="15.10" fill="#141414" />
<rect x="67.10" y="607.80" width="1.30" height="15.10" fill="#7a7a7a" />
<rect x="69.80" y="607.80" width="2.00" height="15.10" fill="#3a3a3a" />
<rect x="71.80" y="607.80" width="6.00" height="15.10" fill="#b4b4b4" />
<rect x="73.50" y="607.80" width="1.00" height="15.10" fill="#7a7a7a" />
<rect x="80.50" y="607.80" width="1.40" height="15.10" fill="#7a7a7a" />
<rect x="83.90" y="607.80" width="1.30" height="15.10" fill="#3a3a3a" />
<rect x="87.30" y="607.80" width="6.50" height="15.10" fill="#b4b4b4" />
<rect x="89.00" y="607.80" width="1.00" height="15.10" fill="#7a7a7a" />
<rect x="100.40" y="607.80" width="1.50" height="15.10" fill="#7a7a7a" />
<rect x="101.90" y="607.80" width="2.20" height="15.10" fill="#141414" />
<rect x="104.10" y="607.80" width="1.40" height="15.10" fill="#7a7a7a" />
<rect x="108.50" y="607.80" width="5.10" height="15.10" fill="#b4b4b4" />
<rect x="110.00" y="607.80" width="1.00" height="15.10" fill="#7a7a7a" />
<rect x="113.60" y="607.80" width="2.20" height="15.10" fill="#3a3a3a" />
<rect x="118.00" y="607.80" width="1.40" height="15.10" fill="#7a7a7a" />
<rect x="119.40" y="607.80" width="3.00" height="15.10" fill="#3a3a3a" />
<rect x="122.40" y="607.80" width="2.10" height="15.10" fill="#7a7a7a" />
<rect x="124.50" y="607.80" width="2.20" height="15.10" fill="#3a3a3a" />
<rect x="128.90" y="607.80" width="3.00" height="15.10" fill="#7a7a7a" />
<rect x="131.90" y="607.80" width="2.90" height="15.10" fill="#3a3a3a" />
<rect x="134.80" y="607.80" width="2.90" height="15.10" fill="#7a7a7a" />
<rect x="137.70" y="607.80" width="2.20" height="15.10" fill="#3a3a3a" />
<rect x="139.90" y="607.80" width="2.90" height="15.10" fill="#7a7a7a" />
<rect x="142.80" y="607.80" width="1.50" height="15.10" fill="#141414" />
<rect x="144.30" y="607.80" width="2.20" height="15.10" fill="#7a7a7a" />
<rect x="146.50" y="607.80" width="2.20" height="15.10" fill="#3a3a3a" />
<rect x="148.70" y="607.80" width="2.20" height="15.10" fill="#b4b4b4" />
<rect x="150.90" y="607.80" width="2.20" height="15.10" fill="#7a7a7a" />
<rect x="153.10" y="607.80" width="2.20" height="15.10" fill="#3a3a3a" />
<rect x="155.30" y="607.80" width="2.10" height="15.10" fill="#7a7a7a" />
<rect x="157.40" y="607.80" width="2.20" height="15.10" fill="#141414" />
<rect x="159.60" y="607.80" width="1.90" height="15.10" fill="#7a7a7a" />
</g>
<defs><linearGradient id="g607_0"><stop offset="0" stop-color="#d45d57"/><stop offset="1" stop-color="#d8665f"/></linearGradient></defs>
<rect x="25.20" y="622.90" width="40.10" height="4.00" fill="url(#g607_0)" />
<defs><linearGradient id="g607_1"><stop offset="0" stop-color="#e8aeca"/><stop offset="1" stop-color="#e6b8d2"/></linearGradient></defs>
<rect x="65.00" y="622.90" width="25.30" height="4.00" fill="url(#g607_1)" />
<defs><linearGradient id="g607_2"><stop offset="0" stop-color="#d8d2ea"/><stop offset="1" stop-color="#ccc6e4"/></linearGradient></defs>
<rect x="90.00" y="622.90" width="23.30" height="4.00" fill="url(#g607_2)" />
<defs><linearGradient id="g607_3"><stop offset="0" stop-color="#bab4dc"/><stop offset="1" stop-color="#aaa2d6"/></linearGradient></defs>
<rect x="113.00" y="622.90" width="16.30" height="4.00" fill="url(#g607_3)" />
<defs><linearGradient id="g607_4"><stop offset="0" stop-color="#7e6ebc"/><stop offset="1" stop-color="#6c5cb0"/></linearGradient></defs>
<rect x="129.00" y="622.90" width="16.30" height="4.00" fill="url(#g607_4)" />
<defs><linearGradient id="g607_5"><stop offset="0" stop-color="#6450a8"/><stop offset="1" stop-color="#5a449e"/></linearGradient></defs>
<rect x="145.00" y="622.90" width="16.80" height="4.00" fill="url(#g607_5)" />
<text x="13.40" y="620.40" font-size="8.2" textLength="8.70" lengthAdjust="spacingAndGlyphs" >up</text>
<text x="163.50" y="620.40" font-size="8.2" textLength="18.80" lengthAdjust="spacingAndGlyphs" >down</text>
<text x="45.8" y="603.8" font-size="8" textLength="88.2" lengthAdjust="spacingAndGlyphs">TNF- <tspan font-weight="bold" font-size="8.5">&#945;</tspan><tspan>signaling via NF-&#954;B</tspan></text>
<text x="35.50" y="636.70" font-size="7.8" textLength="31.10" lengthAdjust="spacingAndGlyphs" >NES=2.42</text>
<text x="106.00" y="636.70" font-size="7.8" textLength="37.20" lengthAdjust="spacingAndGlyphs" >FDR&lt;0.001</text>
<g shape-rendering="crispEdges">
<rect x="25.10" y="662.80" width="2.60" height="15.10" fill="#141414" />
<rect x="27.70" y="662.80" width="1.70" height="15.10" fill="#7a7a7a" />
<rect x="29.40" y="662.80" width="1.70" height="15.10" fill="#141414" />
<rect x="31.10" y="662.80" width="3.50" height="15.10" fill="#7a7a7a" />
<rect x="34.60" y="662.80" width="2.60" height="15.10" fill="#b4b4b4" />
<rect x="37.20" y="662.80" width="3.50" height="15.10" fill="#3a3a3a" />
<rect x="43.30" y="662.80" width="2.00" height="15.10" fill="#141414" />
<rect x="47.60" y="662.80" width="2.60" height="15.10" fill="#7a7a7a" />
<rect x="51.90" y="662.80" width="1.70" height="15.10" fill="#7a7a7a" />
<rect x="55.40" y="662.80" width="1.70" height="15.10" fill="#7a7a7a" />
<rect x="59.70" y="662.80" width="2.60" height="15.10" fill="#b4b4b4" />
<rect x="64.90" y="662.80" width="2.60" height="15.10" fill="#3a3a3a" />
<rect x="67.50" y="662.80" width="3.40" height="15.10" fill="#7a7a7a" />
<rect x="72.30" y="662.80" width="1.20" height="15.10" fill="#141414" />
<rect x="77.00" y="662.80" width="1.20" height="15.10" fill="#141414" />
<rect x="81.30" y="662.80" width="1.40" height="15.10" fill="#141414" />
<rect x="85.60" y="662.80" width="1.80" height="15.10" fill="#141414" />
<rect x="87.40" y="662.80" width="4.50" height="15.10" fill="#7a7a7a" />
<rect x="96.80" y="662.80" width="1.00" height="15.10" fill="#141414" />
<rect x="98.80" y="662.80" width="1.40" height="15.10" fill="#3a3a3a" />
<rect x="101.70" y="662.80" width="2.00" height="15.10" fill="#3a3a3a" />
<rect x="103.70" y="662.80" width="2.90" height="15.10" fill="#7a7a7a" />
<rect x="108.60" y="662.80" width="1.90" height="15.10" fill="#3a3a3a" />
<rect x="111.50" y="662.80" width="2.00" height="15.10" fill="#3a3a3a" />
<rect x="115.50" y="662.80" width="1.90" height="15.10" fill="#3a3a3a" />
<rect x="117.40" y="662.80" width="2.00" height="15.10" fill="#b4b4b4" />
<rect x="119.40" y="662.80" width="2.90" height="15.10" fill="#3a3a3a" />
<rect x="122.30" y="662.80" width="2.00" height="15.10" fill="#7a7a7a" />
<rect x="124.30" y="662.80" width="1.90" height="15.10" fill="#3a3a3a" />
<rect x="126.20" y="662.80" width="3.00" height="15.10" fill="#141414" />
<rect x="129.20" y="662.80" width="2.90" height="15.10" fill="#b4b4b4" />
<rect x="132.10" y="662.80" width="2.00" height="15.10" fill="#7a7a7a" />
<rect x="136.00" y="662.80" width="3.00" height="15.10" fill="#3a3a3a" />
<rect x="139.00" y="662.80" width="2.90" height="15.10" fill="#7a7a7a" />
<rect x="141.90" y="662.80" width="2.00" height="15.10" fill="#141414" />
<rect x="143.90" y="662.80" width="2.90" height="15.10" fill="#7a7a7a" />
<rect x="146.80" y="662.80" width="3.00" height="15.10" fill="#b4b4b4" />
<rect x="149.80" y="662.80" width="2.90" height="15.10" fill="#3a3a3a" />
<rect x="152.70" y="662.80" width="2.90" height="15.10" fill="#7a7a7a" />
<rect x="155.60" y="662.80" width="3.00" height="15.10" fill="#141414" />
<rect x="158.60" y="662.80" width="2.90" height="15.10" fill="#3a3a3a" />
</g>
<defs><linearGradient id="g662_0"><stop offset="0" stop-color="#d45d57"/><stop offset="1" stop-color="#d8665f"/></linearGradient></defs>
<rect x="25.20" y="677.90" width="40.10" height="3.80" fill="url(#g662_0)" />
<defs><linearGradient id="g662_1"><stop offset="0" stop-color="#e8aeca"/><stop offset="1" stop-color="#e6b8d2"/></linearGradient></defs>
<rect x="65.00" y="677.90" width="25.30" height="3.80" fill="url(#g662_1)" />
<defs><linearGradient id="g662_2"><stop offset="0" stop-color="#d8d2ea"/><stop offset="1" stop-color="#ccc6e4"/></linearGradient></defs>
<rect x="90.00" y="677.90" width="23.30" height="3.80" fill="url(#g662_2)" />
<defs><linearGradient id="g662_3"><stop offset="0" stop-color="#bab4dc"/><stop offset="1" stop-color="#aaa2d6"/></linearGradient></defs>
<rect x="113.00" y="677.90" width="16.30" height="3.80" fill="url(#g662_3)" />
<defs><linearGradient id="g662_4"><stop offset="0" stop-color="#7e6ebc"/><stop offset="1" stop-color="#6c5cb0"/></linearGradient></defs>
<rect x="129.00" y="677.90" width="16.30" height="3.80" fill="url(#g662_4)" />
<defs><linearGradient id="g662_5"><stop offset="0" stop-color="#6450a8"/><stop offset="1" stop-color="#5a449e"/></linearGradient></defs>
<rect x="145.00" y="677.90" width="16.80" height="3.80" fill="url(#g662_5)" />
<text x="13.40" y="675.40" font-size="8.2" textLength="8.70" lengthAdjust="spacingAndGlyphs" >up</text>
<text x="163.50" y="675.40" font-size="8.2" textLength="18.80" lengthAdjust="spacingAndGlyphs" >down</text>
<text x="76.9" y="657.1" font-size="8" textLength="33.5" lengthAdjust="spacingAndGlyphs">Apoptosis</text>
<text x="35.50" y="692.10" font-size="7.8" textLength="31.10" lengthAdjust="spacingAndGlyphs" >NES=1.77</text>
<text x="106.00" y="692.10" font-size="7.8" textLength="37.20" lengthAdjust="spacingAndGlyphs" >FDR&lt;0.001</text>
<text x="184.30" y="15.80" font-size="10" >C</text>
<text x="245.90" y="28.80" font-size="7.6" text-anchor="middle" textLength="13.20" lengthAdjust="spacingAndGlyphs" >Klf6</text>
<text x="291.00" y="28.80" font-size="7.6" text-anchor="middle" textLength="14.50" lengthAdjust="spacingAndGlyphs" >Atf3</text>
<text x="340.20" y="28.80" font-size="7.6" text-anchor="middle" textLength="25.30" lengthAdjust="spacingAndGlyphs" >Pmaip1</text>
<text x="391.50" y="28.80" font-size="7.6" text-anchor="middle" textLength="16.30" lengthAdjust="spacingAndGlyphs" >Btg2</text>
<text x="202.20" y="152.00" font-size="8.6" textLength="131.00" lengthAdjust="spacingAndGlyphs" transform="rotate(-90 202.20 152.00)" >Relative mRNA expression in LSKs</text>
<line x1="222.40" y1="43.50" x2="222.40" y2="83.60" stroke="#222" stroke-width="1.0"/>
<line x1="222.40" y1="89.40" x2="222.40" y2="127.80" stroke="#222" stroke-width="1.0"/>
<line x1="219.20" y1="45.39" x2="222.40" y2="45.39" stroke="#222" stroke-width="1.0"/>
<text x="216.40" y="47.99" font-size="7.4" text-anchor="end" >40</text>
<line x1="219.20" y1="55.66" x2="222.40" y2="55.66" stroke="#222" stroke-width="1.0"/>
<text x="216.40" y="58.26" font-size="7.4" text-anchor="end" >30</text>
<line x1="219.20" y1="65.93" x2="222.40" y2="65.93" stroke="#222" stroke-width="1.0"/>
<text x="216.40" y="68.53" font-size="7.4" text-anchor="end" >20</text>
<line x1="219.20" y1="76.20" x2="222.40" y2="76.20" stroke="#222" stroke-width="1.0"/>
<text x="216.40" y="78.80" font-size="7.4" text-anchor="end" >10</text>
<line x1="219.20" y1="89.59" x2="222.40" y2="89.59" stroke="#222" stroke-width="1.0"/>
<text x="216.40" y="92.19" font-size="7.4" text-anchor="end" >3</text>
<line x1="219.20" y1="102.16" x2="222.40" y2="102.16" stroke="#222" stroke-width="1.0"/>
<text x="216.40" y="104.76" font-size="7.4" text-anchor="end" >2</text>
<line x1="219.20" y1="114.73" x2="222.40" y2="114.73" stroke="#222" stroke-width="1.0"/>
<text x="216.40" y="117.33" font-size="7.4" text-anchor="end" >1</text>
<line x1="219.20" y1="127.30" x2="222.40" y2="127.30" stroke="#222" stroke-width="1.0"/>
<text x="216.40" y="129.90" font-size="7.4" text-anchor="end" >0</text>
<line x1="220.90" y1="83.30" x2="224.40" y2="83.30" stroke="#222" stroke-width="1.0"/>
<line x1="222.40" y1="89.60" x2="225.40" y2="89.60" stroke="#222" stroke-width="1.0"/>
<rect x="225.20" y="111.59" width="8.30" height="15.71" fill="#a8283c" />
<line x1="229.35" y1="111.59" x2="229.35" y2="108.19" stroke="#222" stroke-width="1.0"/>
<line x1="227.05" y1="108.19" x2="231.65" y2="108.19" stroke="#222" stroke-width="1.1"/>
<line x1="229.35" y1="128.00" x2="229.35" y2="131.00" stroke="#333" stroke-width="0.9"/>
<rect x="235.80" y="89.90" width="8.30" height="37.40" fill="#3d5a85" />
<rect x="235.80" y="78.97" width="8.30" height="4.63" fill="#3d5a85" />
<line x1="239.95" y1="78.97" x2="239.95" y2="78.66" stroke="#222" stroke-width="1.0"/>
<line x1="237.65" y1="78.66" x2="242.25" y2="78.66" stroke="#222" stroke-width="1.1"/>
<line x1="239.95" y1="128.00" x2="239.95" y2="131.00" stroke="#333" stroke-width="0.9"/>
<rect x="246.20" y="121.02" width="8.30" height="6.28" fill="#dea08a" />
<line x1="250.35" y1="121.02" x2="250.35" y2="117.87" stroke="#222" stroke-width="1.0"/>
<line x1="248.05" y1="117.87" x2="252.65" y2="117.87" stroke="#222" stroke-width="1.1"/>
<line x1="250.35" y1="128.00" x2="250.35" y2="131.00" stroke="#333" stroke-width="0.9"/>
<rect x="256.60" y="110.96" width="8.30" height="16.34" fill="#9a9cc0" />
<line x1="260.75" y1="110.96" x2="260.75" y2="106.94" stroke="#222" stroke-width="1.0"/>
<line x1="258.45" y1="106.94" x2="263.05" y2="106.94" stroke="#222" stroke-width="1.1"/>
<line x1="260.75" y1="128.00" x2="260.75" y2="131.00" stroke="#333" stroke-width="0.9"/>
<rect x="274.40" y="111.59" width="8.30" height="15.71" fill="#a8283c" />
<line x1="278.55" y1="111.59" x2="278.55" y2="108.70" stroke="#222" stroke-width="1.0"/>
<line x1="276.25" y1="108.70" x2="280.85" y2="108.70" stroke="#222" stroke-width="1.1"/>
<line x1="278.55" y1="128.00" x2="278.55" y2="131.00" stroke="#333" stroke-width="0.9"/>
<rect x="285.00" y="89.90" width="8.30" height="37.40" fill="#3d5a85" />
<rect x="285.00" y="81.03" width="8.30" height="2.57" fill="#3d5a85" />
<line x1="289.15" y1="81.03" x2="289.15" y2="80.72" stroke="#222" stroke-width="1.0"/>
<line x1="286.85" y1="80.72" x2="291.45" y2="80.72" stroke="#222" stroke-width="1.1"/>
<line x1="289.15" y1="128.00" x2="289.15" y2="131.00" stroke="#333" stroke-width="0.9"/>
<rect x="295.40" y="125.79" width="8.30" height="1.51" fill="#dea08a" />
<line x1="299.55" y1="125.79" x2="299.55" y2="124.79" stroke="#222" stroke-width="1.0"/>
<line x1="297.25" y1="124.79" x2="301.85" y2="124.79" stroke="#222" stroke-width="1.1"/>
<line x1="299.55" y1="128.00" x2="299.55" y2="131.00" stroke="#333" stroke-width="0.9"/>
<rect x="305.80" y="124.79" width="8.30" height="2.51" fill="#9a9cc0" />
<line x1="309.95" y1="124.79" x2="309.95" y2="123.78" stroke="#222" stroke-width="1.0"/>
<line x1="307.65" y1="123.78" x2="312.25" y2="123.78" stroke="#222" stroke-width="1.1"/>
<line x1="309.95" y1="128.00" x2="309.95" y2="131.00" stroke="#333" stroke-width="0.9"/>
<rect x="323.50" y="109.20" width="8.30" height="18.10" fill="#a8283c" />
<line x1="327.65" y1="109.20" x2="327.65" y2="104.05" stroke="#222" stroke-width="1.0"/>
<line x1="325.35" y1="104.05" x2="329.95" y2="104.05" stroke="#222" stroke-width="1.1"/>
<line x1="327.65" y1="128.00" x2="327.65" y2="131.00" stroke="#333" stroke-width="0.9"/>
<rect x="334.10" y="89.90" width="8.30" height="37.40" fill="#3d5a85" />
<rect x="334.10" y="66.44" width="8.30" height="17.16" fill="#3d5a85" />
<line x1="338.25" y1="66.44" x2="338.25" y2="63.57" stroke="#222" stroke-width="1.0"/>
<line x1="335.95" y1="63.57" x2="340.55" y2="63.57" stroke="#222" stroke-width="1.1"/>
<line x1="338.25" y1="128.00" x2="338.25" y2="131.00" stroke="#333" stroke-width="0.9"/>
<rect x="344.50" y="126.04" width="8.30" height="1.26" fill="#dea08a" />
<line x1="348.65" y1="126.04" x2="348.65" y2="125.04" stroke="#222" stroke-width="1.0"/>
<line x1="346.35" y1="125.04" x2="350.95" y2="125.04" stroke="#222" stroke-width="1.1"/>
<line x1="348.65" y1="128.00" x2="348.65" y2="131.00" stroke="#333" stroke-width="0.9"/>
<rect x="354.90" y="89.90" width="8.30" height="37.40" fill="#9a9cc0" />
<path d="M356.30 82.2 Q359.05 84.2 361.80 82.2" stroke="#333" stroke-width="1.3" fill="none"/>
<line x1="359.05" y1="128.00" x2="359.05" y2="131.00" stroke="#333" stroke-width="0.9"/>
<rect x="372.30" y="115.61" width="8.30" height="11.69" fill="#a8283c" />
<line x1="376.45" y1="115.61" x2="376.45" y2="114.98" stroke="#222" stroke-width="1.0"/>
<line x1="374.15" y1="114.98" x2="378.75" y2="114.98" stroke="#222" stroke-width="1.1"/>
<line x1="376.45" y1="128.00" x2="376.45" y2="131.00" stroke="#333" stroke-width="0.9"/>
<rect x="382.90" y="98.26" width="8.30" height="29.04" fill="#3d5a85" />
<line x1="387.05" y1="98.26" x2="387.05" y2="92.48" stroke="#222" stroke-width="1.0"/>
<line x1="384.75" y1="92.48" x2="389.35" y2="92.48" stroke="#222" stroke-width="1.1"/>
<line x1="387.05" y1="128.00" x2="387.05" y2="131.00" stroke="#333" stroke-width="0.9"/>
<rect x="393.30" y="126.04" width="8.30" height="1.26" fill="#dea08a" />
<line x1="397.45" y1="126.04" x2="397.45" y2="125.29" stroke="#222" stroke-width="1.0"/>
<line x1="395.15" y1="125.29" x2="399.75" y2="125.29" stroke="#222" stroke-width="1.1"/>
<line x1="397.45" y1="128.00" x2="397.45" y2="131.00" stroke="#333" stroke-width="0.9"/>
<rect x="403.70" y="126.04" width="8.30" height="1.26" fill="#9a9cc0" />
<line x1="407.85" y1="126.04" x2="407.85" y2="125.29" stroke="#222" stroke-width="1.0"/>
<line x1="405.55" y1="125.29" x2="410.15" y2="125.29" stroke="#222" stroke-width="1.1"/>
<line x1="407.85" y1="128.00" x2="407.85" y2="131.00" stroke="#333" stroke-width="0.9"/>
<line x1="222.40" y1="127.60" x2="413.20" y2="127.60" stroke="#222" stroke-width="1.1"/>
<line x1="228.00" y1="74.60" x2="239.60" y2="74.60" stroke="#444" stroke-width="1.1"/>
<text x="233.80" y="74.30" font-size="6.6" text-anchor="middle" fill="#333" >***</text>
<line x1="240.60" y1="74.60" x2="250.80" y2="74.60" stroke="#444" stroke-width="1.1"/>
<text x="245.70" y="74.30" font-size="6.6" text-anchor="middle" fill="#333" >****</text>
<line x1="240.60" y1="67.50" x2="260.40" y2="67.50" stroke="#444" stroke-width="1.1"/>
<text x="250.50" y="67.20" font-size="6.6" text-anchor="middle" fill="#333" >*</text>
<line x1="276.30" y1="76.70" x2="286.30" y2="76.70" stroke="#444" stroke-width="1.1"/>
<text x="281.30" y="76.40" font-size="6.6" text-anchor="middle" fill="#333" >***</text>
<line x1="289.00" y1="76.70" x2="301.00" y2="76.70" stroke="#444" stroke-width="1.1"/>
<text x="295.00" y="76.40" font-size="6.6" text-anchor="middle" fill="#333" >***</text>
<line x1="289.80" y1="68.50" x2="307.50" y2="68.50" stroke="#444" stroke-width="1.1"/>
<text x="298.65" y="68.20" font-size="6.6" text-anchor="middle" fill="#333" >**</text>
<line x1="278.80" y1="61.70" x2="297.00" y2="61.70" stroke="#444" stroke-width="1.1"/>
<text x="287.90" y="61.40" font-size="6.6" text-anchor="middle" fill="#333" >**</text>
<line x1="278.80" y1="53.50" x2="309.40" y2="53.50" stroke="#444" stroke-width="1.1"/>
<text x="294.10" y="53.20" font-size="6.6" text-anchor="middle" fill="#333" >*</text>
<line x1="327.30" y1="59.20" x2="337.90" y2="59.20" stroke="#444" stroke-width="1.1"/>
<text x="332.60" y="58.90" font-size="6.6" text-anchor="middle" fill="#333" >***</text>
<line x1="340.40" y1="59.20" x2="352.00" y2="59.20" stroke="#444" stroke-width="1.1"/>
<text x="346.20" y="58.90" font-size="6.6" text-anchor="middle" fill="#333" >***</text>
<line x1="340.40" y1="51.20" x2="358.50" y2="51.20" stroke="#444" stroke-width="1.1"/>
<text x="349.45" y="50.90" font-size="6.6" text-anchor="middle" fill="#333" >*</text>
<line x1="330.20" y1="44.00" x2="347.90" y2="44.00" stroke="#444" stroke-width="1.1"/>
<text x="339.05" y="43.70" font-size="6.6" text-anchor="middle" fill="#333" >*</text>
<line x1="346.80" y1="79.10" x2="360.00" y2="79.10" stroke="#444" stroke-width="1.1"/>
<text x="353.40" y="78.80" font-size="6.6" text-anchor="middle" fill="#333" >**</text>
<line x1="374.60" y1="87.70" x2="385.20" y2="87.70" stroke="#444" stroke-width="1.1"/>
<text x="379.90" y="87.40" font-size="6.6" text-anchor="middle" fill="#333" >*</text>
<line x1="388.00" y1="87.70" x2="399.60" y2="87.70" stroke="#444" stroke-width="1.1"/>
<text x="393.80" y="87.40" font-size="6.6" text-anchor="middle" fill="#333" >**</text>
<line x1="388.00" y1="80.00" x2="407.00" y2="80.00" stroke="#444" stroke-width="1.1"/>
<text x="397.50" y="79.70" font-size="6.6" text-anchor="middle" fill="#333" >*</text>
<line x1="377.50" y1="72.70" x2="396.00" y2="72.70" stroke="#444" stroke-width="1.1"/>
<text x="386.75" y="72.40" font-size="6.6" text-anchor="middle" fill="#333" >****</text>
<line x1="378.00" y1="61.20" x2="408.80" y2="61.20" stroke="#444" stroke-width="1.1"/>
<text x="393.40" y="60.90" font-size="6.6" text-anchor="middle" fill="#333" >***</text>
<rect x="218.00" y="140.00" width="8.90" height="7.70" fill="#3d5a85" />
<text transform="translate(229.20 147.20) scale(0.9 1)" font-size="7.3">VavCre; JAK2<tspan font-size="5.0" dy="-3.2">V617F</tspan><tspan dy="3.2"> ;Cdk6</tspan><tspan font-size="5.8" dy="-3.2">-/-</tspan></text>
<rect x="218.00" y="154.00" width="8.90" height="7.70" fill="#a8283c" />
<text transform="translate(229.20 161.20) scale(0.9 1)" font-size="7.3">VavCre; JAK2<tspan font-size="5.0" dy="-3.2">V617F</tspan><tspan dy="3.2"> ;Cdk6</tspan><tspan font-size="5.8" dy="-3.2">+/+</tspan></text>
<rect x="334.80" y="140.00" width="8.30" height="7.50" fill="#dea08a" />
<text transform="translate(345.50 147.20) scale(0.9 1)" font-size="7.3">VavCre; Jak2<tspan font-size="5.8" dy="-3.2">+/+</tspan><tspan dy="3.2"> ;Cdk6</tspan><tspan font-size="5.8" dy="-3.2">+/+</tspan></text>
<rect x="334.80" y="154.00" width="8.30" height="7.50" fill="#9a9cc0" />
<text transform="translate(345.50 161.20) scale(0.9 1)" font-size="7.3">VavCre; Jak2<tspan font-size="5.8" dy="-3.2">+/+</tspan><tspan dy="3.2"> ;Cdk6</tspan><tspan font-size="5.8" dy="-3.2">-/-</tspan></text>
<text x="179.60" y="188.50" font-size="10.5" >D</text>
<text x="237.00" y="201.00" font-size="7.6" textLength="26.80" lengthAdjust="spacingAndGlyphs" >NF <tspan font-style="italic" font-weight="bold">&#954;</tspan>Biz</text>
<text x="297.70" y="201.00" font-size="7.6" textLength="19.30" lengthAdjust="spacingAndGlyphs" >Prkcb</text>
<text x="351.50" y="201.00" font-size="7.6" textLength="19.50" lengthAdjust="spacingAndGlyphs" >Socs3</text>
<text x="202.60" y="331.00" font-size="8.6" textLength="137.00" lengthAdjust="spacingAndGlyphs" transform="rotate(-90 202.60 331.00)" >Relative mRNA expression in LSKs</text>
<line x1="222.50" y1="212.00" x2="222.50" y2="306.80" stroke="#222" stroke-width="1.0"/>
<line x1="219.10" y1="216.05" x2="222.50" y2="216.05" stroke="#222" stroke-width="1.0"/>
<text x="216.20" y="218.75" font-size="7.6" text-anchor="end" >15</text>
<line x1="219.10" y1="246.20" x2="222.50" y2="246.20" stroke="#222" stroke-width="1.0"/>
<text x="216.20" y="248.90" font-size="7.6" text-anchor="end" >10</text>
<line x1="219.10" y1="276.35" x2="222.50" y2="276.35" stroke="#222" stroke-width="1.0"/>
<text x="216.20" y="279.05" font-size="7.6" text-anchor="end" >5</text>
<line x1="219.10" y1="306.50" x2="222.50" y2="306.50" stroke="#222" stroke-width="1.0"/>
<text x="216.20" y="309.20" font-size="7.6" text-anchor="end" >0</text>
<rect x="225.00" y="295.65" width="9.10" height="10.85" fill="#a8283c" />
<line x1="229.55" y1="295.65" x2="229.55" y2="292.63" stroke="#222" stroke-width="1.0"/>
<line x1="227.15" y1="292.63" x2="231.95" y2="292.63" stroke="#222" stroke-width="1.1"/>
<line x1="229.55" y1="307.00" x2="229.55" y2="310.00" stroke="#333" stroke-width="0.9"/>
<rect x="237.20" y="233.54" width="9.10" height="72.96" fill="#3d5a85" />
<line x1="241.75" y1="233.54" x2="241.75" y2="223.89" stroke="#222" stroke-width="1.0"/>
<line x1="239.35" y1="223.89" x2="244.15" y2="223.89" stroke="#222" stroke-width="1.1"/>
<line x1="241.75" y1="307.00" x2="241.75" y2="310.00" stroke="#333" stroke-width="0.9"/>
<rect x="249.20" y="295.34" width="9.10" height="11.16" fill="#dea08a" />
<line x1="253.75" y1="295.34" x2="253.75" y2="292.93" stroke="#222" stroke-width="1.0"/>
<line x1="251.35" y1="292.93" x2="256.15" y2="292.93" stroke="#222" stroke-width="1.1"/>
<line x1="253.75" y1="307.00" x2="253.75" y2="310.00" stroke="#333" stroke-width="0.9"/>
<rect x="261.30" y="276.95" width="9.10" height="29.55" fill="#9a9cc0" />
<line x1="265.85" y1="276.95" x2="265.85" y2="273.33" stroke="#222" stroke-width="1.0"/>
<line x1="263.45" y1="273.33" x2="268.25" y2="273.33" stroke="#222" stroke-width="1.1"/>
<line x1="265.85" y1="307.00" x2="265.85" y2="310.00" stroke="#333" stroke-width="0.9"/>
<rect x="281.50" y="299.87" width="9.10" height="6.63" fill="#a8283c" />
<line x1="286.05" y1="299.87" x2="286.05" y2="299.26" stroke="#222" stroke-width="1.0"/>
<line x1="283.65" y1="299.26" x2="288.45" y2="299.26" stroke="#222" stroke-width="1.1"/>
<line x1="286.05" y1="307.00" x2="286.05" y2="310.00" stroke="#333" stroke-width="0.9"/>
<rect x="293.70" y="304.69" width="9.10" height="1.81" fill="#3d5a85" />
<line x1="298.25" y1="304.69" x2="298.25" y2="304.21" stroke="#222" stroke-width="1.0"/>
<line x1="295.85" y1="304.21" x2="300.65" y2="304.21" stroke="#222" stroke-width="1.1"/>
<line x1="298.25" y1="307.00" x2="298.25" y2="310.00" stroke="#333" stroke-width="0.9"/>
<rect x="305.70" y="303.49" width="9.10" height="3.01" fill="#dea08a" />
<line x1="310.25" y1="303.49" x2="310.25" y2="302.76" stroke="#222" stroke-width="1.0"/>
<line x1="307.85" y1="302.76" x2="312.65" y2="302.76" stroke="#222" stroke-width="1.1"/>
<line x1="310.25" y1="307.00" x2="310.25" y2="310.00" stroke="#333" stroke-width="0.9"/>
<rect x="317.80" y="305.90" width="9.10" height="0.60" fill="#9a9cc0" />
<line x1="322.35" y1="305.90" x2="322.35" y2="305.54" stroke="#222" stroke-width="1.0"/>
<line x1="319.95" y1="305.54" x2="324.75" y2="305.54" stroke="#222" stroke-width="1.1"/>
<line x1="322.35" y1="307.00" x2="322.35" y2="310.00" stroke="#333" stroke-width="0.9"/>
<rect x="337.70" y="299.87" width="9.10" height="6.63" fill="#a8283c" />
<line x1="342.25" y1="299.87" x2="342.25" y2="299.26" stroke="#222" stroke-width="1.0"/>
<line x1="339.85" y1="299.26" x2="344.65" y2="299.26" stroke="#222" stroke-width="1.1"/>
<line x1="342.25" y1="307.00" x2="342.25" y2="310.00" stroke="#333" stroke-width="0.9"/>
<rect x="349.90" y="294.44" width="9.10" height="12.06" fill="#3d5a85" />
<line x1="354.45" y1="294.44" x2="354.45" y2="292.33" stroke="#222" stroke-width="1.0"/>
<line x1="352.05" y1="292.33" x2="356.85" y2="292.33" stroke="#222" stroke-width="1.1"/>
<line x1="354.45" y1="307.00" x2="354.45" y2="310.00" stroke="#333" stroke-width="0.9"/>
<rect x="361.90" y="304.69" width="9.10" height="1.81" fill="#dea08a" />
<line x1="366.45" y1="304.69" x2="366.45" y2="303.79" stroke="#222" stroke-width="1.0"/>
<line x1="364.05" y1="303.79" x2="368.85" y2="303.79" stroke="#222" stroke-width="1.1"/>
<line x1="366.45" y1="307.00" x2="366.45" y2="310.00" stroke="#333" stroke-width="0.9"/>
<rect x="374.00" y="304.99" width="9.10" height="1.51" fill="#9a9cc0" />
<line x1="378.55" y1="304.99" x2="378.55" y2="304.33" stroke="#222" stroke-width="1.0"/>
<line x1="376.15" y1="304.33" x2="380.95" y2="304.33" stroke="#222" stroke-width="1.1"/>
<line x1="378.55" y1="307.00" x2="378.55" y2="310.00" stroke="#333" stroke-width="0.9"/>
<line x1="222.50" y1="306.70" x2="384.50" y2="306.70" stroke="#222" stroke-width="1.1"/>
<line x1="228.50" y1="222.70" x2="241.30" y2="222.70" stroke="#444" stroke-width="1.1"/>
<text x="234.90" y="222.40" font-size="6.6" text-anchor="middle" fill="#333" >***</text>
<line x1="243.80" y1="222.70" x2="258.00" y2="222.70" stroke="#444" stroke-width="1.1"/>
<text x="250.90" y="222.40" font-size="6.6" text-anchor="middle" fill="#333" >****</text>
<line x1="242.30" y1="212.50" x2="273.00" y2="212.50" stroke="#444" stroke-width="1.1"/>
<text x="257.65" y="212.20" font-size="6.6" text-anchor="middle" fill="#333" >*</text>
<line x1="283.80" y1="290.80" x2="298.30" y2="290.80" stroke="#444" stroke-width="1.1"/>
<text x="291.05" y="290.50" font-size="6.6" text-anchor="middle" fill="#333" >****</text>
<line x1="310.00" y1="290.80" x2="324.80" y2="290.80" stroke="#444" stroke-width="1.1"/>
<text x="317.40" y="290.50" font-size="6.6" text-anchor="middle" fill="#333" >****</text>
<line x1="284.80" y1="280.00" x2="315.50" y2="280.00" stroke="#444" stroke-width="1.1"/>
<text x="300.15" y="279.70" font-size="6.6" text-anchor="middle" fill="#333" >**</text>
<line x1="284.80" y1="271.00" x2="323.00" y2="271.00" stroke="#444" stroke-width="1.1"/>
<text x="303.90" y="270.70" font-size="6.6" text-anchor="middle" fill="#333" >****</text>
<line x1="339.00" y1="286.80" x2="349.40" y2="286.80" stroke="#444" stroke-width="1.1"/>
<text x="344.20" y="286.50" font-size="6.6" text-anchor="middle" fill="#333" >*</text>
<line x1="355.00" y1="286.80" x2="370.00" y2="286.80" stroke="#444" stroke-width="1.1"/>
<text x="362.50" y="286.50" font-size="6.6" text-anchor="middle" fill="#333" >**</text>
<line x1="342.30" y1="279.00" x2="372.00" y2="279.00" stroke="#444" stroke-width="1.1"/>
<text x="357.15" y="278.70" font-size="6.6" text-anchor="middle" fill="#333" >***</text>
<line x1="343.00" y1="271.00" x2="380.80" y2="271.00" stroke="#444" stroke-width="1.1"/>
<text x="361.90" y="270.70" font-size="6.6" text-anchor="middle" fill="#333" >****</text>
<line x1="353.70" y1="263.00" x2="383.80" y2="263.00" stroke="#444" stroke-width="1.1"/>
<text x="368.75" y="262.70" font-size="6.6" text-anchor="middle" fill="#333" >**</text>
<rect x="208.60" y="318.90" width="9.60" height="7.40" fill="#a8283c" />
<text transform="translate(220.00 325.80) scale(0.9 1)" font-size="7.3">VavCre; JAK2<tspan font-size="5.0" dy="-3.2">V617F</tspan><tspan dy="3.2"> ;Cdk6</tspan><tspan font-size="5.8" dy="-3.2"> +/+</tspan></text>
<rect x="208.60" y="333.20" width="9.60" height="8.00" fill="#3d5a85" />
<text transform="translate(220.00 340.20) scale(0.9 1)" font-size="7.3">VavCre; JAK2<tspan font-size="5.0" dy="-3.2">V617F</tspan><tspan dy="3.2"> ;Cdk6</tspan><tspan font-size="5.8" dy="-3.2"> -/-</tspan></text>
<rect x="325.40" y="319.00" width="9.20" height="7.20" fill="#dea08a" />
<text transform="translate(336.80 325.80) scale(0.9 1)" font-size="7.3">VavCre; Jak2<tspan font-size="5.8" dy="-3.2"> +/+</tspan><tspan dy="3.2"> ;Cdk6</tspan><tspan font-size="5.8" dy="-3.2"> +/+</tspan></text>
<rect x="325.40" y="333.20" width="9.20" height="8.00" fill="#9a9cc0" />
<text transform="translate(336.80 340.20) scale(0.9 1)" font-size="7.3">VavCre; Jak2<tspan font-size="5.8" dy="-3.2"> +/+</tspan><tspan dy="3.2"> ;Cdk6</tspan><tspan font-size="5.8" dy="-3.2"> -/-</tspan></text>
<text x="181.30" y="367.20" font-size="9.8" >E</text>
<text x="232.20" y="380.40" font-size="7.4" textLength="17.10" lengthAdjust="spacingAndGlyphs" >IFN <tspan>&#947;</tspan></text>
<text x="273.80" y="380.40" font-size="7.4" textLength="17.80" lengthAdjust="spacingAndGlyphs" >IL-1 <tspan>&#946;</tspan></text>
<text x="317.70" y="380.40" font-size="7.4" textLength="12.90" lengthAdjust="spacingAndGlyphs" >IL-5</text>
<text x="359.40" y="380.40" font-size="7.4" textLength="12.60" lengthAdjust="spacingAndGlyphs" >IL-6</text>
<text x="398.80" y="380.40" font-size="7.4" textLength="16.20" lengthAdjust="spacingAndGlyphs" >IL-13</text>
<text x="440.00" y="380.40" font-size="7.4" textLength="16.50" lengthAdjust="spacingAndGlyphs" >IL-18</text>
<text x="478.50" y="380.40" font-size="7.4" textLength="23.50" lengthAdjust="spacingAndGlyphs" >TNF- <tspan>&#945;</tspan></text>
<text x="198.60" y="457.80" font-size="8.4" textLength="64.00" lengthAdjust="spacingAndGlyphs" transform="rotate(-90 198.60 457.80)" >pg/ml in plasma</text>
<line x1="222.70" y1="385.80" x2="222.70" y2="421.90" stroke="#222" stroke-width="1.0"/>
<line x1="222.70" y1="427.60" x2="222.70" y2="466.60" stroke="#222" stroke-width="1.0"/>
<line x1="221.40" y1="421.50" x2="224.00" y2="421.50" stroke="#222" stroke-width="1.0"/>
<line x1="219.40" y1="388.72" x2="222.70" y2="388.72" stroke="#222" stroke-width="1.0"/>
<text x="216.60" y="391.12" font-size="7.0" text-anchor="end" textLength="12.00" lengthAdjust="spacingAndGlyphs" >800</text>
<line x1="219.40" y1="397.29" x2="222.70" y2="397.29" stroke="#222" stroke-width="1.0"/>
<text x="216.60" y="399.69" font-size="7.0" text-anchor="end" textLength="12.00" lengthAdjust="spacingAndGlyphs" >600</text>
<line x1="219.40" y1="405.86" x2="222.70" y2="405.86" stroke="#222" stroke-width="1.0"/>
<text x="216.60" y="408.26" font-size="7.0" text-anchor="end" textLength="12.00" lengthAdjust="spacingAndGlyphs" >400</text>
<line x1="219.40" y1="414.43" x2="222.70" y2="414.43" stroke="#222" stroke-width="1.0"/>
<text x="216.60" y="416.83" font-size="7.0" text-anchor="end" textLength="12.00" lengthAdjust="spacingAndGlyphs" >200</text>
<line x1="219.40" y1="427.78" x2="222.70" y2="427.78" stroke="#222" stroke-width="1.0"/>
<text x="216.60" y="430.18" font-size="7.0" text-anchor="end" >30</text>
<line x1="219.40" y1="440.62" x2="222.70" y2="440.62" stroke="#222" stroke-width="1.0"/>
<text x="216.60" y="443.02" font-size="7.0" text-anchor="end" >20</text>
<line x1="219.40" y1="453.46" x2="222.70" y2="453.46" stroke="#222" stroke-width="1.0"/>
<text x="216.60" y="455.86" font-size="7.0" text-anchor="end" >10</text>
<line x1="219.40" y1="466.30" x2="222.70" y2="466.30" stroke="#222" stroke-width="1.0"/>
<text x="216.60" y="468.70" font-size="7.0" text-anchor="end" >0</text>
<line x1="222.70" y1="427.80" x2="224.50" y2="427.80" stroke="#222" stroke-width="1.0"/>
<line x1="228.70" y1="467.00" x2="228.70" y2="470.00" stroke="#333" stroke-width="0.9"/>
<rect x="225.40" y="464.76" width="6.60" height="1.54" fill="#a8283c" />
<line x1="228.70" y1="464.76" x2="228.70" y2="464.37" stroke="#222" stroke-width="1.0"/>
<line x1="226.70" y1="464.37" x2="230.70" y2="464.37" stroke="#222" stroke-width="1.1"/>
<line x1="237.10" y1="467.00" x2="237.10" y2="470.00" stroke="#333" stroke-width="0.9"/>
<rect x="233.80" y="463.99" width="6.60" height="2.31" fill="#3d5a85" />
<line x1="237.10" y1="463.99" x2="237.10" y2="462.70" stroke="#222" stroke-width="1.0"/>
<line x1="235.10" y1="462.70" x2="239.10" y2="462.70" stroke="#222" stroke-width="1.1"/>
<line x1="245.50" y1="467.00" x2="245.50" y2="470.00" stroke="#333" stroke-width="0.9"/>
<rect x="242.20" y="463.73" width="6.60" height="2.57" fill="#dea08a" />
<line x1="245.50" y1="463.73" x2="245.50" y2="462.19" stroke="#222" stroke-width="1.0"/>
<line x1="243.50" y1="462.19" x2="247.50" y2="462.19" stroke="#222" stroke-width="1.1"/>
<line x1="253.80" y1="467.00" x2="253.80" y2="470.00" stroke="#333" stroke-width="0.9"/>
<rect x="250.50" y="462.70" width="6.60" height="3.60" fill="#9a9cc0" />
<line x1="253.80" y1="462.70" x2="253.80" y2="461.16" stroke="#222" stroke-width="1.0"/>
<line x1="251.80" y1="461.16" x2="255.80" y2="461.16" stroke="#222" stroke-width="1.1"/>
<line x1="270.30" y1="467.00" x2="270.30" y2="470.00" stroke="#333" stroke-width="0.9"/>
<rect x="267.00" y="459.88" width="6.60" height="6.42" fill="#a8283c" />
<line x1="270.30" y1="459.88" x2="270.30" y2="456.03" stroke="#222" stroke-width="1.0"/>
<line x1="268.30" y1="456.03" x2="272.30" y2="456.03" stroke="#222" stroke-width="1.1"/>
<line x1="278.70" y1="467.00" x2="278.70" y2="470.00" stroke="#333" stroke-width="0.9"/>
<rect x="275.40" y="465.02" width="6.60" height="1.28" fill="#3d5a85" />
<line x1="278.70" y1="465.02" x2="278.70" y2="464.63" stroke="#222" stroke-width="1.0"/>
<line x1="276.70" y1="464.63" x2="280.70" y2="464.63" stroke="#222" stroke-width="1.1"/>
<line x1="287.10" y1="467.00" x2="287.10" y2="470.00" stroke="#333" stroke-width="0.9"/>
<rect x="283.80" y="463.73" width="6.60" height="2.57" fill="#dea08a" />
<line x1="287.10" y1="463.73" x2="287.10" y2="461.81" stroke="#222" stroke-width="1.0"/>
<line x1="285.10" y1="461.81" x2="289.10" y2="461.81" stroke="#222" stroke-width="1.1"/>
<line x1="295.40" y1="467.00" x2="295.40" y2="470.00" stroke="#333" stroke-width="0.9"/>
<rect x="292.10" y="462.45" width="6.60" height="3.85" fill="#9a9cc0" />
<line x1="295.40" y1="462.45" x2="295.40" y2="461.93" stroke="#222" stroke-width="1.0"/>
<line x1="293.40" y1="461.93" x2="297.40" y2="461.93" stroke="#222" stroke-width="1.1"/>
<line x1="311.30" y1="467.00" x2="311.30" y2="470.00" stroke="#333" stroke-width="0.9"/>
<rect x="308.00" y="449.99" width="6.60" height="16.31" fill="#a8283c" />
<line x1="311.30" y1="449.99" x2="311.30" y2="436.77" stroke="#222" stroke-width="1.0"/>
<line x1="309.30" y1="436.77" x2="313.30" y2="436.77" stroke="#222" stroke-width="1.1"/>
<line x1="319.70" y1="467.00" x2="319.70" y2="470.00" stroke="#333" stroke-width="0.9"/>
<rect x="316.40" y="449.99" width="6.60" height="16.31" fill="#3d5a85" />
<line x1="319.70" y1="449.99" x2="319.70" y2="444.47" stroke="#222" stroke-width="1.0"/>
<line x1="317.70" y1="444.47" x2="321.70" y2="444.47" stroke="#222" stroke-width="1.1"/>
<line x1="328.10" y1="467.00" x2="328.10" y2="470.00" stroke="#333" stroke-width="0.9"/>
<rect x="324.80" y="455.39" width="6.60" height="10.91" fill="#dea08a" />
<line x1="328.10" y1="455.39" x2="328.10" y2="449.86" stroke="#222" stroke-width="1.0"/>
<line x1="326.10" y1="449.86" x2="330.10" y2="449.86" stroke="#222" stroke-width="1.1"/>
<line x1="336.40" y1="467.00" x2="336.40" y2="470.00" stroke="#333" stroke-width="0.9"/>
<rect x="333.10" y="428.30" width="6.60" height="38.00" fill="#9a9cc0" />
<path d="M333.70 422.2 Q336.40 418.6 339.10 422.2 Z" fill="#9a9cc0"/>
<line x1="334.30" y1="420.70" x2="338.50" y2="420.70" stroke="#333" stroke-width="0.9"/>
<line x1="353.10" y1="467.00" x2="353.10" y2="470.00" stroke="#333" stroke-width="0.9"/>
<rect x="349.80" y="428.30" width="6.60" height="38.00" fill="#a8283c" />
<rect x="349.80" y="416.87" width="6.60" height="5.13" fill="#a8283c" />
<line x1="353.10" y1="416.87" x2="353.10" y2="406.80" stroke="#222" stroke-width="1.0"/>
<line x1="351.10" y1="406.80" x2="355.10" y2="406.80" stroke="#222" stroke-width="1.1"/>
<line x1="361.50" y1="467.00" x2="361.50" y2="470.00" stroke="#333" stroke-width="0.9"/>
<rect x="358.20" y="454.23" width="6.60" height="12.07" fill="#3d5a85" />
<line x1="361.50" y1="454.23" x2="361.50" y2="449.22" stroke="#222" stroke-width="1.0"/>
<line x1="359.50" y1="449.22" x2="363.50" y2="449.22" stroke="#222" stroke-width="1.1"/>
<line x1="369.90" y1="467.00" x2="369.90" y2="470.00" stroke="#333" stroke-width="0.9"/>
<rect x="366.60" y="457.31" width="6.60" height="8.99" fill="#dea08a" />
<line x1="369.90" y1="457.31" x2="369.90" y2="450.25" stroke="#222" stroke-width="1.0"/>
<line x1="367.90" y1="450.25" x2="371.90" y2="450.25" stroke="#222" stroke-width="1.1"/>
<line x1="378.20" y1="467.00" x2="378.20" y2="470.00" stroke="#333" stroke-width="0.9"/>
<rect x="374.90" y="452.18" width="6.60" height="14.12" fill="#9a9cc0" />
<line x1="378.20" y1="452.18" x2="378.20" y2="443.19" stroke="#222" stroke-width="1.0"/>
<line x1="376.20" y1="443.19" x2="380.20" y2="443.19" stroke="#222" stroke-width="1.1"/>
<line x1="394.50" y1="467.00" x2="394.50" y2="470.00" stroke="#333" stroke-width="0.9"/>
<rect x="391.20" y="454.74" width="6.60" height="11.56" fill="#a8283c" />
<line x1="394.50" y1="454.74" x2="394.50" y2="444.47" stroke="#222" stroke-width="1.0"/>
<line x1="392.50" y1="444.47" x2="396.50" y2="444.47" stroke="#222" stroke-width="1.1"/>
<line x1="402.90" y1="467.00" x2="402.90" y2="470.00" stroke="#333" stroke-width="0.9"/>
<rect x="399.60" y="462.45" width="6.60" height="3.85" fill="#3d5a85" />
<line x1="402.90" y1="462.45" x2="402.90" y2="461.93" stroke="#222" stroke-width="1.0"/>
<line x1="400.90" y1="461.93" x2="404.90" y2="461.93" stroke="#222" stroke-width="1.1"/>
<line x1="411.30" y1="467.00" x2="411.30" y2="470.00" stroke="#333" stroke-width="0.9"/>
<rect x="408.00" y="461.81" width="6.60" height="4.49" fill="#dea08a" />
<line x1="411.30" y1="461.81" x2="411.30" y2="461.16" stroke="#222" stroke-width="1.0"/>
<line x1="409.30" y1="461.16" x2="413.30" y2="461.16" stroke="#222" stroke-width="1.1"/>
<line x1="419.60" y1="467.00" x2="419.60" y2="470.00" stroke="#333" stroke-width="0.9"/>
<rect x="416.30" y="459.24" width="6.60" height="7.06" fill="#9a9cc0" />
<line x1="419.60" y1="459.24" x2="419.60" y2="456.67" stroke="#222" stroke-width="1.0"/>
<line x1="417.60" y1="456.67" x2="421.60" y2="456.67" stroke="#222" stroke-width="1.1"/>
<line x1="436.10" y1="467.00" x2="436.10" y2="470.00" stroke="#333" stroke-width="0.9"/>
<rect x="432.80" y="428.30" width="6.60" height="38.00" fill="#a8283c" />
<rect x="432.80" y="400.89" width="6.60" height="21.11" fill="#a8283c" />
<line x1="436.10" y1="400.89" x2="436.10" y2="389.71" stroke="#222" stroke-width="1.0"/>
<line x1="434.10" y1="389.71" x2="438.10" y2="389.71" stroke="#222" stroke-width="1.1"/>
<line x1="444.50" y1="467.00" x2="444.50" y2="470.00" stroke="#333" stroke-width="0.9"/>
<rect x="441.20" y="428.30" width="6.60" height="38.00" fill="#3d5a85" />
<rect x="441.20" y="406.72" width="6.60" height="15.28" fill="#3d5a85" />
<line x1="444.50" y1="406.72" x2="444.50" y2="402.47" stroke="#222" stroke-width="1.0"/>
<line x1="442.50" y1="402.47" x2="446.50" y2="402.47" stroke="#222" stroke-width="1.1"/>
<line x1="452.90" y1="467.00" x2="452.90" y2="470.00" stroke="#333" stroke-width="0.9"/>
<rect x="449.60" y="428.30" width="6.60" height="38.00" fill="#dea08a" />
<rect x="449.60" y="409.03" width="6.60" height="12.97" fill="#dea08a" />
<line x1="452.90" y1="409.03" x2="452.90" y2="402.99" stroke="#222" stroke-width="1.0"/>
<line x1="450.90" y1="402.99" x2="454.90" y2="402.99" stroke="#222" stroke-width="1.1"/>
<line x1="461.20" y1="467.00" x2="461.20" y2="470.00" stroke="#333" stroke-width="0.9"/>
<rect x="457.90" y="428.30" width="6.60" height="38.00" fill="#9a9cc0" />
<rect x="457.90" y="405.99" width="6.60" height="16.01" fill="#9a9cc0" />
<line x1="461.20" y1="405.99" x2="461.20" y2="404.10" stroke="#222" stroke-width="1.0"/>
<line x1="459.20" y1="404.10" x2="463.20" y2="404.10" stroke="#222" stroke-width="1.1"/>
<line x1="477.50" y1="467.00" x2="477.50" y2="470.00" stroke="#333" stroke-width="0.9"/>
<rect x="474.20" y="459.88" width="6.60" height="6.42" fill="#a8283c" />
<line x1="477.50" y1="459.88" x2="477.50" y2="458.21" stroke="#222" stroke-width="1.0"/>
<line x1="475.50" y1="458.21" x2="479.50" y2="458.21" stroke="#222" stroke-width="1.1"/>
<line x1="485.90" y1="467.00" x2="485.90" y2="470.00" stroke="#333" stroke-width="0.9"/>
<rect x="482.60" y="463.09" width="6.60" height="3.21" fill="#3d5a85" />
<line x1="485.90" y1="463.09" x2="485.90" y2="462.45" stroke="#222" stroke-width="1.0"/>
<line x1="483.90" y1="462.45" x2="487.90" y2="462.45" stroke="#222" stroke-width="1.1"/>
<line x1="494.30" y1="467.00" x2="494.30" y2="470.00" stroke="#333" stroke-width="0.9"/>
<rect x="491.00" y="459.88" width="6.60" height="6.42" fill="#dea08a" />
<line x1="494.30" y1="459.88" x2="494.30" y2="457.95" stroke="#222" stroke-width="1.0"/>
<line x1="492.30" y1="457.95" x2="496.30" y2="457.95" stroke="#222" stroke-width="1.1"/>
<line x1="502.60" y1="467.00" x2="502.60" y2="470.00" stroke="#333" stroke-width="0.9"/>
<line x1="222.70" y1="466.40" x2="513.00" y2="466.40" stroke="#222" stroke-width="1.1"/>
<text x="498.80" y="465.00" font-size="6.0" textLength="10.00" lengthAdjust="spacingAndGlyphs" >N/A</text>
<line x1="266.00" y1="435.00" x2="276.60" y2="435.00" stroke="#444" stroke-width="1.1"/>
<line x1="268.00" y1="442.00" x2="285.00" y2="442.00" stroke="#444" stroke-width="1.1"/>
<line x1="308.00" y1="402.00" x2="334.00" y2="402.00" stroke="#444" stroke-width="1.1"/>
<line x1="316.20" y1="408.50" x2="332.50" y2="408.50" stroke="#444" stroke-width="1.1"/>
<line x1="321.30" y1="414.80" x2="332.50" y2="414.80" stroke="#444" stroke-width="1.1"/>
<line x1="349.20" y1="387.90" x2="359.40" y2="387.90" stroke="#444" stroke-width="1.1"/>
<line x1="349.20" y1="395.20" x2="367.00" y2="395.20" stroke="#444" stroke-width="1.1"/>
<text x="270.80" y="434.40" font-size="6.6" text-anchor="middle" fill="#333" >*</text>
<text x="275.70" y="441.70" font-size="6.6" text-anchor="middle" fill="#333" >*</text>
<text x="320.60" y="401.70" font-size="6.6" text-anchor="middle" fill="#333" >*</text>
<text x="324.20" y="408.40" font-size="6.6" text-anchor="middle" fill="#333" >*</text>
<text x="324.20" y="414.50" font-size="6.6" text-anchor="middle" fill="#333" >*</text>
<text x="353.30" y="387.20" font-size="6.6" text-anchor="middle" fill="#333" >*</text>
<text x="353.30" y="394.40" font-size="6.6" text-anchor="middle" fill="#333" >*</text>
<rect x="245.40" y="479.20" width="9.50" height="7.80" fill="#a8283c" />
<text transform="translate(257.00 485.80) scale(0.9 1)" font-size="7.3">VavCre; JAK2<tspan font-size="5.0" dy="-3.2">V617F</tspan><tspan dy="3.2"> ;Cdk6</tspan><tspan font-size="5.8" dy="-3.2"> +/+</tspan></text>
<rect x="245.40" y="492.80" width="9.50" height="7.70" fill="#3d5a85" />
<text transform="translate(257.00 499.50) scale(0.9 1)" font-size="7.3">VavCre; JAK2<tspan font-size="5.0" dy="-3.2">V617F</tspan><tspan dy="3.2"> ;Cdk6</tspan><tspan font-size="5.8" dy="-3.2"> -/-</tspan></text>
<rect x="361.90" y="479.20" width="9.60" height="7.70" fill="#dea08a" />
<text transform="translate(373.50 485.80) scale(0.9 1)" font-size="7.3">VavCre; Jak2<tspan font-size="5.8" dy="-3.2"> +/+</tspan><tspan dy="3.2"> ;Cdk6</tspan><tspan font-size="5.8" dy="-3.2"> +/+</tspan></text>
<rect x="361.90" y="492.70" width="9.60" height="8.10" fill="#9a9cc0" />
<text transform="translate(373.50 499.50) scale(0.9 1)" font-size="7.3">VavCre; Jak2<tspan font-size="5.8" dy="-3.2"> +/+</tspan><tspan dy="3.2"> ;Cdk6</tspan><tspan font-size="5.8" dy="-3.2"> -/-</tspan></text>
<text x="204.60" y="558.00" font-size="9.6" >F</text>
<rect x="313.8" y="563.4" width="186.6" height="74.8" fill="none" stroke="#333" stroke-width="1"/>
<circle cx="327.00" cy="573.80" r="3.50" fill="#7a2a45"/>
<circle cx="344.80" cy="573.80" r="2.50" fill="#5e2c4e"/>
<circle cx="362.60" cy="573.80" r="3.50" fill="#7a2a45"/>
<circle cx="380.40" cy="573.80" r="3.50" fill="#7a2a45"/>
<circle cx="398.40" cy="573.80" r="3.30" fill="#732846"/>
<circle cx="416.30" cy="573.80" r="3.60" fill="#7c2a48"/>
<circle cx="434.20" cy="573.80" r="3.70" fill="#7e2b47"/>
<circle cx="452.30" cy="573.80" r="3.10" fill="#6a2546"/>
<circle cx="470.00" cy="573.80" r="3.00" fill="#6e2848"/>
<circle cx="487.80" cy="573.80" r="3.70" fill="#c85a35"/>
<circle cx="327.00" cy="592.00" r="9.80" fill="#c96437"/>
<circle cx="344.80" cy="592.00" r="7.00" fill="#c65a35"/>
<circle cx="362.60" cy="592.00" r="7.30" fill="#c96437"/>
<circle cx="380.40" cy="592.00" r="7.50" fill="#c96437"/>
<circle cx="398.40" cy="592.00" r="5.20" fill="#9a3040"/>
<circle cx="416.30" cy="592.00" r="6.30" fill="#b8383a"/>
<circle cx="434.20" cy="592.00" r="7.70" fill="#c96437"/>
<circle cx="452.30" cy="592.00" r="2.00" fill="#2e3f6a"/>
<circle cx="470.00" cy="592.00" r="5.20" fill="#943040"/>
<circle cx="487.80" cy="592.00" r="6.00" fill="#c86437"/>
<circle cx="327.00" cy="610.00" r="2.00" fill="#2e3f6a"/>
<circle cx="344.80" cy="610.00" r="2.50" fill="#4a3558"/>
<circle cx="362.60" cy="610.00" r="3.00" fill="#6c2846"/>
<circle cx="380.40" cy="610.00" r="3.00" fill="#6c2846"/>
<circle cx="398.40" cy="610.00" r="2.70" fill="#5a2d50"/>
<circle cx="416.30" cy="610.00" r="2.50" fill="#4a3a60"/>
<circle cx="434.20" cy="610.00" r="1.70" fill="#1e2a48"/>
<circle cx="452.30" cy="610.00" r="2.20" fill="#2e4a70"/>
<circle cx="470.00" cy="610.00" r="0.80" fill="#d07050"/>
<circle cx="487.80" cy="610.00" r="2.00" fill="#c85035"/>
<circle cx="327.00" cy="627.80" r="4.30" fill="#8a2a40"/>
<circle cx="344.80" cy="627.80" r="7.80" fill="#c96437"/>
<circle cx="362.60" cy="627.80" r="2.00" fill="#2e4a70"/>
<circle cx="380.40" cy="627.80" r="2.00" fill="#2e4a70"/>
<circle cx="398.40" cy="627.80" r="2.00" fill="#2e4a70"/>
<circle cx="416.30" cy="627.80" r="1.70" fill="#1e2a48"/>
<circle cx="434.20" cy="627.80" r="5.50" fill="#a83038"/>
<circle cx="452.30" cy="627.80" r="3.00" fill="#7a2545"/>
<circle cx="470.00" cy="627.80" r="2.00" fill="#c85a35"/>
<circle cx="487.80" cy="627.80" r="3.00" fill="#c96437"/>
<line x1="311.20" y1="573.80" x2="313.80" y2="573.80" stroke="#333" stroke-width="0.9"/>
<line x1="311.20" y1="592.00" x2="313.80" y2="592.00" stroke="#333" stroke-width="0.9"/>
<line x1="311.20" y1="610.00" x2="313.80" y2="610.00" stroke="#333" stroke-width="0.9"/>
<line x1="311.20" y1="627.80" x2="313.80" y2="627.80" stroke="#333" stroke-width="0.9"/>
<line x1="327.00" y1="638.20" x2="327.00" y2="640.80" stroke="#333" stroke-width="0.9"/>
<line x1="344.80" y1="638.20" x2="344.80" y2="640.80" stroke="#333" stroke-width="0.9"/>
<line x1="362.60" y1="638.20" x2="362.60" y2="640.80" stroke="#333" stroke-width="0.9"/>
<line x1="380.40" y1="638.20" x2="380.40" y2="640.80" stroke="#333" stroke-width="0.9"/>
<line x1="398.40" y1="638.20" x2="398.40" y2="640.80" stroke="#333" stroke-width="0.9"/>
<line x1="416.30" y1="638.20" x2="416.30" y2="640.80" stroke="#333" stroke-width="0.9"/>
<line x1="434.20" y1="638.20" x2="434.20" y2="640.80" stroke="#333" stroke-width="0.9"/>
<line x1="452.30" y1="638.20" x2="452.30" y2="640.80" stroke="#333" stroke-width="0.9"/>
<line x1="470.00" y1="638.20" x2="470.00" y2="640.80" stroke="#333" stroke-width="0.9"/>
<line x1="487.80" y1="638.20" x2="487.80" y2="640.80" stroke="#333" stroke-width="0.9"/>
<text transform="translate(226.60 576.40) scale(0.9 1)" font-size="7.3">VavCre; JAK2<tspan font-size="5.0" dy="-3.2">V617F</tspan><tspan dy="3.2"> ;Cdk6</tspan><tspan font-size="5.8" dy="-3.2"> +/+</tspan></text>
<text transform="translate(218.80 594.60) scale(0.9 1)" font-size="7.3">VavCre; JAK2<tspan font-size="5.0" dy="-3.2">V617F</tspan><tspan dy="3.2"> ;Cdk6</tspan><tspan font-size="5.8" dy="-3.2"> -/-</tspan></text>
<text transform="translate(232.00 612.60) scale(0.9 1)" font-size="7.3">VavCre; Jak2<tspan font-size="5.8" dy="-3.2"> +/+</tspan><tspan dy="3.2"> ;Cdk6</tspan><tspan font-size="5.8" dy="-3.2"> +/+</tspan></text>
<text transform="translate(235.00 630.40) scale(0.9 1)" font-size="7.3">VavCre; Jak2<tspan font-size="5.8" dy="-3.2"> +/+</tspan><tspan dy="3.2"> ;Cdk6</tspan><tspan font-size="5.8" dy="-3.2"> -/-</tspan></text>
<text transform="translate(330.40 646.60) rotate(-45) scale(0.88 1)" font-size="7.8" text-anchor="end">Egr1</text>
<text transform="translate(348.20 646.60) rotate(-45) scale(0.88 1)" font-size="7.8" text-anchor="end">Klf4</text>
<text transform="translate(366.00 646.60) rotate(-45) scale(0.88 1)" font-size="7.8" text-anchor="end">Klf6</text>
<text transform="translate(383.80 646.60) rotate(-45) scale(0.88 1)" font-size="7.8" text-anchor="end">Fosb</text>
<text transform="translate(401.80 646.60) rotate(-45) scale(0.88 1)" font-size="7.8" text-anchor="end">Junb</text>
<text transform="translate(419.70 646.60) rotate(-45) scale(0.88 1)" font-size="7.8" text-anchor="end">Egr3</text>
<text transform="translate(437.60 646.60) rotate(-45) scale(0.88 1)" font-size="7.8" text-anchor="end">Nr4a2</text>
<text transform="translate(455.70 646.60) rotate(-45) scale(0.88 1)" font-size="7.8" text-anchor="end">p18</text>
<text transform="translate(473.40 646.60) rotate(-45) scale(0.88 1)" font-size="7.8" text-anchor="end">Nr4a1</text>
<text transform="translate(491.20 646.60) rotate(-45) scale(0.88 1)" font-size="7.8" text-anchor="end">Spry1</text>
<circle cx="437.70" cy="672.50" r="1.10" fill="#1e2a48"/>
<circle cx="452.10" cy="672.50" r="3.30" fill="#6a2546"/>
<circle cx="468.70" cy="672.50" r="6.90" fill="#c85a38"/>
<circle cx="491.20" cy="672.50" r="9.60" fill="#c96437"/>
<text transform="translate(437.60 691.70) scale(0.92 1)" font-size="7.4" text-anchor="middle">0.1</text>
<text transform="translate(452.20 691.70) scale(0.92 1)" font-size="7.4" text-anchor="middle">1.0</text>
<text transform="translate(468.70 691.70) scale(0.92 1)" font-size="7.4" text-anchor="middle">5.0</text>
<text transform="translate(491.20 691.70) scale(0.92 1)" font-size="7.4" text-anchor="middle">10.0</text>
<rect x="0" y="0" width="520" height="1" fill="#4d4d4d"/>
<rect x="0" y="1" width="520" height="1" fill="#c4c4c4"/>
<rect x="0" y="0" width="1" height="701" fill="#0a0a0a"/>
<rect x="1" y="1" width="1" height="699" fill="#9a9a9a" opacity="0.5"/>
<rect x="519" y="0" width="1" height="701" fill="#444"/>
<rect x="518" y="0" width="1" height="701" fill="#8a8a8a"/>
<rect x="0" y="700" width="520" height="1" fill="#0a0a0a"/>
</svg>
</body></html>
